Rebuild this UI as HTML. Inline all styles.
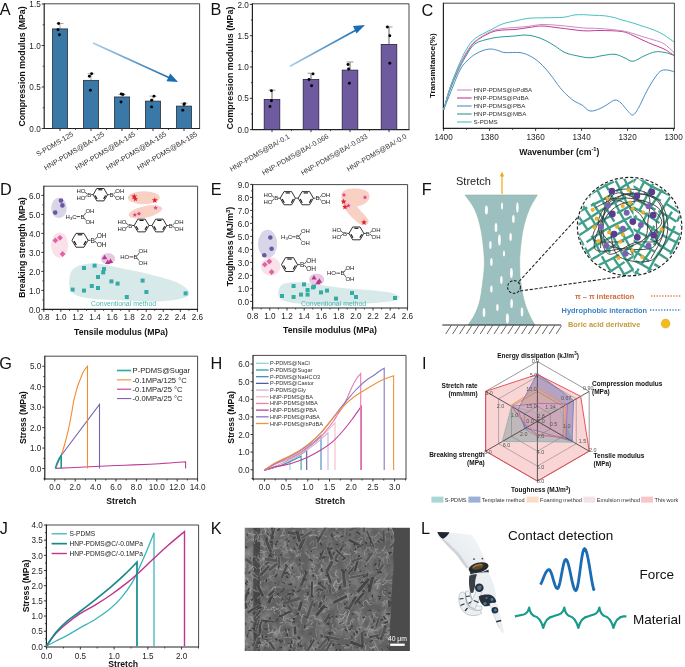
<!DOCTYPE html>
<html><head><meta charset="utf-8"><title>Figure</title>
<style>
html,body{margin:0;padding:0;background:#fff;width:685px;height:667px;overflow:hidden}
svg{display:block;font-family:"Liberation Sans", sans-serif;will-change:transform}
</style></head><body>
<svg width="685" height="667" viewBox="0 0 685 667">
<rect width="685" height="667" fill="#fff"/>
<text x="-0.2" y="15.4" font-size="16.3" text-anchor="start" fill="#111">A</text>
<line x1="44.2" y1="3.8" x2="199.6" y2="3.8" stroke="#333" stroke-width="0.9"/>
<line x1="199.6" y1="3.8" x2="199.6" y2="128.5" stroke="#333" stroke-width="0.9"/>
<line x1="44.2" y1="3.35" x2="44.2" y2="128.95" stroke="#222" stroke-width="1.2"/>
<line x1="43.6" y1="128.5" x2="200.05" y2="128.5" stroke="#222" stroke-width="1.2"/>
<line x1="41.7" y1="128.5" x2="44.2" y2="128.5" stroke="#222" stroke-width="0.9"/>
<text x="0" y="0" font-size="9.27" text-anchor="end" fill="#1e1e1e" transform="translate(40.7 131.65) scale(0.88 1)">0.0</text>
<line x1="41.7" y1="87" x2="44.2" y2="87" stroke="#222" stroke-width="0.9"/>
<text x="0" y="0" font-size="9.27" text-anchor="end" fill="#1e1e1e" transform="translate(40.7 90.15) scale(0.88 1)">0.5</text>
<line x1="41.7" y1="45.5" x2="44.2" y2="45.5" stroke="#222" stroke-width="0.9"/>
<text x="0" y="0" font-size="9.27" text-anchor="end" fill="#1e1e1e" transform="translate(40.7 48.65) scale(0.88 1)">1.0</text>
<line x1="41.7" y1="4" x2="44.2" y2="4" stroke="#222" stroke-width="0.9"/>
<text x="0" y="0" font-size="9.27" text-anchor="end" fill="#1e1e1e" transform="translate(40.7 7.15) scale(0.88 1)">1.5</text>
<line x1="42.7" y1="107.75" x2="44.2" y2="107.75" stroke="#222" stroke-width="0.8"/>
<line x1="42.7" y1="66.25" x2="44.2" y2="66.25" stroke="#222" stroke-width="0.8"/>
<line x1="42.7" y1="24.75" x2="44.2" y2="24.75" stroke="#222" stroke-width="0.8"/>
<text x="25.2" y="66.5" font-size="8.7" text-anchor="middle" fill="#111" font-weight="bold" transform="rotate(-90 25.2 66.5)">Compression modulus (MPa)</text>
<line x1="60" y1="28.9" x2="60" y2="23.51" stroke="#aaa" stroke-width="1"/>
<line x1="56.5" y1="23.51" x2="63.5" y2="23.51" stroke="#aaa" stroke-width="1"/>
<rect x="52.4" y="28.9" width="15.2" height="99.6" fill="#3a78a8" stroke="#2a3038" stroke-width="0.8"/>
<circle cx="58.6" cy="23.51" r="1.45" fill="#000" stroke="none" stroke-width="1"/>
<circle cx="58" cy="29.73" r="1.45" fill="#000" stroke="none" stroke-width="1"/>
<circle cx="59.4" cy="34.71" r="1.45" fill="#000" stroke="none" stroke-width="1"/>
<line x1="91" y1="80.36" x2="91" y2="73.72" stroke="#aaa" stroke-width="1"/>
<line x1="87.5" y1="73.72" x2="94.5" y2="73.72" stroke="#aaa" stroke-width="1"/>
<rect x="83.4" y="80.36" width="15.2" height="48.14" fill="#3a78a8" stroke="#2a3038" stroke-width="0.8"/>
<circle cx="91.6" cy="73.72" r="1.45" fill="#000" stroke="none" stroke-width="1"/>
<circle cx="89.4" cy="76.21" r="1.45" fill="#000" stroke="none" stroke-width="1"/>
<circle cx="90.4" cy="90.32" r="1.45" fill="#000" stroke="none" stroke-width="1"/>
<line x1="122" y1="96.96" x2="122" y2="94.47" stroke="#aaa" stroke-width="1"/>
<line x1="118.5" y1="94.47" x2="125.5" y2="94.47" stroke="#aaa" stroke-width="1"/>
<rect x="114.4" y="96.96" width="15.2" height="31.54" fill="#3a78a8" stroke="#2a3038" stroke-width="0.8"/>
<circle cx="121.2" cy="94.06" r="1.45" fill="#000" stroke="none" stroke-width="1"/>
<circle cx="123" cy="94.47" r="1.45" fill="#000" stroke="none" stroke-width="1"/>
<circle cx="121" cy="101.94" r="1.45" fill="#000" stroke="none" stroke-width="1"/>
<line x1="153" y1="101.11" x2="153" y2="96.13" stroke="#aaa" stroke-width="1"/>
<line x1="149.5" y1="96.13" x2="156.5" y2="96.13" stroke="#aaa" stroke-width="1"/>
<rect x="145.4" y="101.11" width="15.2" height="27.39" fill="#3a78a8" stroke="#2a3038" stroke-width="0.8"/>
<circle cx="154" cy="96.13" r="1.45" fill="#000" stroke="none" stroke-width="1"/>
<circle cx="151.6" cy="100.28" r="1.45" fill="#000" stroke="none" stroke-width="1"/>
<circle cx="151.6" cy="106.92" r="1.45" fill="#000" stroke="none" stroke-width="1"/>
<line x1="184" y1="106.09" x2="184" y2="103.19" stroke="#aaa" stroke-width="1"/>
<line x1="180.5" y1="103.19" x2="187.5" y2="103.19" stroke="#aaa" stroke-width="1"/>
<rect x="176.4" y="106.09" width="15.2" height="22.41" fill="#3a78a8" stroke="#2a3038" stroke-width="0.8"/>
<circle cx="184.5" cy="103.6" r="1.45" fill="#000" stroke="none" stroke-width="1"/>
<circle cx="184" cy="104.43" r="1.45" fill="#000" stroke="none" stroke-width="1"/>
<circle cx="182.8" cy="110.24" r="1.45" fill="#000" stroke="none" stroke-width="1"/>
<line x1="60" y1="128.5" x2="60" y2="131" stroke="#222" stroke-width="0.9"/>
<line x1="91" y1="128.5" x2="91" y2="131" stroke="#222" stroke-width="0.9"/>
<line x1="122" y1="128.5" x2="122" y2="131" stroke="#222" stroke-width="0.9"/>
<line x1="153" y1="128.5" x2="153" y2="131" stroke="#222" stroke-width="0.9"/>
<line x1="184" y1="128.5" x2="184" y2="131" stroke="#222" stroke-width="0.9"/>
<line x1="75.5" y1="128.5" x2="75.5" y2="130" stroke="#222" stroke-width="0.8"/>
<line x1="106.5" y1="128.5" x2="106.5" y2="130" stroke="#222" stroke-width="0.8"/>
<line x1="137.5" y1="128.5" x2="137.5" y2="130" stroke="#222" stroke-width="0.8"/>
<line x1="168.5" y1="128.5" x2="168.5" y2="130" stroke="#222" stroke-width="0.8"/>
<text x="74" y="135.6" font-size="7.1" text-anchor="end" fill="#333" transform="rotate(-30.5 74 135.6)">S-PDMS-125</text>
<text x="105" y="135.6" font-size="7.1" text-anchor="end" fill="#333" transform="rotate(-30.5 105 135.6)">HNP-PDMS@BA-125</text>
<text x="136" y="135.6" font-size="7.1" text-anchor="end" fill="#333" transform="rotate(-30.5 136 135.6)">HNP-PDMS@BA-145</text>
<text x="167" y="135.6" font-size="7.1" text-anchor="end" fill="#333" transform="rotate(-30.5 167 135.6)">HNP-PDMS@BA-165</text>
<text x="198" y="135.6" font-size="7.1" text-anchor="end" fill="#333" transform="rotate(-30.5 198 135.6)">HNP-PDMS@BA-185</text>
<defs><linearGradient id="ga" x1="0" y1="0" x2="1" y2="0"><stop offset="0" stop-color="#a8cde8"/><stop offset="1" stop-color="#1a6db0"/></linearGradient></defs>
<path d="M93 43 L171.5 78.7" fill="none" stroke="url(#ga)" stroke-width="1.6"/>
<polygon points="178,82 166.5,81.3 170.2,73.5" fill="#1a6db0"/>
<text x="210.4" y="15.4" font-size="16.3" text-anchor="start" fill="#111">B</text>
<line x1="252.4" y1="3.8" x2="409" y2="3.8" stroke="#333" stroke-width="0.9"/>
<line x1="409" y1="3.8" x2="409" y2="129.6" stroke="#333" stroke-width="0.9"/>
<line x1="252.4" y1="3.35" x2="252.4" y2="130.05" stroke="#222" stroke-width="1.2"/>
<line x1="251.8" y1="129.6" x2="409.45" y2="129.6" stroke="#222" stroke-width="1.2"/>
<line x1="249.9" y1="129.6" x2="252.4" y2="129.6" stroke="#222" stroke-width="0.9"/>
<text x="0" y="0" font-size="9.27" text-anchor="end" fill="#1e1e1e" transform="translate(248.9 132.75) scale(0.88 1)">0.0</text>
<line x1="249.9" y1="98.3" x2="252.4" y2="98.3" stroke="#222" stroke-width="0.9"/>
<text x="0" y="0" font-size="9.27" text-anchor="end" fill="#1e1e1e" transform="translate(248.9 101.45) scale(0.88 1)">0.5</text>
<line x1="249.9" y1="67" x2="252.4" y2="67" stroke="#222" stroke-width="0.9"/>
<text x="0" y="0" font-size="9.27" text-anchor="end" fill="#1e1e1e" transform="translate(248.9 70.15) scale(0.88 1)">1.0</text>
<line x1="249.9" y1="35.7" x2="252.4" y2="35.7" stroke="#222" stroke-width="0.9"/>
<text x="0" y="0" font-size="9.27" text-anchor="end" fill="#1e1e1e" transform="translate(248.9 38.85) scale(0.88 1)">1.5</text>
<line x1="249.9" y1="4.4" x2="252.4" y2="4.4" stroke="#222" stroke-width="0.9"/>
<text x="0" y="0" font-size="9.27" text-anchor="end" fill="#1e1e1e" transform="translate(248.9 7.55) scale(0.88 1)">2.0</text>
<line x1="250.9" y1="113.95" x2="252.4" y2="113.95" stroke="#222" stroke-width="0.8"/>
<line x1="250.9" y1="82.65" x2="252.4" y2="82.65" stroke="#222" stroke-width="0.8"/>
<line x1="250.9" y1="51.35" x2="252.4" y2="51.35" stroke="#222" stroke-width="0.8"/>
<line x1="250.9" y1="20.05" x2="252.4" y2="20.05" stroke="#222" stroke-width="0.8"/>
<text x="233.2" y="68" font-size="8.9" text-anchor="middle" fill="#111" font-weight="bold" transform="rotate(-90 233.2 68)">Compression modulus (MPa)</text>
<line x1="272" y1="99.55" x2="272" y2="90.16" stroke="#666" stroke-width="1"/>
<line x1="268.5" y1="90.16" x2="275.5" y2="90.16" stroke="#999" stroke-width="1"/>
<rect x="264.2" y="99.55" width="15.6" height="30.05" fill="#6e5a9e" stroke="#2a2040" stroke-width="0.8"/>
<circle cx="271.4" cy="90.79" r="1.45" fill="#000" stroke="none" stroke-width="1"/>
<circle cx="271.4" cy="100.8" r="1.45" fill="#000" stroke="none" stroke-width="1"/>
<circle cx="270" cy="106.44" r="1.45" fill="#000" stroke="none" stroke-width="1"/>
<line x1="311" y1="79.52" x2="311" y2="73.26" stroke="#666" stroke-width="1"/>
<line x1="307.5" y1="73.26" x2="314.5" y2="73.26" stroke="#999" stroke-width="1"/>
<rect x="303.2" y="79.52" width="15.6" height="50.08" fill="#6e5a9e" stroke="#2a2040" stroke-width="0.8"/>
<circle cx="313" cy="73.89" r="1.45" fill="#000" stroke="none" stroke-width="1"/>
<circle cx="309" cy="79.52" r="1.45" fill="#000" stroke="none" stroke-width="1"/>
<circle cx="311.6" cy="85.78" r="1.45" fill="#000" stroke="none" stroke-width="1"/>
<line x1="350" y1="70.13" x2="350" y2="61.99" stroke="#666" stroke-width="1"/>
<line x1="346.5" y1="61.99" x2="353.5" y2="61.99" stroke="#999" stroke-width="1"/>
<rect x="342.2" y="70.13" width="15.6" height="59.47" fill="#6e5a9e" stroke="#2a2040" stroke-width="0.8"/>
<circle cx="348" cy="64.5" r="1.45" fill="#000" stroke="none" stroke-width="1"/>
<circle cx="348.6" cy="68.88" r="1.45" fill="#000" stroke="none" stroke-width="1"/>
<circle cx="349.4" cy="83.28" r="1.45" fill="#000" stroke="none" stroke-width="1"/>
<line x1="389" y1="44.46" x2="389" y2="26.94" stroke="#666" stroke-width="1"/>
<line x1="385.5" y1="26.94" x2="392.5" y2="26.94" stroke="#999" stroke-width="1"/>
<rect x="381.2" y="44.46" width="15.6" height="85.14" fill="#6e5a9e" stroke="#2a2040" stroke-width="0.8"/>
<circle cx="387.4" cy="26.94" r="1.45" fill="#000" stroke="none" stroke-width="1"/>
<circle cx="389.8" cy="35.7" r="1.45" fill="#000" stroke="none" stroke-width="1"/>
<circle cx="389.8" cy="63.24" r="1.45" fill="#000" stroke="none" stroke-width="1"/>
<line x1="272" y1="129.6" x2="272" y2="132.1" stroke="#222" stroke-width="0.9"/>
<line x1="311" y1="129.6" x2="311" y2="132.1" stroke="#222" stroke-width="0.9"/>
<line x1="350" y1="129.6" x2="350" y2="132.1" stroke="#222" stroke-width="0.9"/>
<line x1="389" y1="129.6" x2="389" y2="132.1" stroke="#222" stroke-width="0.9"/>
<line x1="291.5" y1="129.6" x2="291.5" y2="131.1" stroke="#222" stroke-width="0.8"/>
<line x1="330.5" y1="129.6" x2="330.5" y2="131.1" stroke="#222" stroke-width="0.8"/>
<line x1="369.5" y1="129.6" x2="369.5" y2="131.1" stroke="#222" stroke-width="0.8"/>
<text x="290.2" y="137.8" font-size="7" text-anchor="end" fill="#333" transform="rotate(-30 290.2 137.8)">HNP-PDMS@BA/-0.1</text>
<text x="329.2" y="137.8" font-size="7" text-anchor="end" fill="#333" transform="rotate(-30 329.2 137.8)">HNP-PDMS@BA/-0.066</text>
<text x="368.2" y="137.8" font-size="7" text-anchor="end" fill="#333" transform="rotate(-30 368.2 137.8)">HNP-PDMS@BA/-0.033</text>
<text x="407.2" y="137.8" font-size="7" text-anchor="end" fill="#333" transform="rotate(-30 407.2 137.8)">HNP-PDMS@BA/-0.0</text>
<defs><linearGradient id="gb" x1="0" y1="1" x2="1" y2="0"><stop offset="0" stop-color="#a8cde8"/><stop offset="1" stop-color="#1a6db0"/></linearGradient></defs>
<path d="M290 66.2 L358 29" fill="none" stroke="url(#gb)" stroke-width="1.6"/>
<polygon points="365,25 356.5,33.5 353,26" fill="#1a6db0"/>
<text x="421.4" y="15.6" font-size="16.3" text-anchor="start" fill="#111">C</text>
<line x1="443.4" y1="3.2" x2="674.4" y2="3.2" stroke="#333" stroke-width="0.9"/>
<line x1="674.4" y1="3.2" x2="674.4" y2="128.4" stroke="#333" stroke-width="0.9"/>
<line x1="443.4" y1="2.75" x2="443.4" y2="128.85" stroke="#222" stroke-width="1.2"/>
<line x1="442.8" y1="128.4" x2="674.85" y2="128.4" stroke="#222" stroke-width="1.2"/>
<line x1="443.6" y1="128.4" x2="443.6" y2="130.9" stroke="#222" stroke-width="0.9"/>
<text x="0" y="0" font-size="9.27" text-anchor="middle" fill="#1e1e1e" transform="translate(443.6 139.8) scale(0.88 1)">1400</text>
<line x1="489.6" y1="128.4" x2="489.6" y2="130.9" stroke="#222" stroke-width="0.9"/>
<text x="0" y="0" font-size="9.27" text-anchor="middle" fill="#1e1e1e" transform="translate(489.6 139.8) scale(0.88 1)">1380</text>
<line x1="535.6" y1="128.4" x2="535.6" y2="130.9" stroke="#222" stroke-width="0.9"/>
<text x="0" y="0" font-size="9.27" text-anchor="middle" fill="#1e1e1e" transform="translate(535.6 139.8) scale(0.88 1)">1360</text>
<line x1="581.6" y1="128.4" x2="581.6" y2="130.9" stroke="#222" stroke-width="0.9"/>
<text x="0" y="0" font-size="9.27" text-anchor="middle" fill="#1e1e1e" transform="translate(581.6 139.8) scale(0.88 1)">1340</text>
<line x1="627.6" y1="128.4" x2="627.6" y2="130.9" stroke="#222" stroke-width="0.9"/>
<text x="0" y="0" font-size="9.27" text-anchor="middle" fill="#1e1e1e" transform="translate(627.6 139.8) scale(0.88 1)">1320</text>
<line x1="673.6" y1="128.4" x2="673.6" y2="130.9" stroke="#222" stroke-width="0.9"/>
<text x="0" y="0" font-size="9.27" text-anchor="middle" fill="#1e1e1e" transform="translate(673.6 139.8) scale(0.88 1)">1300</text>
<line x1="466.6" y1="128.4" x2="466.6" y2="129.9" stroke="#222" stroke-width="0.8"/>
<line x1="512.6" y1="128.4" x2="512.6" y2="129.9" stroke="#222" stroke-width="0.8"/>
<line x1="558.6" y1="128.4" x2="558.6" y2="129.9" stroke="#222" stroke-width="0.8"/>
<line x1="604.6" y1="128.4" x2="604.6" y2="129.9" stroke="#222" stroke-width="0.8"/>
<line x1="650.6" y1="128.4" x2="650.6" y2="129.9" stroke="#222" stroke-width="0.8"/>
<text x="435" y="65.7" font-size="8.1" text-anchor="middle" fill="#111" font-weight="bold" transform="rotate(-90 435 65.7)">Transmitance(%)</text>
<text x="519.3" y="154.5" font-size="8.7" text-anchor="start" fill="#111" font-weight="bold">Wavenumber (cm<tspan font-size="5.8" dy="-3.5">-1</tspan><tspan dy="3.5">)</tspan></text>
<path d="M443.6 110 C444.67 107.33 447.27 100.67 450 94 C452.73 87.33 457 75.67 460 70 C463 64.33 465.5 62.62 468 60 C470.5 57.38 472.5 55.88 475 54.3 C477.5 52.72 480.37 51.38 483 50.5 C485.63 49.62 488.3 49 490.8 49 C493.3 49 495.63 49.9 498 50.5 C500.37 51.1 501.33 52.25 505 52.6 C508.67 52.95 515.83 52.03 520 52.6 C524.17 53.17 526.67 54.27 530 56 C533.33 57.73 536.67 60 540 63 C543.33 66 546.67 69.9 550 74 C553.33 78.1 557 83.93 560 87.6 C563 91.27 565.5 93.67 568 96 C570.5 98.33 572.67 100.1 575 101.6 C577.33 103.1 579.5 103.43 582 105 C584.5 106.57 587 110.4 590 111 C593 111.6 597 109.77 600 108.6 C603 107.43 605.5 105.43 608 104 C610.5 102.57 612.83 100.17 615 100 C617.17 99.83 619 101.33 621 103 C623 104.67 625 108 627 110 C629 112 631 115.5 633 115 C635 114.5 637 110.4 639 107 C641 103.6 642.83 98.77 645 94.6 C647.17 90.43 649.5 85.85 652 82 C654.5 78.15 657.5 73.5 660 71.5 C662.5 69.5 664.67 69.95 667 70 C669.33 70.05 672.83 71.5 674 71.8" fill="none" stroke="#4f8ec4" stroke-width="1"/>
<path d="M443.6 110 C444.67 106.67 447.68 96.33 450 90 C452.32 83.67 454.83 77.67 457.5 72 C460.17 66.33 463.08 60.7 466 56 C468.92 51.3 470.87 46.72 475 43.8 C479.13 40.88 486.13 39.67 490.8 38.5 C495.47 37.33 498.97 37.22 503 36.8 C507.03 36.38 511.33 36.3 515 36 C518.67 35.7 521.67 34.92 525 35 C528.33 35.08 531.67 35.62 535 36.5 C538.33 37.38 541.67 38.72 545 40.3 C548.33 41.88 551.67 43.95 555 46 C558.33 48.05 561.17 50.93 565 52.6 C568.83 54.27 573.83 55.13 578 56 C582.17 56.87 585.83 57.88 590 57.8 C594.17 57.72 598.83 56.08 603 55.5 C607.17 54.92 611.33 53.88 615 54.3 C618.67 54.72 622 56.83 625 58 C628 59.17 629.83 61.63 633 61.3 C636.17 60.97 640.33 57.57 644 56 C647.67 54.43 651.5 52.48 655 51.9 C658.5 51.32 661.83 51.92 665 52.5 C668.17 53.08 672.5 54.92 674 55.4" fill="none" stroke="#2a9a98" stroke-width="1"/>
<path d="M443.6 110 C444.67 106.33 447.68 94.67 450 88 C452.32 81.33 454.83 75.67 457.5 70 C460.17 64.33 463.08 58.67 466 54 C468.92 49.33 470.87 45.58 475 42 C479.13 38.42 486.13 34.5 490.8 32.5 C495.47 30.5 498.97 30.5 503 30 C507.03 29.5 510.67 29.92 515 29.5 C519.33 29.08 524.5 28.08 529 27.5 C533.5 26.92 536.83 25.92 542 26 C547.17 26.08 553.05 27.2 560 28 C566.95 28.8 577.03 30.38 583.7 30.8 C590.37 31.22 593.62 30.38 600 30.5 C606.38 30.62 616.5 30.67 622 31.5 C627.5 32.33 629.5 34.03 633 35.5 C636.5 36.97 639.5 38.72 643 40.3 C646.5 41.88 650.5 43.55 654 45 C657.5 46.45 660.67 47.27 664 49 C667.33 50.73 672.33 54.33 674 55.4" fill="none" stroke="#c43c90" stroke-width="1"/>
<path d="M443.6 110 C444.67 106.33 447.68 94.67 450 88 C452.32 81.33 454.83 75.83 457.5 70 C460.17 64.17 463.08 57.78 466 53 C468.92 48.22 470.87 44.88 475 41.3 C479.13 37.72 486.13 33.63 490.8 31.5 C495.47 29.37 498.97 29.17 503 28.5 C507.03 27.83 510.67 27.87 515 27.5 C519.33 27.13 524.5 26.8 529 26.3 C533.5 25.8 536.83 24.63 542 24.5 C547.17 24.37 553.05 24.92 560 25.5 C566.95 26.08 577.03 27.5 583.7 28 C590.37 28.5 593.62 28.03 600 28.5 C606.38 28.97 616.5 29.97 622 30.8 C627.5 31.63 629.5 32.5 633 33.5 C636.5 34.5 639.5 35.72 643 36.8 C646.5 37.88 650.5 38.83 654 40 C657.5 41.17 660.67 41.72 664 43.8 C667.33 45.88 672.33 51.05 674 52.5" fill="none" stroke="#c88cc4" stroke-width="1"/>
<path d="M443.6 110 C444.67 106.33 447.68 95 450 88 C452.32 81 454.83 74.33 457.5 68 C460.17 61.67 463.08 54.92 466 50 C468.92 45.08 470.87 41.87 475 38.5 C479.13 35.13 486.13 32.25 490.8 29.8 C495.47 27.35 498.97 25.27 503 23.8 C507.03 22.33 510.67 21.93 515 21 C519.33 20.07 524 18.73 529 18.2 C534 17.67 539.17 17.97 545 17.8 C550.83 17.63 559.17 17.67 564 17.2 C568.83 16.73 570.72 15.42 574 15 C577.28 14.58 580.37 14.65 583.7 14.7 C587.03 14.75 590.5 15.12 594 15.3 C597.5 15.48 601.37 15.43 604.7 15.8 C608.03 16.17 611.12 16.8 614 17.5 C616.88 18.2 618.83 19.08 622 20 C625.17 20.92 629.5 21.95 633 23 C636.5 24.05 639.5 25.13 643 26.3 C646.5 27.47 650.5 28.55 654 30 C657.5 31.45 660.67 33 664 35 C667.33 37 672.33 40.83 674 42" fill="none" stroke="#4dbfbf" stroke-width="1"/>
<line x1="457" y1="90" x2="471.6" y2="90" stroke="#c88cc4" stroke-width="1.1"/>
<text x="473.6" y="92.2" font-size="6.2" text-anchor="start" fill="#333">HNP-PDMS@bPdBA</text>
<line x1="457" y1="98" x2="471.6" y2="98" stroke="#c43c90" stroke-width="1.1"/>
<text x="473.6" y="100.2" font-size="6.2" text-anchor="start" fill="#333">HNP-PDMS@PdBA</text>
<line x1="457" y1="106" x2="471.6" y2="106" stroke="#4f8ec4" stroke-width="1.1"/>
<text x="473.6" y="108.2" font-size="6.2" text-anchor="start" fill="#333">HNP-PDMS@PBA</text>
<line x1="457" y1="114" x2="471.6" y2="114" stroke="#2a9a98" stroke-width="1.1"/>
<text x="473.6" y="116.2" font-size="6.2" text-anchor="start" fill="#333">HNP-PDMS@MBA</text>
<line x1="457" y1="122" x2="471.6" y2="122" stroke="#4dbfbf" stroke-width="1.1"/>
<text x="473.6" y="124.2" font-size="6.2" text-anchor="start" fill="#333">S-PDMS</text>
<text x="0" y="195" font-size="16.3" text-anchor="start" fill="#111">D</text>
<path d="M69 283 C69.33 281.17 69.5 274.83 71 272 C72.5 269.17 74.83 267.42 78 266 C81.17 264.58 85.67 263.75 90 263.5 C94.33 263.25 99 263.75 104 264.5 C109 265.25 114 266.75 120 268 C126 269.25 133.33 270.5 140 272 C146.67 273.5 154 275.33 160 277 C166 278.67 171.67 280.17 176 282 C180.33 283.83 183.75 286.08 186 288 C188.25 289.92 189.67 291.92 189.5 293.5 C189.33 295.08 188.25 296.33 185 297.5 C181.75 298.67 175.83 299.83 170 300.5 C164.17 301.17 158.33 301.5 150 301.5 C141.67 301.5 129.17 300.92 120 300.5 C110.83 300.08 102 299.75 95 299 C88 298.25 82 297.33 78 296 C74 294.67 72.5 293.17 71 291 C69.5 288.83 69.33 284.33 69 283Z" fill="#d7eae9" stroke="none" stroke-width="1"/>
<ellipse cx="59" cy="208" rx="7.8" ry="10.2" fill="#d9d5e8" stroke="none" stroke-width="1"/>
<ellipse cx="59.6" cy="245.2" rx="8.6" ry="12.6" fill="#fae1e9" stroke="none" stroke-width="1"/>
<ellipse cx="108" cy="258.8" rx="7.1" ry="5.7" fill="#e8c8e1" stroke="none" stroke-width="1"/>
<ellipse cx="143.8" cy="197.7" rx="15.9" ry="6.5" fill="#f8d0c4" stroke="none" stroke-width="1"/>
<ellipse cx="145.4" cy="211.8" rx="17" ry="5.8" fill="#f8d0c4" stroke="none" stroke-width="1" transform="rotate(-12 145.4 211.8)"/>
<line x1="43.8" y1="186.2" x2="197.6" y2="186.2" stroke="#333" stroke-width="0.9"/>
<line x1="197.6" y1="186.2" x2="197.6" y2="309.4" stroke="#333" stroke-width="0.9"/>
<line x1="43.8" y1="185.75" x2="43.8" y2="309.85" stroke="#222" stroke-width="1.2"/>
<line x1="43.2" y1="309.4" x2="198.05" y2="309.4" stroke="#222" stroke-width="1.2"/>
<line x1="41.3" y1="309.4" x2="43.8" y2="309.4" stroke="#222" stroke-width="0.9"/>
<text x="0" y="0" font-size="9.27" text-anchor="end" fill="#1e1e1e" transform="translate(40.3 312.55) scale(0.88 1)">0.0</text>
<line x1="41.3" y1="290.4" x2="43.8" y2="290.4" stroke="#222" stroke-width="0.9"/>
<text x="0" y="0" font-size="9.27" text-anchor="end" fill="#1e1e1e" transform="translate(40.3 293.55) scale(0.88 1)">1.0</text>
<line x1="41.3" y1="271.4" x2="43.8" y2="271.4" stroke="#222" stroke-width="0.9"/>
<text x="0" y="0" font-size="9.27" text-anchor="end" fill="#1e1e1e" transform="translate(40.3 274.55) scale(0.88 1)">2.0</text>
<line x1="41.3" y1="252.4" x2="43.8" y2="252.4" stroke="#222" stroke-width="0.9"/>
<text x="0" y="0" font-size="9.27" text-anchor="end" fill="#1e1e1e" transform="translate(40.3 255.55) scale(0.88 1)">3.0</text>
<line x1="41.3" y1="233.4" x2="43.8" y2="233.4" stroke="#222" stroke-width="0.9"/>
<text x="0" y="0" font-size="9.27" text-anchor="end" fill="#1e1e1e" transform="translate(40.3 236.55) scale(0.88 1)">4.0</text>
<line x1="41.3" y1="214.4" x2="43.8" y2="214.4" stroke="#222" stroke-width="0.9"/>
<text x="0" y="0" font-size="9.27" text-anchor="end" fill="#1e1e1e" transform="translate(40.3 217.55) scale(0.88 1)">5.0</text>
<line x1="41.3" y1="195.4" x2="43.8" y2="195.4" stroke="#222" stroke-width="0.9"/>
<text x="0" y="0" font-size="9.27" text-anchor="end" fill="#1e1e1e" transform="translate(40.3 198.55) scale(0.88 1)">6.0</text>
<line x1="42.3" y1="299.9" x2="43.8" y2="299.9" stroke="#222" stroke-width="0.8"/>
<line x1="42.3" y1="280.9" x2="43.8" y2="280.9" stroke="#222" stroke-width="0.8"/>
<line x1="42.3" y1="261.9" x2="43.8" y2="261.9" stroke="#222" stroke-width="0.8"/>
<line x1="42.3" y1="242.9" x2="43.8" y2="242.9" stroke="#222" stroke-width="0.8"/>
<line x1="42.3" y1="223.9" x2="43.8" y2="223.9" stroke="#222" stroke-width="0.8"/>
<line x1="42.3" y1="204.9" x2="43.8" y2="204.9" stroke="#222" stroke-width="0.8"/>
<line x1="43.8" y1="309.4" x2="43.8" y2="311.9" stroke="#222" stroke-width="0.9"/>
<text x="0" y="0" font-size="9.27" text-anchor="middle" fill="#1e1e1e" transform="translate(43.8 319.9) scale(0.88 1)">0.8</text>
<line x1="60.87" y1="309.4" x2="60.87" y2="311.9" stroke="#222" stroke-width="0.9"/>
<text x="0" y="0" font-size="9.27" text-anchor="middle" fill="#1e1e1e" transform="translate(60.87 319.9) scale(0.88 1)">1.0</text>
<line x1="77.94" y1="309.4" x2="77.94" y2="311.9" stroke="#222" stroke-width="0.9"/>
<text x="0" y="0" font-size="9.27" text-anchor="middle" fill="#1e1e1e" transform="translate(77.94 319.9) scale(0.88 1)">1.2</text>
<line x1="95.01" y1="309.4" x2="95.01" y2="311.9" stroke="#222" stroke-width="0.9"/>
<text x="0" y="0" font-size="9.27" text-anchor="middle" fill="#1e1e1e" transform="translate(95.01 319.9) scale(0.88 1)">1.4</text>
<line x1="112.08" y1="309.4" x2="112.08" y2="311.9" stroke="#222" stroke-width="0.9"/>
<text x="0" y="0" font-size="9.27" text-anchor="middle" fill="#1e1e1e" transform="translate(112.08 319.9) scale(0.88 1)">1.6</text>
<line x1="129.15" y1="309.4" x2="129.15" y2="311.9" stroke="#222" stroke-width="0.9"/>
<text x="0" y="0" font-size="9.27" text-anchor="middle" fill="#1e1e1e" transform="translate(129.15 319.9) scale(0.88 1)">1.8</text>
<line x1="146.22" y1="309.4" x2="146.22" y2="311.9" stroke="#222" stroke-width="0.9"/>
<text x="0" y="0" font-size="9.27" text-anchor="middle" fill="#1e1e1e" transform="translate(146.22 319.9) scale(0.88 1)">2.0</text>
<line x1="163.29" y1="309.4" x2="163.29" y2="311.9" stroke="#222" stroke-width="0.9"/>
<text x="0" y="0" font-size="9.27" text-anchor="middle" fill="#1e1e1e" transform="translate(163.29 319.9) scale(0.88 1)">2.2</text>
<line x1="180.36" y1="309.4" x2="180.36" y2="311.9" stroke="#222" stroke-width="0.9"/>
<text x="0" y="0" font-size="9.27" text-anchor="middle" fill="#1e1e1e" transform="translate(180.36 319.9) scale(0.88 1)">2.4</text>
<line x1="197.43" y1="309.4" x2="197.43" y2="311.9" stroke="#222" stroke-width="0.9"/>
<text x="0" y="0" font-size="9.27" text-anchor="middle" fill="#1e1e1e" transform="translate(197.43 319.9) scale(0.88 1)">2.6</text>
<line x1="52.33" y1="309.4" x2="52.33" y2="310.9" stroke="#222" stroke-width="0.8"/>
<line x1="69.41" y1="309.4" x2="69.41" y2="310.9" stroke="#222" stroke-width="0.8"/>
<line x1="86.47" y1="309.4" x2="86.47" y2="310.9" stroke="#222" stroke-width="0.8"/>
<line x1="103.54" y1="309.4" x2="103.54" y2="310.9" stroke="#222" stroke-width="0.8"/>
<line x1="120.61" y1="309.4" x2="120.61" y2="310.9" stroke="#222" stroke-width="0.8"/>
<line x1="137.69" y1="309.4" x2="137.69" y2="310.9" stroke="#222" stroke-width="0.8"/>
<line x1="154.75" y1="309.4" x2="154.75" y2="310.9" stroke="#222" stroke-width="0.8"/>
<line x1="171.82" y1="309.4" x2="171.82" y2="310.9" stroke="#222" stroke-width="0.8"/>
<line x1="188.89" y1="309.4" x2="188.89" y2="310.9" stroke="#222" stroke-width="0.8"/>
<text x="24.8" y="247.6" font-size="8.7" text-anchor="middle" fill="#111" font-weight="bold" transform="rotate(-90 24.8 247.6)">Breaking strength (MPa)</text>
<text x="121" y="334.6" font-size="8.7" text-anchor="middle" fill="#111" font-weight="bold">Tensile modulus (MPa)</text>
<circle cx="61" cy="200.6" r="2.3" fill="#6c58a2" stroke="none" stroke-width="1"/>
<circle cx="62.4" cy="205.4" r="2.3" fill="#6c58a2" stroke="none" stroke-width="1"/>
<circle cx="55.2" cy="212.6" r="2.3" fill="#6c58a2" stroke="none" stroke-width="1"/>
<polygon points="55.4,237.5 58.3,240.4 55.4,243.3 52.5,240.4" fill="#e064a2" stroke="none" stroke-width="1"/>
<polygon points="60,234.9 62.9,237.8 60,240.7 57.1,237.8" fill="#e064a2" stroke="none" stroke-width="1"/>
<polygon points="62.6,251.1 65.5,254 62.6,256.9 59.7,254" fill="#e064a2" stroke="none" stroke-width="1"/>
<polygon points="104.6,254.65 107.21,259.19 101.99,259.19" fill="#b8358e" stroke="none" stroke-width="1"/>
<polygon points="107.7,259.55 110.31,264.09 105.09,264.09" fill="#b8358e" stroke="none" stroke-width="1"/>
<polygon points="110.5,258.45 113.11,262.99 107.89,262.99" fill="#b8358e" stroke="none" stroke-width="1"/>
<polygon points="134.2,193.4 135.05,195.44 137.24,195.61 135.57,197.04 136.08,199.19 134.2,198.04 132.32,199.19 132.83,197.04 131.16,195.61 133.35,195.44" fill="#e4232f" stroke="none" stroke-width="1"/>
<polygon points="135.4,196.2 136.14,197.98 138.06,198.13 136.6,199.39 137.05,201.27 135.4,200.26 133.75,201.27 134.2,199.39 132.74,198.13 134.66,197.98" fill="#e4232f" stroke="none" stroke-width="1"/>
<polygon points="154.8,197.2 155.62,199.17 157.75,199.34 156.13,200.73 156.62,202.81 154.8,201.7 152.98,202.81 153.47,200.73 151.85,199.34 153.98,199.17" fill="#e4232f" stroke="none" stroke-width="1"/>
<polygon points="134.8,212.5 135.43,214.03 137.08,214.16 135.83,215.23 136.21,216.84 134.8,215.98 133.39,216.84 133.77,215.23 132.52,214.16 134.17,214.03" fill="#e33b93" stroke="none" stroke-width="1"/>
<polygon points="139,211.3 139.63,212.83 141.28,212.96 140.03,214.03 140.41,215.64 139,214.78 137.59,215.64 137.97,214.03 136.72,212.96 138.37,212.83" fill="#e33b93" stroke="none" stroke-width="1"/>
<polygon points="155.6,205.5 156.23,207.03 157.88,207.16 156.63,208.23 157.01,209.84 155.6,208.98 154.19,209.84 154.57,208.23 153.32,207.16 154.97,207.03" fill="#e33b93" stroke="none" stroke-width="1"/>
<rect x="82" y="266" width="4" height="4" fill="#35aba6" stroke="none" stroke-width="1"/>
<rect x="92.6" y="263.6" width="4" height="4" fill="#35aba6" stroke="none" stroke-width="1"/>
<rect x="102" y="267" width="4" height="4" fill="#35aba6" stroke="none" stroke-width="1"/>
<rect x="101.2" y="270.4" width="4" height="4" fill="#35aba6" stroke="none" stroke-width="1"/>
<rect x="96" y="275" width="4" height="4" fill="#35aba6" stroke="none" stroke-width="1"/>
<rect x="70.6" y="287.6" width="4" height="4" fill="#35aba6" stroke="none" stroke-width="1"/>
<rect x="82" y="288.6" width="4" height="4" fill="#35aba6" stroke="none" stroke-width="1"/>
<rect x="89.8" y="284" width="4" height="4" fill="#35aba6" stroke="none" stroke-width="1"/>
<rect x="96" y="286" width="4" height="4" fill="#35aba6" stroke="none" stroke-width="1"/>
<rect x="109.4" y="279.4" width="4" height="4" fill="#35aba6" stroke="none" stroke-width="1"/>
<rect x="115.6" y="281.6" width="4" height="4" fill="#35aba6" stroke="none" stroke-width="1"/>
<rect x="124.8" y="295" width="4" height="4" fill="#35aba6" stroke="none" stroke-width="1"/>
<rect x="140.6" y="278.6" width="4" height="4" fill="#35aba6" stroke="none" stroke-width="1"/>
<rect x="144.4" y="290" width="4" height="4" fill="#35aba6" stroke="none" stroke-width="1"/>
<rect x="183.6" y="291.4" width="4" height="4" fill="#35aba6" stroke="none" stroke-width="1"/>
<text x="91" y="305.6" font-size="6.9" text-anchor="start" fill="#4db5b0">Conventional method</text>
<polygon points="93.2,194.7 96.78,188.51 103.93,188.51 107.5,194.7 103.93,200.89 96.78,200.89" fill="none" stroke="#1a1a1a" stroke-width="0.9" stroke-linejoin="round"/>
<line x1="98.35" y1="189.75" x2="102.35" y2="189.75" stroke="#1a1a1a" stroke-width="1.17"/>
<line x1="105.64" y1="195.44" x2="103.64" y2="198.91" stroke="#1a1a1a" stroke-width="1.17"/>
<line x1="97.06" y1="198.91" x2="95.06" y2="195.44" stroke="#1a1a1a" stroke-width="1.17"/>
<line x1="93.2" y1="194.7" x2="91" y2="194.7" stroke="#1a1a1a" stroke-width="0.8"/>
<text x="91.2" y="196.86" font-size="6" text-anchor="end" fill="#1a1a1a">B</text>
<line x1="87.2" y1="194.1" x2="85" y2="192.1" stroke="#1a1a1a" stroke-width="0.7"/>
<line x1="87.2" y1="195.3" x2="85" y2="197.3" stroke="#1a1a1a" stroke-width="0.7"/>
<text x="85.4" y="193.36" font-size="6" text-anchor="end" fill="#1a1a1a">HO</text>
<text x="85.4" y="200.36" font-size="6" text-anchor="end" fill="#1a1a1a">HO</text>
<line x1="107.5" y1="194.7" x2="109.7" y2="194.7" stroke="#1a1a1a" stroke-width="0.8"/>
<text x="109.5" y="196.86" font-size="6" text-anchor="start" fill="#1a1a1a">B</text>
<line x1="113.5" y1="194.1" x2="115.7" y2="192.1" stroke="#1a1a1a" stroke-width="0.7"/>
<line x1="113.5" y1="195.3" x2="115.7" y2="197.3" stroke="#1a1a1a" stroke-width="0.7"/>
<text x="115.3" y="193.36" font-size="6" text-anchor="start" fill="#1a1a1a">OH</text>
<text x="115.3" y="200.36" font-size="6" text-anchor="start" fill="#1a1a1a">OH</text>
<text x="65.6" y="218.76" font-size="6" text-anchor="start" fill="#1a1a1a">H<tspan font-size="4.2" dy="1.2">3</tspan><tspan dy="-1.2">C</tspan></text>
<line x1="76.32" y1="216.6" x2="80.12" y2="216.6" stroke="#1a1a1a" stroke-width="0.8"/>
<text x="80.42" y="218.76" font-size="6" text-anchor="start" fill="#1a1a1a">B</text>
<line x1="84.12" y1="215.4" x2="85.82" y2="212.8" stroke="#1a1a1a" stroke-width="0.7"/>
<line x1="84.12" y1="217.8" x2="85.82" y2="220.4" stroke="#1a1a1a" stroke-width="0.7"/>
<text x="85.42" y="213.16" font-size="6" text-anchor="start" fill="#1a1a1a">OH</text>
<text x="85.42" y="224.36" font-size="6" text-anchor="start" fill="#1a1a1a">OH</text>
<polygon points="72,240.3 76,233.37 84,233.37 88,240.3 84,247.23 76,247.23" fill="none" stroke="#1a1a1a" stroke-width="0.9" stroke-linejoin="round"/>
<line x1="77.76" y1="234.76" x2="82.24" y2="234.76" stroke="#1a1a1a" stroke-width="1.17"/>
<line x1="85.92" y1="241.13" x2="83.68" y2="245.01" stroke="#1a1a1a" stroke-width="1.17"/>
<line x1="76.32" y1="245.01" x2="74.08" y2="241.13" stroke="#1a1a1a" stroke-width="1.17"/>
<line x1="88" y1="240.3" x2="90.6" y2="240.3" stroke="#1a1a1a" stroke-width="0.8"/>
<text x="90.5" y="242.68" font-size="6.6" text-anchor="start" fill="#1a1a1a">B</text>
<line x1="94.9" y1="239.7" x2="97.1" y2="237" stroke="#1a1a1a" stroke-width="0.7"/>
<line x1="94.9" y1="240.9" x2="97.1" y2="243.6" stroke="#1a1a1a" stroke-width="0.7"/>
<text x="96.7" y="238.48" font-size="6.6" text-anchor="start" fill="#1a1a1a">OH</text>
<text x="96.7" y="246.88" font-size="6.6" text-anchor="start" fill="#1a1a1a">OH</text>
<polygon points="134.2,225.5 137.87,219.13 145.22,219.13 148.9,225.5 145.22,231.87 137.87,231.87" fill="none" stroke="#1a1a1a" stroke-width="0.9" stroke-linejoin="round"/>
<line x1="139.49" y1="220.41" x2="143.61" y2="220.41" stroke="#1a1a1a" stroke-width="1.17"/>
<line x1="146.99" y1="226.26" x2="144.93" y2="229.83" stroke="#1a1a1a" stroke-width="1.17"/>
<line x1="138.17" y1="229.83" x2="136.11" y2="226.26" stroke="#1a1a1a" stroke-width="1.17"/>
<polygon points="152,225.5 155.67,219.13 163.02,219.13 166.7,225.5 163.02,231.87 155.67,231.87" fill="none" stroke="#1a1a1a" stroke-width="0.9" stroke-linejoin="round"/>
<line x1="157.29" y1="220.41" x2="161.41" y2="220.41" stroke="#1a1a1a" stroke-width="1.17"/>
<line x1="164.79" y1="226.26" x2="162.73" y2="229.83" stroke="#1a1a1a" stroke-width="1.17"/>
<line x1="155.97" y1="229.83" x2="153.91" y2="226.26" stroke="#1a1a1a" stroke-width="1.17"/>
<line x1="148.9" y1="225.5" x2="152" y2="225.5" stroke="#1a1a1a" stroke-width="0.8"/>
<line x1="134.2" y1="225.5" x2="132" y2="225.5" stroke="#1a1a1a" stroke-width="0.8"/>
<text x="132.2" y="227.66" font-size="6" text-anchor="end" fill="#1a1a1a">B</text>
<line x1="128.2" y1="224.9" x2="126" y2="222.9" stroke="#1a1a1a" stroke-width="0.7"/>
<line x1="128.2" y1="226.1" x2="126" y2="228.1" stroke="#1a1a1a" stroke-width="0.7"/>
<text x="126.4" y="224.16" font-size="6" text-anchor="end" fill="#1a1a1a">HO</text>
<text x="126.4" y="231.16" font-size="6" text-anchor="end" fill="#1a1a1a">HO</text>
<line x1="166.7" y1="225.5" x2="168.9" y2="225.5" stroke="#1a1a1a" stroke-width="0.8"/>
<text x="168.7" y="227.66" font-size="6" text-anchor="start" fill="#1a1a1a">B</text>
<line x1="172.7" y1="224.9" x2="174.9" y2="222.9" stroke="#1a1a1a" stroke-width="0.7"/>
<line x1="172.7" y1="226.1" x2="174.9" y2="228.1" stroke="#1a1a1a" stroke-width="0.7"/>
<text x="174.5" y="224.16" font-size="6" text-anchor="start" fill="#1a1a1a">OH</text>
<text x="174.5" y="231.16" font-size="6" text-anchor="start" fill="#1a1a1a">OH</text>
<text x="120.2" y="259.06" font-size="6" text-anchor="start" fill="#1a1a1a">HO</text>
<line x1="129.5" y1="256.9" x2="133.4" y2="256.9" stroke="#1a1a1a" stroke-width="0.8"/>
<text x="133.6" y="259.06" font-size="6" text-anchor="start" fill="#1a1a1a">B</text>
<line x1="137.3" y1="255.7" x2="139" y2="253" stroke="#1a1a1a" stroke-width="0.7"/>
<line x1="137.3" y1="258.1" x2="139" y2="260.8" stroke="#1a1a1a" stroke-width="0.7"/>
<text x="138.6" y="253.36" font-size="6" text-anchor="start" fill="#1a1a1a">OH</text>
<text x="138.6" y="264.76" font-size="6" text-anchor="start" fill="#1a1a1a">OH</text>
<text x="210.8" y="194.8" font-size="16.3" text-anchor="start" fill="#111">E</text>
<path d="M278 293 C278.5 291.75 279 287.25 281 285.5 C283 283.75 286 283 290 282.5 C294 282 299.67 282.08 305 282.5 C310.33 282.92 315.83 284.08 322 285 C328.17 285.92 334.33 287.17 342 288 C349.67 288.83 360 289.25 368 290 C376 290.75 384.75 291.42 390 292.5 C395.25 293.58 398.67 295.17 399.5 296.5 C400.33 297.83 398.25 299.5 395 300.5 C391.75 301.5 386.67 301.83 380 302.5 C373.33 303.17 363.33 304.08 355 304.5 C346.67 304.92 338.33 305.08 330 305 C321.67 304.92 312 304.5 305 304 C298 303.5 292.17 302.92 288 302 C283.83 301.08 281.67 300 280 298.5 C278.33 297 278.33 293.92 278 293Z" fill="#d7eae9" stroke="none" stroke-width="1"/>
<ellipse cx="267.6" cy="244" rx="9.6" ry="14.2" fill="#d9d5e8" stroke="none" stroke-width="1"/>
<ellipse cx="270.6" cy="266.5" rx="9.8" ry="9.2" fill="#fae1e9" stroke="none" stroke-width="1"/>
<ellipse cx="316.6" cy="279.4" rx="7.6" ry="5.8" fill="#e8c8e1" stroke="none" stroke-width="1"/>
<path d="M341.5 197 C340 189, 350 188.5, 356 188.5 C365 188.5, 370.5 192, 369.5 197.5 C368.5 203, 362 205.5, 357 206.5 C360 211, 366 215, 368.5 220.5 C369.5 225.5, 363 226.5, 359 223.5 C352 218, 344 210, 342 203 Z" fill="#f8d0c4" stroke="none" stroke-width="1"/>
<line x1="252.6" y1="184.6" x2="407.6" y2="184.6" stroke="#333" stroke-width="0.9"/>
<line x1="407.6" y1="184.6" x2="407.6" y2="308" stroke="#333" stroke-width="0.9"/>
<line x1="252.6" y1="184.15" x2="252.6" y2="308.45" stroke="#222" stroke-width="1.2"/>
<line x1="252" y1="308" x2="408.05" y2="308" stroke="#222" stroke-width="1.2"/>
<line x1="250.1" y1="301.4" x2="252.6" y2="301.4" stroke="#222" stroke-width="0.9"/>
<text x="0" y="0" font-size="9.27" text-anchor="end" fill="#1e1e1e" transform="translate(249.1 304.55) scale(0.88 1)">0.0</text>
<line x1="250.1" y1="288.4" x2="252.6" y2="288.4" stroke="#222" stroke-width="0.9"/>
<text x="0" y="0" font-size="9.27" text-anchor="end" fill="#1e1e1e" transform="translate(249.1 291.55) scale(0.88 1)">1.0</text>
<line x1="250.1" y1="275.4" x2="252.6" y2="275.4" stroke="#222" stroke-width="0.9"/>
<text x="0" y="0" font-size="9.27" text-anchor="end" fill="#1e1e1e" transform="translate(249.1 278.55) scale(0.88 1)">2.0</text>
<line x1="250.1" y1="262.4" x2="252.6" y2="262.4" stroke="#222" stroke-width="0.9"/>
<text x="0" y="0" font-size="9.27" text-anchor="end" fill="#1e1e1e" transform="translate(249.1 265.55) scale(0.88 1)">3.0</text>
<line x1="250.1" y1="249.4" x2="252.6" y2="249.4" stroke="#222" stroke-width="0.9"/>
<text x="0" y="0" font-size="9.27" text-anchor="end" fill="#1e1e1e" transform="translate(249.1 252.55) scale(0.88 1)">4.0</text>
<line x1="250.1" y1="236.4" x2="252.6" y2="236.4" stroke="#222" stroke-width="0.9"/>
<text x="0" y="0" font-size="9.27" text-anchor="end" fill="#1e1e1e" transform="translate(249.1 239.55) scale(0.88 1)">5.0</text>
<line x1="250.1" y1="223.4" x2="252.6" y2="223.4" stroke="#222" stroke-width="0.9"/>
<text x="0" y="0" font-size="9.27" text-anchor="end" fill="#1e1e1e" transform="translate(249.1 226.55) scale(0.88 1)">6.0</text>
<line x1="250.1" y1="210.4" x2="252.6" y2="210.4" stroke="#222" stroke-width="0.9"/>
<text x="0" y="0" font-size="9.27" text-anchor="end" fill="#1e1e1e" transform="translate(249.1 213.55) scale(0.88 1)">7.0</text>
<line x1="250.1" y1="197.4" x2="252.6" y2="197.4" stroke="#222" stroke-width="0.9"/>
<text x="0" y="0" font-size="9.27" text-anchor="end" fill="#1e1e1e" transform="translate(249.1 200.55) scale(0.88 1)">8.0</text>
<line x1="250.1" y1="184.4" x2="252.6" y2="184.4" stroke="#222" stroke-width="0.9"/>
<text x="0" y="0" font-size="9.27" text-anchor="end" fill="#1e1e1e" transform="translate(249.1 187.55) scale(0.88 1)">9.0</text>
<line x1="251.1" y1="307.9" x2="252.6" y2="307.9" stroke="#222" stroke-width="0.8"/>
<line x1="251.1" y1="294.9" x2="252.6" y2="294.9" stroke="#222" stroke-width="0.8"/>
<line x1="251.1" y1="281.9" x2="252.6" y2="281.9" stroke="#222" stroke-width="0.8"/>
<line x1="251.1" y1="268.9" x2="252.6" y2="268.9" stroke="#222" stroke-width="0.8"/>
<line x1="251.1" y1="255.9" x2="252.6" y2="255.9" stroke="#222" stroke-width="0.8"/>
<line x1="251.1" y1="242.9" x2="252.6" y2="242.9" stroke="#222" stroke-width="0.8"/>
<line x1="251.1" y1="229.9" x2="252.6" y2="229.9" stroke="#222" stroke-width="0.8"/>
<line x1="251.1" y1="216.9" x2="252.6" y2="216.9" stroke="#222" stroke-width="0.8"/>
<line x1="251.1" y1="203.9" x2="252.6" y2="203.9" stroke="#222" stroke-width="0.8"/>
<line x1="251.1" y1="190.9" x2="252.6" y2="190.9" stroke="#222" stroke-width="0.8"/>
<line x1="252.6" y1="308" x2="252.6" y2="310.5" stroke="#222" stroke-width="0.9"/>
<text x="0" y="0" font-size="9.27" text-anchor="middle" fill="#1e1e1e" transform="translate(252.6 318.8) scale(0.88 1)">0.8</text>
<line x1="269.8" y1="308" x2="269.8" y2="310.5" stroke="#222" stroke-width="0.9"/>
<text x="0" y="0" font-size="9.27" text-anchor="middle" fill="#1e1e1e" transform="translate(269.8 318.8) scale(0.88 1)">1.0</text>
<line x1="287" y1="308" x2="287" y2="310.5" stroke="#222" stroke-width="0.9"/>
<text x="0" y="0" font-size="9.27" text-anchor="middle" fill="#1e1e1e" transform="translate(287 318.8) scale(0.88 1)">1.2</text>
<line x1="304.2" y1="308" x2="304.2" y2="310.5" stroke="#222" stroke-width="0.9"/>
<text x="0" y="0" font-size="9.27" text-anchor="middle" fill="#1e1e1e" transform="translate(304.2 318.8) scale(0.88 1)">1.4</text>
<line x1="321.4" y1="308" x2="321.4" y2="310.5" stroke="#222" stroke-width="0.9"/>
<text x="0" y="0" font-size="9.27" text-anchor="middle" fill="#1e1e1e" transform="translate(321.4 318.8) scale(0.88 1)">1.6</text>
<line x1="338.6" y1="308" x2="338.6" y2="310.5" stroke="#222" stroke-width="0.9"/>
<text x="0" y="0" font-size="9.27" text-anchor="middle" fill="#1e1e1e" transform="translate(338.6 318.8) scale(0.88 1)">1.8</text>
<line x1="355.8" y1="308" x2="355.8" y2="310.5" stroke="#222" stroke-width="0.9"/>
<text x="0" y="0" font-size="9.27" text-anchor="middle" fill="#1e1e1e" transform="translate(355.8 318.8) scale(0.88 1)">2.0</text>
<line x1="373" y1="308" x2="373" y2="310.5" stroke="#222" stroke-width="0.9"/>
<text x="0" y="0" font-size="9.27" text-anchor="middle" fill="#1e1e1e" transform="translate(373 318.8) scale(0.88 1)">2.2</text>
<line x1="390.2" y1="308" x2="390.2" y2="310.5" stroke="#222" stroke-width="0.9"/>
<text x="0" y="0" font-size="9.27" text-anchor="middle" fill="#1e1e1e" transform="translate(390.2 318.8) scale(0.88 1)">2.4</text>
<line x1="407.4" y1="308" x2="407.4" y2="310.5" stroke="#222" stroke-width="0.9"/>
<text x="0" y="0" font-size="9.27" text-anchor="middle" fill="#1e1e1e" transform="translate(407.4 318.8) scale(0.88 1)">2.6</text>
<line x1="261.2" y1="308" x2="261.2" y2="309.5" stroke="#222" stroke-width="0.8"/>
<line x1="278.4" y1="308" x2="278.4" y2="309.5" stroke="#222" stroke-width="0.8"/>
<line x1="295.6" y1="308" x2="295.6" y2="309.5" stroke="#222" stroke-width="0.8"/>
<line x1="312.8" y1="308" x2="312.8" y2="309.5" stroke="#222" stroke-width="0.8"/>
<line x1="330" y1="308" x2="330" y2="309.5" stroke="#222" stroke-width="0.8"/>
<line x1="347.2" y1="308" x2="347.2" y2="309.5" stroke="#222" stroke-width="0.8"/>
<line x1="364.4" y1="308" x2="364.4" y2="309.5" stroke="#222" stroke-width="0.8"/>
<line x1="381.6" y1="308" x2="381.6" y2="309.5" stroke="#222" stroke-width="0.8"/>
<line x1="398.8" y1="308" x2="398.8" y2="309.5" stroke="#222" stroke-width="0.8"/>
<text x="233.2" y="246.5" font-size="8.7" text-anchor="middle" fill="#111" font-weight="bold" transform="rotate(-90 233.2 246.5)">Toughness (MJ/m<tspan font-size="6" dy="-3.5">3</tspan><tspan dy="3.5">)</tspan></text>
<text x="330" y="333.2" font-size="8.7" text-anchor="middle" fill="#111" font-weight="bold">Tensile modulus (MPa)</text>
<circle cx="270.3" cy="237.5" r="2.3" fill="#6c58a2" stroke="none" stroke-width="1"/>
<circle cx="271.6" cy="248.7" r="2.3" fill="#6c58a2" stroke="none" stroke-width="1"/>
<circle cx="264.3" cy="255.3" r="2.3" fill="#6c58a2" stroke="none" stroke-width="1"/>
<polygon points="264.8,261.7 267.7,264.6 264.8,267.5 261.9,264.6" fill="#e064a2" stroke="none" stroke-width="1"/>
<polygon points="269.3,258.6 272.2,261.5 269.3,264.4 266.4,261.5" fill="#e064a2" stroke="none" stroke-width="1"/>
<polygon points="271.6,269.1 274.5,272 271.6,274.9 268.7,272" fill="#e064a2" stroke="none" stroke-width="1"/>
<polygon points="314,275.05 316.61,279.59 311.39,279.59" fill="#b8358e" stroke="none" stroke-width="1"/>
<polygon points="319.4,278.25 322.01,282.79 316.79,282.79" fill="#b8358e" stroke="none" stroke-width="1"/>
<polygon points="318,279.65 320.61,284.19 315.39,284.19" fill="#b8358e" stroke="none" stroke-width="1"/>
<polygon points="344,192.6 344.63,194.13 346.28,194.26 345.03,195.33 345.41,196.94 344,196.08 342.59,196.94 342.97,195.33 341.72,194.26 343.37,194.13" fill="#e33b93" stroke="none" stroke-width="1"/>
<polygon points="365,195 365.63,196.53 367.28,196.66 366.03,197.73 366.41,199.34 365,198.48 363.59,199.34 363.97,197.73 362.72,196.66 364.37,196.53" fill="#e33b93" stroke="none" stroke-width="1"/>
<polygon points="348.4,203.2 349.03,204.73 350.68,204.86 349.43,205.93 349.81,207.54 348.4,206.68 346.99,207.54 347.37,205.93 346.12,204.86 347.77,204.73" fill="#e33b93" stroke="none" stroke-width="1"/>
<polygon points="343.6,198.6 344.39,200.51 346.45,200.67 344.88,202.02 345.36,204.03 343.6,202.95 341.84,204.03 342.32,202.02 340.75,200.67 342.81,200.51" fill="#e4232f" stroke="none" stroke-width="1"/>
<polygon points="345,204 345.79,205.91 347.85,206.07 346.28,207.42 346.76,209.43 345,208.35 343.24,209.43 343.72,207.42 342.15,206.07 344.21,205.91" fill="#e4232f" stroke="none" stroke-width="1"/>
<polygon points="364,219.4 364.79,221.31 366.85,221.47 365.28,222.82 365.76,224.83 364,223.75 362.24,224.83 362.72,222.82 361.15,221.47 363.21,221.31" fill="#e4232f" stroke="none" stroke-width="1"/>
<rect x="280" y="294" width="4" height="4" fill="#35aba6" stroke="none" stroke-width="1"/>
<rect x="291.6" y="284" width="4" height="4" fill="#35aba6" stroke="none" stroke-width="1"/>
<rect x="291.6" y="295" width="4" height="4" fill="#35aba6" stroke="none" stroke-width="1"/>
<rect x="299" y="292.6" width="4" height="4" fill="#35aba6" stroke="none" stroke-width="1"/>
<rect x="302" y="282.4" width="4" height="4" fill="#35aba6" stroke="none" stroke-width="1"/>
<rect x="305.6" y="288" width="4" height="4" fill="#35aba6" stroke="none" stroke-width="1"/>
<rect x="305.6" y="292.6" width="4" height="4" fill="#35aba6" stroke="none" stroke-width="1"/>
<rect x="311" y="285.4" width="4" height="4" fill="#35aba6" stroke="none" stroke-width="1"/>
<rect x="312" y="284.6" width="4" height="4" fill="#35aba6" stroke="none" stroke-width="1"/>
<rect x="319" y="290.4" width="4" height="4" fill="#35aba6" stroke="none" stroke-width="1"/>
<rect x="325" y="288.6" width="4" height="4" fill="#35aba6" stroke="none" stroke-width="1"/>
<rect x="334" y="296.6" width="4" height="4" fill="#35aba6" stroke="none" stroke-width="1"/>
<rect x="350" y="291" width="4" height="4" fill="#35aba6" stroke="none" stroke-width="1"/>
<rect x="354" y="295" width="4" height="4" fill="#35aba6" stroke="none" stroke-width="1"/>
<rect x="393" y="296" width="4" height="4" fill="#35aba6" stroke="none" stroke-width="1"/>
<text x="301" y="306.4" font-size="6.9" text-anchor="start" fill="#4db5b0">Conventional method</text>
<polygon points="280.2,198.2 284,191.62 291.6,191.62 295.4,198.2 291.6,204.78 284,204.78" fill="none" stroke="#1a1a1a" stroke-width="0.9" stroke-linejoin="round"/>
<line x1="285.67" y1="192.93" x2="289.93" y2="192.93" stroke="#1a1a1a" stroke-width="1.17"/>
<line x1="293.42" y1="198.99" x2="291.3" y2="202.68" stroke="#1a1a1a" stroke-width="1.17"/>
<line x1="284.3" y1="202.68" x2="282.18" y2="198.99" stroke="#1a1a1a" stroke-width="1.17"/>
<polygon points="298.2,198.2 302,191.62 309.6,191.62 313.4,198.2 309.6,204.78 302,204.78" fill="none" stroke="#1a1a1a" stroke-width="0.9" stroke-linejoin="round"/>
<line x1="303.67" y1="192.93" x2="307.93" y2="192.93" stroke="#1a1a1a" stroke-width="1.17"/>
<line x1="311.42" y1="198.99" x2="309.3" y2="202.68" stroke="#1a1a1a" stroke-width="1.17"/>
<line x1="302.3" y1="202.68" x2="300.18" y2="198.99" stroke="#1a1a1a" stroke-width="1.17"/>
<line x1="295.4" y1="198.2" x2="298.2" y2="198.2" stroke="#1a1a1a" stroke-width="0.8"/>
<line x1="280.2" y1="198.2" x2="278" y2="198.2" stroke="#1a1a1a" stroke-width="0.8"/>
<text x="278.2" y="200.36" font-size="6" text-anchor="end" fill="#1a1a1a">B</text>
<line x1="274.2" y1="197.6" x2="272" y2="195.6" stroke="#1a1a1a" stroke-width="0.7"/>
<line x1="274.2" y1="198.8" x2="272" y2="200.8" stroke="#1a1a1a" stroke-width="0.7"/>
<text x="272.4" y="196.86" font-size="6" text-anchor="end" fill="#1a1a1a">HO</text>
<text x="272.4" y="203.86" font-size="6" text-anchor="end" fill="#1a1a1a">HO</text>
<line x1="313.4" y1="198.2" x2="315.6" y2="198.2" stroke="#1a1a1a" stroke-width="0.8"/>
<text x="315.4" y="200.36" font-size="6" text-anchor="start" fill="#1a1a1a">B</text>
<line x1="319.4" y1="197.6" x2="321.6" y2="195.6" stroke="#1a1a1a" stroke-width="0.7"/>
<line x1="319.4" y1="198.8" x2="321.6" y2="200.8" stroke="#1a1a1a" stroke-width="0.7"/>
<text x="321.2" y="196.86" font-size="6" text-anchor="start" fill="#1a1a1a">OH</text>
<text x="321.2" y="203.86" font-size="6" text-anchor="start" fill="#1a1a1a">OH</text>
<text x="281.1" y="238.96" font-size="6" text-anchor="start" fill="#1a1a1a">H<tspan font-size="4.2" dy="1.2">3</tspan><tspan dy="-1.2">C</tspan></text>
<line x1="291.82" y1="236.8" x2="295.62" y2="236.8" stroke="#1a1a1a" stroke-width="0.8"/>
<text x="295.92" y="238.96" font-size="6" text-anchor="start" fill="#1a1a1a">B</text>
<line x1="299.62" y1="235.6" x2="301.32" y2="233" stroke="#1a1a1a" stroke-width="0.7"/>
<line x1="299.62" y1="238" x2="301.32" y2="240.6" stroke="#1a1a1a" stroke-width="0.7"/>
<text x="300.92" y="233.36" font-size="6" text-anchor="start" fill="#1a1a1a">OH</text>
<text x="300.92" y="244.56" font-size="6" text-anchor="start" fill="#1a1a1a">OH</text>
<polygon points="281.5,264.6 285.5,257.67 293.5,257.67 297.5,264.6 293.5,271.53 285.5,271.53" fill="none" stroke="#1a1a1a" stroke-width="0.9" stroke-linejoin="round"/>
<line x1="287.26" y1="259.06" x2="291.74" y2="259.06" stroke="#1a1a1a" stroke-width="1.17"/>
<line x1="295.42" y1="265.43" x2="293.18" y2="269.31" stroke="#1a1a1a" stroke-width="1.17"/>
<line x1="285.82" y1="269.31" x2="283.58" y2="265.43" stroke="#1a1a1a" stroke-width="1.17"/>
<line x1="297.5" y1="264.6" x2="300.1" y2="264.6" stroke="#1a1a1a" stroke-width="0.8"/>
<text x="300" y="266.98" font-size="6.6" text-anchor="start" fill="#1a1a1a">B</text>
<line x1="304.4" y1="264" x2="306.6" y2="261.3" stroke="#1a1a1a" stroke-width="0.7"/>
<line x1="304.4" y1="265.2" x2="306.6" y2="267.9" stroke="#1a1a1a" stroke-width="0.7"/>
<text x="306.2" y="262.78" font-size="6.6" text-anchor="start" fill="#1a1a1a">OH</text>
<text x="306.2" y="271.18" font-size="6.6" text-anchor="start" fill="#1a1a1a">OH</text>
<polygon points="349,233.4 352.7,226.99 360.1,226.99 363.8,233.4 360.1,239.81 352.7,239.81" fill="none" stroke="#1a1a1a" stroke-width="0.9" stroke-linejoin="round"/>
<line x1="354.33" y1="228.27" x2="358.47" y2="228.27" stroke="#1a1a1a" stroke-width="1.17"/>
<line x1="361.88" y1="234.17" x2="359.8" y2="237.76" stroke="#1a1a1a" stroke-width="1.17"/>
<line x1="353" y1="237.76" x2="350.92" y2="234.17" stroke="#1a1a1a" stroke-width="1.17"/>
<line x1="349" y1="233.4" x2="346.8" y2="233.4" stroke="#1a1a1a" stroke-width="0.8"/>
<text x="347" y="235.56" font-size="6" text-anchor="end" fill="#1a1a1a">B</text>
<line x1="343" y1="232.8" x2="340.8" y2="230.8" stroke="#1a1a1a" stroke-width="0.7"/>
<line x1="343" y1="234" x2="340.8" y2="236" stroke="#1a1a1a" stroke-width="0.7"/>
<text x="341.2" y="232.06" font-size="6" text-anchor="end" fill="#1a1a1a">HO</text>
<text x="341.2" y="239.06" font-size="6" text-anchor="end" fill="#1a1a1a">HO</text>
<line x1="363.8" y1="233.4" x2="366" y2="233.4" stroke="#1a1a1a" stroke-width="0.8"/>
<text x="365.8" y="235.56" font-size="6" text-anchor="start" fill="#1a1a1a">B</text>
<line x1="369.8" y1="232.8" x2="372" y2="230.8" stroke="#1a1a1a" stroke-width="0.7"/>
<line x1="369.8" y1="234" x2="372" y2="236" stroke="#1a1a1a" stroke-width="0.7"/>
<text x="371.6" y="232.06" font-size="6" text-anchor="start" fill="#1a1a1a">OH</text>
<text x="371.6" y="239.06" font-size="6" text-anchor="start" fill="#1a1a1a">OH</text>
<text x="327" y="275.36" font-size="6" text-anchor="start" fill="#1a1a1a">HO</text>
<line x1="336.3" y1="273.2" x2="340.2" y2="273.2" stroke="#1a1a1a" stroke-width="0.8"/>
<text x="340.4" y="275.36" font-size="6" text-anchor="start" fill="#1a1a1a">B</text>
<line x1="344.1" y1="272" x2="345.8" y2="269.3" stroke="#1a1a1a" stroke-width="0.7"/>
<line x1="344.1" y1="274.4" x2="345.8" y2="277.1" stroke="#1a1a1a" stroke-width="0.7"/>
<text x="345.4" y="269.66" font-size="6" text-anchor="start" fill="#1a1a1a">OH</text>
<text x="345.4" y="281.06" font-size="6" text-anchor="start" fill="#1a1a1a">OH</text>
<text x="421.8" y="194.8" font-size="16.3" text-anchor="start" fill="#111">F</text>
<text x="456" y="184.8" font-size="11" text-anchor="start" fill="#222">Stretch</text>
<line x1="502" y1="194" x2="502" y2="175" stroke="#f0a81c" stroke-width="1.2"/>
<polygon points="502,171.5 499.8,176.5 504.2,176.5" fill="#f0a81c"/>
<path d="M465 195 C466.67 197.5 472.33 204.17 475 210 C477.67 215.83 479.5 222.67 481 230 C482.5 237.33 483.47 247.67 484 254 C484.53 260.33 484.37 263.67 484.2 268 C484.03 272.33 483.7 274.67 483 280 C482.3 285.33 481.33 294.33 480 300 C478.67 305.67 477 309.83 475 314 C473 318.17 469.17 323.17 468 325 L535 325 C534 323.17 530.83 318.17 529 314 C527.17 309.83 525.42 305.67 524 300 C522.58 294.33 521.2 285.33 520.5 280 C519.8 274.67 519.88 272.33 519.8 268 C519.72 263.67 519.47 260.33 520 254 C520.53 247.67 521.5 237.33 523 230 C524.5 222.67 526.6 215.83 529 210 C531.4 204.17 536 197.5 537.4 195 Z" fill="#9cc0bf" stroke="#8dbba3" stroke-width="0.6"/>
<ellipse cx="486.4" cy="210" rx="1.5" ry="4.5" fill="#fff" stroke="none" stroke-width="1"/>
<ellipse cx="502" cy="206" rx="1" ry="3.5" fill="#fff" stroke="none" stroke-width="1"/>
<ellipse cx="517.4" cy="207.6" rx="1.2" ry="5" fill="#fff" stroke="none" stroke-width="1"/>
<ellipse cx="513.4" cy="219" rx="1.3" ry="4" fill="#fff" stroke="none" stroke-width="1"/>
<ellipse cx="496" cy="227.6" rx="1.3" ry="4.5" fill="#fff" stroke="none" stroke-width="1"/>
<ellipse cx="499.4" cy="240" rx="1.4" ry="5.5" fill="#fff" stroke="none" stroke-width="1"/>
<ellipse cx="510.6" cy="237" rx="1.2" ry="4" fill="#fff" stroke="none" stroke-width="1"/>
<ellipse cx="490.4" cy="245" rx="1.2" ry="4" fill="#fff" stroke="none" stroke-width="1"/>
<ellipse cx="504" cy="253.6" rx="1" ry="3" fill="#fff" stroke="none" stroke-width="1"/>
<ellipse cx="491.4" cy="262" rx="1.2" ry="4" fill="#fff" stroke="none" stroke-width="1"/>
<ellipse cx="511.4" cy="273" rx="1.4" ry="5" fill="#fff" stroke="none" stroke-width="1"/>
<ellipse cx="501.4" cy="280" rx="1.2" ry="4" fill="#fff" stroke="none" stroke-width="1"/>
<ellipse cx="491.4" cy="289" rx="1.2" ry="3.5" fill="#fff" stroke="none" stroke-width="1"/>
<ellipse cx="511.6" cy="303.6" rx="1.3" ry="4.5" fill="#fff" stroke="none" stroke-width="1"/>
<ellipse cx="497.4" cy="307.6" rx="1.2" ry="3.5" fill="#fff" stroke="none" stroke-width="1"/>
<ellipse cx="484" cy="312.4" rx="1.3" ry="4.5" fill="#fff" stroke="none" stroke-width="1"/>
<ellipse cx="507.4" cy="318.4" rx="1.5" ry="5" fill="#fff" stroke="none" stroke-width="1"/>
<ellipse cx="522" cy="312" rx="1.3" ry="4.5" fill="#fff" stroke="none" stroke-width="1"/>
<line x1="442.3" y1="325" x2="561" y2="325" stroke="#222" stroke-width="1"/>
<line x1="445.7" y1="334" x2="451.2" y2="325.5" stroke="#222" stroke-width="0.7"/>
<line x1="452.6" y1="334" x2="458.1" y2="325.5" stroke="#222" stroke-width="0.7"/>
<line x1="459.5" y1="334" x2="465" y2="325.5" stroke="#222" stroke-width="0.7"/>
<line x1="466.4" y1="334" x2="471.9" y2="325.5" stroke="#222" stroke-width="0.7"/>
<line x1="473.3" y1="334" x2="478.8" y2="325.5" stroke="#222" stroke-width="0.7"/>
<line x1="480.2" y1="334" x2="485.7" y2="325.5" stroke="#222" stroke-width="0.7"/>
<line x1="487.1" y1="334" x2="492.6" y2="325.5" stroke="#222" stroke-width="0.7"/>
<line x1="494" y1="334" x2="499.5" y2="325.5" stroke="#222" stroke-width="0.7"/>
<line x1="500.9" y1="334" x2="506.4" y2="325.5" stroke="#222" stroke-width="0.7"/>
<line x1="507.8" y1="334" x2="513.3" y2="325.5" stroke="#222" stroke-width="0.7"/>
<line x1="514.7" y1="334" x2="520.2" y2="325.5" stroke="#222" stroke-width="0.7"/>
<line x1="521.6" y1="334" x2="527.1" y2="325.5" stroke="#222" stroke-width="0.7"/>
<line x1="528.5" y1="334" x2="534" y2="325.5" stroke="#222" stroke-width="0.7"/>
<line x1="535.4" y1="334" x2="540.9" y2="325.5" stroke="#222" stroke-width="0.7"/>
<line x1="542.3" y1="334" x2="547.8" y2="325.5" stroke="#222" stroke-width="0.7"/>
<line x1="549.2" y1="334" x2="554.7" y2="325.5" stroke="#222" stroke-width="0.7"/>
<line x1="556.1" y1="334" x2="561.6" y2="325.5" stroke="#222" stroke-width="0.7"/>
<circle cx="514" cy="287" r="6.4" fill="none" stroke="#222" stroke-width="1.1" stroke-dasharray="2.6 1.6"/>
<line x1="519" y1="281.5" x2="589" y2="205" stroke="#222" stroke-width="1.05" stroke-dasharray="3.2 1.7"/>
<line x1="520" y1="291" x2="628" y2="275.6" stroke="#222" stroke-width="1.05" stroke-dasharray="3.2 1.7"/>
<defs><clipPath id="cF"><ellipse cx="629.6" cy="226.6" rx="51.2" ry="48.2"/></clipPath></defs>
<ellipse cx="629.6" cy="226.6" rx="52.2" ry="49.2" fill="#fff" stroke="none" stroke-width="1"/>
<g clip-path="url(#cF)">
<defs><clipPath id="cFL"><rect x="575.4" y="175.4" width="58.2" height="102.4"/></clipPath><clipPath id="cFR"><rect x="633.6" y="175.4" width="54.2" height="102.4"/></clipPath></defs>
<g clip-path="url(#cFL)">
<path d="M529.05 196.44 L532.49 194.4 L535.99 192.47 L539.56 190.65 L543.17 188.89 L546.79 187.16 L550.39 185.4 L553.94 183.56 L557.44 181.61 L560.86 179.54 L564.23 177.37 L567.55 175.13 L570.86 172.86 L574.19 170.62 L577.55 168.45 L580.98 166.4 L584.48 164.45 L588.04 162.62 L591.64 160.86 L595.26 159.12 L598.87 157.37 L602.43 155.54 L605.93 153.61 L609.37 151.56 L612.74 149.4 L616.07 147.16 L619.38 144.9 L622.7 142.65 L626.06 140.47 L629.48 138.4 L632.97 136.44 L636.52 134.59 L640.12 132.82 L643.74 131.09 L647.35 129.34 L650.92 127.52 L654.43 125.61" fill="none" stroke="#3f9f88" stroke-width="2.35" stroke-dasharray="26 4 20 3 26 4" stroke-dashoffset="51"/>
<path d="M534.71 206.24 L538.32 204.51 L541.94 202.76 L545.52 200.97 L549.05 199.07 L552.5 197.07 L555.9 194.95 L559.24 192.73 L562.55 190.47 L565.87 188.21 L569.21 186 L572.61 183.89 L576.07 181.89 L579.6 180 L583.19 178.21 L586.8 176.47 L590.42 174.73 L594 172.94 L597.54 171.07 L601.01 169.08 L604.41 166.97 L607.76 164.77 L611.07 162.51 L614.38 160.25 L617.72 158.03 L621.11 155.9 L624.57 153.88 L628.09 151.98 L631.67 150.18 L635.28 148.43 L638.89 146.7 L642.49 144.92 L646.03 143.06 L649.51 141.08 L652.92 138.99 L656.27 136.8 L659.59 134.55" fill="none" stroke="#3f9f88" stroke-width="2.35" stroke-dasharray="59 3 47 6 47 6" stroke-dashoffset="31"/>
<path d="M538.87 213.46 L542.25 211.31 L545.7 209.28 L549.21 207.36 L552.78 205.55 L556.39 203.8 L560.01 202.06 L563.61 200.29 L567.16 198.45 L570.65 196.49 L574.07 194.41 L577.43 192.23 L580.75 189.99 L584.06 187.72 L587.39 185.48 L590.76 183.33 L594.2 181.28 L597.7 179.34 L601.26 177.52 L604.87 175.76 L608.48 174.03 L612.09 172.27 L615.65 170.43 L619.14 168.49 L622.57 166.43 L625.94 164.26 L629.27 162.02 L632.58 159.76 L635.9 157.51 L639.27 155.34 L642.69 153.28 L646.19 151.33 L649.74 149.49 L653.34 147.72 L656.96 145.99 L660.57 144.24 L664.13 142.41" fill="none" stroke="#3f9f88" stroke-width="2.35" stroke-dasharray="43 3 49 4 19 5" stroke-dashoffset="33"/>
<path d="M543.4 221.3 L546.79 219.16 L550.23 217.14 L553.75 215.23 L557.33 213.42 L560.93 211.67 L564.55 209.93 L568.15 208.16 L571.7 206.31 L575.18 204.34 L578.6 202.26 L581.95 200.07 L585.27 197.82 L588.58 195.56 L591.91 193.33 L595.29 191.17 L598.73 189.13 L602.24 187.21 L605.8 185.39 L609.41 183.63 L613.03 181.9 L616.63 180.13 L620.18 178.29 L623.68 176.34 L627.1 174.28 L630.47 172.1 L633.79 169.86 L637.1 167.59 L640.43 165.35 L643.8 163.19 L647.23 161.13 L650.73 159.19 L654.29 157.36 L657.89 155.6 L661.51 153.86 L665.11 152.11 L668.67 150.28" fill="none" stroke="#3f9f88" stroke-width="2.35" stroke-dasharray="42 3 60 5 24 3" stroke-dashoffset="24"/>
<path d="M548.78 230.61 L552.34 228.78 L555.84 226.85 L559.28 224.8 L562.65 222.64 L565.98 220.41 L569.29 218.14 L572.61 215.89 L575.97 213.71 L579.39 211.64 L582.88 209.68 L586.43 207.84 L590.03 206.07 L593.65 204.33 L597.26 202.58 L600.83 200.77 L604.34 198.85 L607.78 196.81 L611.16 194.67 L614.5 192.44 L617.81 190.18 L621.13 187.92 L624.48 185.73 L627.89 183.64 L631.37 181.67 L634.92 179.81 L638.51 178.03 L642.13 176.3 L645.74 174.55 L649.31 172.75 L652.84 170.84 L656.29 168.83 L659.68 166.69 L663.01 164.48 L666.33 162.21 L669.64 159.96 L672.99 157.75" fill="none" stroke="#3f9f88" stroke-width="2.35" stroke-dasharray="60 3 39 4 23 6" stroke-dashoffset="57"/>
<path d="M553.04 238 L556.43 235.86 L559.88 233.84 L563.39 231.93 L566.97 230.11 L570.58 228.37 L574.19 226.63 L577.79 224.86 L581.34 223.01 L584.82 221.04 L588.24 218.96 L591.6 216.78 L594.92 214.53 L598.23 212.26 L601.56 210.03 L604.93 207.88 L608.37 205.83 L611.88 203.91 L615.45 202.08 L619.05 200.33 L622.67 198.6 L626.27 196.83 L629.83 194.99 L633.32 193.04 L636.75 190.98 L640.11 188.81 L643.44 186.56 L646.74 184.3 L650.07 182.06 L653.44 179.89 L656.87 177.83 L660.37 175.89 L663.93 174.05 L667.53 172.29 L671.15 170.56 L674.75 168.8 L678.31 166.98" fill="none" stroke="#3f9f88" stroke-width="2.35" stroke-dasharray="55 4 56 3 52 3" stroke-dashoffset="31"/>
<path d="M557.8 246.24 L561.39 244.47 L565.01 242.73 L568.62 240.98 L572.2 239.18 L575.72 237.27 L579.17 235.25 L582.55 233.11 L585.89 230.89 L589.2 228.62 L592.52 226.37 L595.87 224.17 L599.27 222.07 L602.74 220.09 L606.28 218.21 L609.87 216.43 L613.49 214.69 L617.1 212.95 L620.68 211.15 L624.21 209.26 L627.67 207.26 L631.06 205.13 L634.41 202.92 L637.72 200.66 L641.03 198.4 L644.38 196.19 L647.77 194.08 L651.24 192.08 L654.77 190.19 L658.35 188.4 L661.96 186.66 L665.58 184.92 L669.17 183.13 L672.7 181.25 L676.17 179.26 L679.57 177.16 L682.92 174.96" fill="none" stroke="#3f9f88" stroke-width="2.35" stroke-dasharray="55 6 55 6 36 5" stroke-dashoffset="54"/>
<path d="M562.66 254.65 L566.24 252.86 L569.86 251.13 L573.47 249.39 L577.06 247.59 L580.59 245.71 L584.05 243.7 L587.45 241.59 L590.79 239.38 L594.1 237.12 L597.42 234.86 L600.76 232.65 L604.15 230.53 L607.61 228.52 L611.14 226.63 L614.72 224.83 L618.34 223.09 L621.95 221.35 L625.54 219.57 L629.08 217.7 L632.55 215.71 L635.96 213.61 L639.31 211.41 L642.62 209.16 L645.94 206.89 L649.27 204.67 L652.66 202.54 L656.11 200.51 L659.63 198.61 L663.2 196.8 L666.81 195.05 L670.43 193.32 L674.02 191.54 L677.57 189.69 L681.05 187.72 L684.47 185.63 L687.82 183.44" fill="none" stroke="#3f9f88" stroke-width="2.35" stroke-dasharray="56 3 52 5 40 6" stroke-dashoffset="32"/>
<path d="M567.45 262.95 L571.05 261.19 L574.61 259.36 L578.11 257.42 L581.54 255.37 L584.92 253.2 L588.24 250.97 L591.55 248.7 L594.87 246.45 L598.24 244.28 L601.66 242.21 L605.15 240.26 L608.71 238.41 L612.31 236.65 L615.92 234.91 L619.53 233.16 L623.1 231.34 L626.61 229.42 L630.05 227.38 L633.43 225.23 L636.76 223 L640.07 220.74 L643.39 218.48 L646.75 216.3 L650.16 214.21 L653.64 212.24 L657.19 210.38 L660.78 208.61 L664.4 206.88 L668.01 205.13 L671.59 203.32 L675.1 201.42 L678.55 199.39 L681.94 197.26 L685.28 195.04 L688.59 192.77 L691.91 190.52" fill="none" stroke="#3f9f88" stroke-width="2.35" stroke-dasharray="40 5 50 3 50 4" stroke-dashoffset="22"/>
<path d="M571.34 269.69 L574.83 267.73 L578.38 265.88 L581.98 264.11 L585.59 262.38 L589.2 260.63 L592.77 258.82 L596.29 256.9 L599.73 254.87 L603.11 252.72 L606.45 250.5 L609.76 248.23 L613.08 245.98 L616.43 243.79 L619.84 241.7 L623.32 239.72 L626.86 237.86 L630.45 236.08 L634.07 234.34 L637.68 232.6 L641.26 230.79 L644.78 228.9 L648.24 226.88 L651.63 224.75 L654.96 222.53 L658.28 220.27 L661.59 218.01 L664.94 215.81 L668.34 213.7 L671.81 211.71 L675.34 209.83 L678.93 208.04 L682.55 206.31 L686.16 204.57 L689.74 202.77 L693.27 200.89 L696.74 198.89" fill="none" stroke="#3f9f88" stroke-width="2.35" stroke-dasharray="39 4 35 3 45 5" stroke-dashoffset="24"/>
<path d="M576.59 278.78 L579.9 276.52 L583.22 274.26 L586.56 272.06 L589.96 269.94 L593.42 267.94 L596.95 266.06 L600.54 264.26 L604.15 262.52 L607.77 260.78 L611.35 259 L614.89 257.12 L618.36 255.13 L621.76 253.02 L625.11 250.82 L628.42 248.56 L631.73 246.3 L635.07 244.08 L638.46 241.95 L641.92 239.93 L645.44 238.03 L649.02 236.23 L652.63 234.49 L656.25 232.75 L659.84 230.97 L663.38 229.11 L666.86 227.13 L670.27 225.04 L673.62 222.85 L676.94 220.6 L680.25 218.33 L683.58 216.1 L686.97 213.96 L690.41 211.93 L693.92 210.01 L697.5 208.2 L701.1 206.45" fill="none" stroke="#3f9f88" stroke-width="2.35" stroke-dasharray="44 4 60 6 25 4" stroke-dashoffset="59"/>
<path d="M581.18 286.73 L584.63 284.7 L588.15 282.8 L591.72 280.99 L595.33 279.24 L598.95 277.51 L602.54 275.73 L606.09 273.88 L609.57 271.91 L612.98 269.82 L616.34 267.63 L619.66 265.38 L622.97 263.12 L626.3 260.89 L629.68 258.74 L633.12 256.7 L636.63 254.78 L640.2 252.96 L643.81 251.21 L647.43 249.47 L651.02 247.71 L654.58 245.86 L658.07 243.91 L661.49 241.84 L664.86 239.66 L668.18 237.42 L671.49 235.15 L674.82 232.92 L678.19 230.75 L681.62 228.7 L685.12 226.76 L688.68 224.93 L692.28 223.17 L695.9 221.44 L699.51 219.68 L703.07 217.85 L706.57 215.91" fill="none" stroke="#3f9f88" stroke-width="2.35" stroke-dasharray="30 4 37 3 18 6" stroke-dashoffset="21"/>
<path d="M586.72 296.33 L590.11 294.2 L593.45 291.98 L596.76 289.72 L600.07 287.46 L603.42 285.26 L606.82 283.15 L610.29 281.16 L613.83 279.28 L617.41 277.49 L621.03 275.76 L624.64 274.02 L628.23 272.22 L631.76 270.34 L635.22 268.34 L638.62 266.22 L641.96 264.01 L645.28 261.75 L648.59 259.49 L651.93 257.28 L655.33 255.16 L658.79 253.15 L662.31 251.26 L665.89 249.46 L669.51 247.72 L673.12 245.98 L676.71 244.2 L680.25 242.33 L683.72 240.34 L687.13 238.24 L690.48 236.05 L693.8 233.79 L697.11 231.53 L700.44 229.3 L703.83 227.17 L707.28 225.14 L710.8 223.24" fill="none" stroke="#3f9f88" stroke-width="2.35" stroke-dasharray="32 4 44 6 44 6" stroke-dashoffset="5"/>
<path d="M590.87 303.51 L594.48 301.77 L598.05 299.96 L601.57 298.06 L605.03 296.04 L608.41 293.9 L611.75 291.68 L615.06 289.42 L618.38 287.16 L621.73 284.96 L625.13 282.86 L628.6 280.87 L632.14 279 L635.73 277.22 L639.34 275.48 L642.96 273.74 L646.54 271.94 L650.07 270.05 L653.53 268.04 L656.92 265.93 L660.27 263.71 L663.58 261.45 L666.89 259.19 L670.24 256.98 L673.63 254.87 L677.1 252.86 L680.62 250.98 L684.21 249.18 L687.82 247.44 L691.44 245.7 L695.02 243.92 L698.56 242.04 L702.03 240.05 L705.43 237.95 L708.78 235.75 L712.1 233.49 L715.41 231.23" fill="none" stroke="#3f9f88" stroke-width="2.35" stroke-dasharray="24 3 23 3 51 5" stroke-dashoffset="9"/>
<path d="M596.1 312.58 L599.55 310.55 L602.93 308.41 L606.27 306.19 L609.58 303.92 L612.9 301.67 L616.25 299.47 L619.66 297.38 L623.13 295.4 L626.67 293.53 L630.26 291.75 L633.88 290.01 L637.49 288.27 L641.07 286.47 L644.6 284.57 L648.05 282.56 L651.44 280.44 L654.78 278.22 L658.1 275.96 L661.41 273.7 L664.76 271.5 L668.16 269.38 L671.62 267.39 L675.16 265.51 L678.74 263.72 L682.36 261.98 L685.97 260.24 L689.56 258.45 L693.09 256.57 L696.56 254.57 L699.96 252.46 L703.3 250.25 L706.62 248 L709.93 245.73 L713.27 243.52 L716.66 241.39 L720.12 239.38" fill="none" stroke="#3f9f88" stroke-width="2.35" stroke-dasharray="27 3 30 3 26 5" stroke-dashoffset="24"/>
<path d="M600.02 319.36 L603.6 317.56 L607.21 315.82 L610.82 314.08 L614.42 312.3 L617.96 310.44 L621.44 308.46 L624.85 306.36 L628.2 304.17 L631.52 301.92 L634.83 299.65 L638.16 297.43 L641.54 295.29 L644.99 293.26 L648.5 291.34 L652.08 289.53 L655.68 287.78 L659.3 286.05 L662.9 284.28 L666.45 282.42 L669.94 280.46 L673.35 278.38 L676.71 276.2 L680.03 273.96 L683.34 271.69 L686.67 269.46 L690.05 267.3 L693.49 265.25 L696.99 263.32 L700.56 261.5 L704.16 259.74 L707.78 258.01 L711.38 256.25 L714.94 254.41 L718.43 252.46 L721.86 250.4 L725.23 248.23" fill="none" stroke="#3f9f88" stroke-width="2.35" stroke-dasharray="37 5 38 5 18 6" stroke-dashoffset="13"/>
<path d="M604.7 327.47 L608.05 325.27 L611.37 323.02 L614.68 320.76 L618.01 318.53 L621.4 316.39 L624.84 314.36 L628.36 312.45 L631.93 310.64 L635.54 308.89 L639.16 307.16 L642.75 305.38 L646.3 303.53 L649.79 301.57 L653.21 299.49 L656.57 297.31 L659.89 295.06 L663.2 292.79 L666.53 290.56 L669.9 288.4 L673.34 286.36 L676.85 284.43 L680.41 282.61 L684.02 280.85 L687.64 279.12 L691.24 277.36 L694.79 275.52 L698.29 273.57 L701.71 271.51 L705.08 269.34 L708.4 267.09 L711.71 264.83 L715.04 262.59 L718.41 260.42 L721.84 258.36 L725.33 256.41 L728.89 254.58" fill="none" stroke="#3f9f88" stroke-width="2.35" stroke-dasharray="55 4 29 5 45 6" stroke-dashoffset="7"/>
<path d="M661.69 124.93 L663.87 128.29 L666.12 131.62 L668.38 134.93 L670.62 138.25 L672.78 141.63 L674.82 145.06 L676.75 148.57 L678.58 152.13 L680.34 155.74 L682.07 159.36 L683.83 162.96 L685.67 166.52 L687.61 170.01 L689.67 173.44 L691.84 176.81 L694.08 180.13 L696.35 183.44 L698.59 186.77 L700.76 190.13 L702.82 193.56 L704.77 197.06 L706.61 200.61 L708.37 204.21 L710.11 207.83 L711.86 211.44 L713.69 215 L715.61 218.51 L717.66 221.95 L719.81 225.32 L722.04 228.65 L724.31 231.96 L726.56 235.28 L728.74 238.64 L730.82 242.06 L732.78 245.55 L734.64 249.09" fill="none" stroke="#3f9f88" stroke-width="2.35" stroke-dasharray="49 6 27 6 25 3" stroke-dashoffset="37"/>
<path d="M652.2 130.42 L654.42 133.75 L656.69 137.06 L658.94 140.38 L661.13 143.73 L663.23 147.14 L665.2 150.62 L667.07 154.16 L668.85 157.75 L670.58 161.37 L672.33 164.98 L674.13 168.56 L676.03 172.08 L678.04 175.54 L680.17 178.93 L682.39 182.27 L684.65 185.58 L686.91 188.89 L689.11 192.24 L691.22 195.64 L693.21 199.11 L695.09 202.64 L696.88 206.23 L698.62 209.84 L700.36 213.46 L702.15 217.04 L704.04 220.57 L706.03 224.04 L708.15 227.44 L710.35 230.78 L712.61 234.1 L714.87 237.41 L717.09 240.75 L719.21 244.14 L721.22 247.6 L723.12 251.13 L724.92 254.71" fill="none" stroke="#3f9f88" stroke-width="2.35" stroke-dasharray="46 3 48 6 41 6" stroke-dashoffset="14"/>
<path d="M645.9 134.05 L647.8 137.57 L649.6 141.15 L651.35 144.76 L653.08 148.38 L654.86 151.97 L656.72 155.51 L658.7 158.99 L660.79 162.4 L662.98 165.76 L665.24 169.08 L667.5 172.39 L669.73 175.72 L671.87 179.1 L673.9 182.55 L675.82 186.06 L677.63 189.63 L679.38 193.24 L681.12 196.86 L682.89 200.45 L684.74 204 L686.7 207.49 L688.77 210.91 L690.95 214.27 L693.2 217.59 L695.47 220.9 L697.7 224.23 L699.86 227.61 L701.91 231.04 L703.84 234.55 L705.66 238.11 L707.42 241.72 L709.15 245.33 L710.91 248.94 L712.75 252.49 L714.69 255.99 L716.76 259.42" fill="none" stroke="#3f9f88" stroke-width="2.35" stroke-dasharray="25 3 31 3 56 3" stroke-dashoffset="41"/>
<path d="M635.76 139.9 L637.67 143.42 L639.69 146.87 L641.83 150.26 L644.05 153.59 L646.32 156.9 L648.57 160.22 L650.77 163.57 L652.87 166.98 L654.85 170.45 L656.72 173.99 L658.5 177.58 L660.24 181.2 L661.98 184.81 L663.78 188.39 L665.68 191.92 L667.68 195.37 L669.81 198.77 L672.02 202.11 L674.28 205.42 L676.54 208.74 L678.75 212.08 L680.86 215.48 L682.86 218.94 L684.75 222.47 L686.54 226.06 L688.28 229.67 L690.02 233.29 L691.8 236.87 L693.68 240.41 L695.68 243.88 L697.78 247.28 L699.99 250.63 L702.24 253.94 L704.51 257.25 L706.72 260.59 L708.85 263.98" fill="none" stroke="#3f9f88" stroke-width="2.35" stroke-dasharray="23 4 50 4 38 6" stroke-dashoffset="47"/>
<path d="M627.8 144.5 L629.54 148.12 L631.28 151.73 L633.06 155.32 L634.93 158.86 L636.92 162.33 L639.02 165.74 L641.22 169.09 L643.47 172.4 L645.74 175.72 L647.96 179.05 L650.09 182.44 L652.11 185.89 L654.02 189.41 L655.83 192.98 L657.58 196.59 L659.31 200.21 L661.08 203.8 L662.94 207.35 L664.91 210.83 L667 214.25 L669.18 217.6 L671.43 220.92 L673.7 224.23 L675.93 227.56 L678.08 230.94 L680.12 234.38 L682.04 237.89 L683.86 241.46 L685.61 245.07 L687.35 248.69 L689.11 252.29 L690.96 255.84 L692.91 259.33 L694.98 262.75 L697.15 266.12 L699.4 269.44" fill="none" stroke="#3f9f88" stroke-width="2.35" stroke-dasharray="36 5 23 5 43 4" stroke-dashoffset="40"/>
<path d="M618.81 149.69 L620.91 153.1 L623.11 156.45 L625.36 159.77 L627.63 163.08 L629.85 166.41 L631.99 169.8 L634.02 173.24 L635.93 176.76 L637.74 180.33 L639.49 183.94 L641.22 187.56 L642.99 191.16 L644.85 194.7 L646.81 198.19 L648.89 201.61 L651.07 204.96 L653.32 208.28 L655.59 211.59 L657.82 214.92 L659.98 218.3 L662.02 221.74 L663.94 225.25 L665.77 228.81 L667.52 232.42 L669.25 236.04 L671.02 239.64 L672.86 243.19 L674.81 246.69 L676.87 250.11 L679.04 253.48 L681.29 256.8 L683.55 260.11 L685.79 263.44 L687.96 266.81 L690.02 270.24 L691.96 273.73" fill="none" stroke="#3f9f88" stroke-width="2.35" stroke-dasharray="41 5 51 5 58 5" stroke-dashoffset="50"/>
<path d="M609.47 155.08 L611.7 158.42 L613.96 161.73 L616.21 165.05 L618.4 168.4 L620.49 171.81 L622.46 175.29 L624.32 178.84 L626.1 182.43 L627.83 186.05 L629.58 189.66 L631.39 193.24 L633.29 196.76 L635.31 200.21 L637.44 203.6 L639.66 206.93 L641.93 210.25 L644.18 213.56 L646.38 216.91 L648.49 220.31 L650.47 223.79 L652.35 227.32 L654.13 230.91 L655.87 234.53 L657.61 238.14 L659.41 241.72 L661.3 245.25 L663.3 248.71 L665.42 252.11 L667.63 255.45 L669.89 258.76 L672.15 262.08 L674.36 265.42 L676.48 268.82 L678.48 272.28 L680.37 275.81 L682.17 279.39" fill="none" stroke="#3f9f88" stroke-width="2.35" stroke-dasharray="24 4 49 5 42 5" stroke-dashoffset="13"/>
<path d="M601.94 159.43 L604.13 162.79 L606.38 166.11 L608.64 169.42 L610.87 172.75 L613.02 176.13 L615.05 179.57 L616.97 183.08 L618.79 186.65 L620.54 190.26 L622.27 193.88 L624.04 197.48 L625.89 201.03 L627.84 204.52 L629.92 207.94 L632.1 211.3 L634.34 214.63 L636.61 217.94 L638.84 221.26 L641 224.63 L643.06 228.07 L644.99 231.57 L646.82 235.13 L648.58 238.74 L650.31 242.36 L652.07 245.96 L653.9 249.52 L655.84 253.02 L657.9 256.45 L660.07 259.82 L662.3 263.14 L664.57 266.45 L666.82 269.78 L668.99 273.14 L671.06 276.57 L673.01 280.06 L674.85 283.61" fill="none" stroke="#3f9f88" stroke-width="2.35" stroke-dasharray="51 5 56 5 45 4" stroke-dashoffset="31"/>
<path d="M592.44 164.92 L594.47 168.36 L596.61 171.74 L598.84 175.08 L601.1 178.39 L603.36 181.71 L605.55 185.06 L607.64 188.47 L609.62 191.95 L611.48 195.49 L613.26 199.08 L615 202.7 L616.74 206.31 L618.54 209.89 L620.44 213.41 L622.46 216.87 L624.59 220.26 L626.8 223.59 L629.07 226.91 L631.33 230.22 L633.53 233.57 L635.64 236.97 L637.63 240.44 L639.51 243.97 L641.29 247.56 L643.03 251.18 L644.77 254.79 L646.57 258.37 L648.45 261.9 L650.45 265.37 L652.56 268.77 L654.77 272.11 L657.03 275.43 L659.29 278.74 L661.51 282.08 L663.63 285.47 L665.64 288.93" fill="none" stroke="#3f9f88" stroke-width="2.35" stroke-dasharray="23 5 28 3 49 5" stroke-dashoffset="26"/>
<path d="M584.14 169.71 L586.34 173.06 L588.6 176.37 L590.86 179.68 L593.08 183.02 L595.21 186.41 L597.23 189.87 L599.13 193.39 L600.93 196.96 L602.67 200.58 L604.41 204.19 L606.19 207.79 L608.05 211.33 L610.03 214.81 L612.12 218.22 L614.31 221.57 L616.56 224.89 L618.83 228.2 L621.05 231.53 L623.2 234.91 L625.23 238.36 L627.15 241.87 L628.96 245.44 L630.71 249.05 L632.45 252.67 L634.21 256.27 L636.06 259.82 L638.02 263.31 L640.1 266.73 L642.28 270.09 L644.53 273.41 L646.79 276.72 L649.03 280.05 L651.18 283.42 L653.23 286.86 L655.16 290.36 L656.99 293.92" fill="none" stroke="#3f9f88" stroke-width="2.35" stroke-dasharray="35 5 35 5 35 6" stroke-dashoffset="15"/>
<path d="M577.43 173.58 L579.47 177.02 L581.39 180.53 L583.21 184.1 L584.96 187.71 L586.7 191.33 L588.46 194.93 L590.31 198.48 L592.26 201.97 L594.33 205.39 L596.51 208.76 L598.75 212.08 L601.02 215.39 L603.26 218.72 L605.42 222.09 L607.47 225.52 L609.41 229.02 L611.24 232.58 L613 236.18 L614.73 239.8 L616.49 243.41 L618.32 246.97 L620.26 250.47 L622.32 253.9 L624.48 257.27 L626.72 260.6 L628.98 263.91 L631.23 267.23 L633.4 270.59 L635.47 274.02 L637.42 277.51 L639.27 281.06 L641.03 284.66 L642.77 288.28 L644.52 291.89 L646.34 295.46 L648.26 298.96" fill="none" stroke="#3f9f88" stroke-width="2.35" stroke-dasharray="50 6 33 4 56 4" stroke-dashoffset="23"/>
<path d="M568.67 178.64 L570.49 182.21 L572.24 185.81 L573.98 189.43 L575.74 193.03 L577.59 196.59 L579.54 200.08 L581.61 203.5 L583.78 206.86 L586.03 210.19 L588.29 213.5 L590.53 216.82 L592.7 220.19 L594.75 223.63 L596.69 227.13 L598.52 230.69 L600.28 234.29 L602.01 237.91 L603.77 241.51 L605.6 245.07 L607.54 248.57 L609.59 252.01 L611.75 255.38 L613.99 258.71 L616.26 262.02 L618.5 265.34 L620.68 268.7 L622.75 272.12 L624.7 275.61 L626.55 279.17 L628.32 282.77 L630.05 286.39 L631.8 289.99 L633.62 293.56 L635.54 297.07 L637.58 300.51 L639.73 303.89" fill="none" stroke="#3f9f88" stroke-width="2.35" stroke-dasharray="25 6 23 4 54 6" stroke-dashoffset="58"/>
<path d="M560.9 183.13 L563.02 186.52 L565.04 189.97 L566.93 193.5 L568.73 197.08 L570.48 200.69 L572.21 204.31 L573.99 207.9 L575.86 211.44 L577.84 214.91 L579.94 218.32 L582.13 221.68 L584.38 224.99 L586.65 228.3 L588.87 231.64 L591.01 235.02 L593.04 238.47 L594.95 241.98 L596.77 245.56 L598.51 249.17 L600.25 252.78 L602.02 256.38 L603.87 259.93 L605.84 263.41 L607.92 266.83 L610.1 270.19 L612.35 273.51 L614.61 276.82 L616.85 280.15 L619 283.53 L621.05 286.96 L622.97 290.47 L624.8 294.04 L626.55 297.64 L628.28 301.26 L630.05 304.86 L631.89 308.42" fill="none" stroke="#3f9f88" stroke-width="2.35" stroke-dasharray="19 4 34 3 24 6" stroke-dashoffset="29"/>
<path d="M550.97 188.86 L553.11 192.24 L555.13 195.7 L557.03 199.22 L558.84 202.79 L560.58 206.4 L562.32 210.02 L564.09 213.61 L565.95 217.16 L567.92 220.64 L570.01 224.05 L572.2 227.41 L574.45 230.73 L576.72 234.04 L578.95 237.37 L581.09 240.75 L583.13 244.19 L585.05 247.7 L586.87 251.27 L588.62 254.88 L590.35 258.5 L592.12 262.1 L593.97 265.65 L595.92 269.14 L597.99 272.56 L600.17 275.92 L602.42 279.25 L604.68 282.56 L606.92 285.88 L609.08 289.25 L611.13 292.69 L613.07 296.19 L614.9 299.75 L616.65 303.36 L618.39 306.97 L620.15 310.58 L621.98 314.14" fill="none" stroke="#3f9f88" stroke-width="2.35" stroke-dasharray="54 3 26 5 59 3" stroke-dashoffset="20"/>
<path d="M542.4 193.8 L544.62 197.14 L546.75 200.53 L548.77 203.98 L550.68 207.5 L552.48 211.08 L554.23 214.69 L555.96 218.31 L557.74 221.9 L559.6 225.45 L561.57 228.93 L563.66 232.34 L565.85 235.69 L568.1 239.01 L570.37 242.32 L572.6 245.65 L574.74 249.03 L576.78 252.48 L578.7 255.99 L580.51 259.56 L582.26 263.17 L584 266.79 L585.76 270.38 L587.61 273.94 L589.57 277.42 L591.64 280.85 L593.82 284.21 L596.07 287.53 L598.33 290.84 L600.57 294.17 L602.73 297.54 L604.78 300.97 L606.71 304.48 L608.54 308.04 L610.3 311.64 L612.03 315.26 L613.79 318.86" fill="none" stroke="#3f9f88" stroke-width="2.35" stroke-dasharray="23 4 59 5 22 4" stroke-dashoffset="46"/>
<path d="M535.06 198.05 L537.31 201.36 L539.5 204.72 L541.59 208.13 L543.57 211.61 L545.43 215.15 L547.21 218.74 L548.95 222.36 L550.69 225.97 L552.49 229.55 L554.39 233.07 L556.41 236.52 L558.54 239.91 L560.76 243.25 L563.02 246.57 L565.28 249.88 L567.48 253.23 L569.59 256.63 L571.58 260.1 L573.46 263.63 L575.25 267.22 L576.98 270.83 L578.72 274.45 L580.52 278.03 L582.4 281.56 L584.4 285.03 L586.52 288.43 L588.72 291.77 L590.98 295.08 L593.24 298.4 L595.46 301.74 L597.58 305.13 L599.59 308.59 L601.48 312.12 L603.28 315.7 L605.02 319.31 L606.76 322.93" fill="none" stroke="#3f9f88" stroke-width="2.35" stroke-dasharray="32 5 40 5 22 3" stroke-dashoffset="58"/>
<path d="M525.05 203.83 L526.84 207.41 L528.73 210.94 L530.73 214.4 L532.85 217.8 L535.06 221.14 L537.32 224.45 L539.58 227.77 L541.79 231.11 L543.91 234.5 L545.91 237.97 L547.8 241.49 L549.6 245.07 L551.34 248.69 L553.08 252.3 L554.86 255.89 L556.74 259.43 L558.72 262.9 L560.82 266.31 L563.02 269.66 L565.28 272.97 L567.54 276.28 L569.76 279.62 L571.9 283.01 L573.92 286.46 L575.83 289.98 L577.63 293.55 L579.38 297.16 L581.11 300.78 L582.89 304.38 L584.75 307.92 L586.72 311.4 L588.8 314.82 L590.99 318.17 L593.24 321.49 L595.51 324.8 L597.74 328.13" fill="none" stroke="#3f9f88" stroke-width="2.35" stroke-dasharray="28 4 34 6 27 6" stroke-dashoffset="46"/>
</g>
<g clip-path="url(#cFR)">
<path d="M654.33 327.77 L650.96 325.6 L647.64 323.36 L644.33 321.09 L641 318.85 L637.63 316.69 L634.2 314.63 L630.7 312.69 L627.14 310.86 L623.54 309.1 L619.92 307.36 L616.32 305.61 L612.75 303.78 L609.25 301.84 L605.82 299.79 L602.45 297.63 L599.12 295.39 L595.81 293.13 L592.49 290.88 L589.13 288.7 L585.7 286.63 L582.21 284.68 L578.66 282.83 L575.06 281.06 L571.44 279.33 L567.84 277.58 L564.27 275.76 L560.76 273.84 L557.31 271.8 L553.93 269.66 L550.6 267.43 L547.29 265.16 L543.97 262.91 L540.62 260.72 L537.2 258.63 L533.72 256.66 L530.18 254.8" fill="none" stroke="#3f9f88" stroke-width="2.35" stroke-dasharray="32 3 36 4 39 4" stroke-dashoffset="6"/>
<path d="M659.16 319.41 L655.76 317.29 L652.41 315.09 L649.1 312.83 L645.79 310.57 L642.45 308.35 L639.05 306.23 L635.59 304.22 L632.07 302.32 L628.49 300.52 L624.88 298.78 L621.26 297.04 L617.67 295.26 L614.13 293.39 L610.66 291.41 L607.25 289.31 L603.9 287.12 L600.58 284.86 L597.27 282.6 L593.93 280.38 L590.55 278.24 L587.1 276.21 L583.58 274.3 L580.01 272.49 L576.4 270.74 L572.78 269.01 L569.19 267.24 L565.64 265.38 L562.16 263.42 L558.74 261.33 L555.38 259.15 L552.06 256.9 L548.75 254.63 L545.42 252.4 L542.04 250.25 L538.61 248.21 L535.1 246.28" fill="none" stroke="#3f9f88" stroke-width="2.35" stroke-dasharray="29 4 53 5 36 4" stroke-dashoffset="47"/>
<path d="M663.46 311.96 L660.1 309.77 L656.78 307.52 L653.47 305.26 L650.14 303.03 L646.76 300.88 L643.32 298.84 L639.81 296.92 L636.24 295.1 L632.63 293.35 L629.02 291.61 L625.42 289.85 L621.86 288 L618.37 286.05 L614.95 283.98 L611.58 281.8 L608.26 279.56 L604.95 277.29 L601.63 275.05 L598.25 272.89 L594.82 270.84 L591.32 268.9 L587.76 267.07 L584.16 265.31 L580.54 263.58 L576.94 261.82 L573.37 259.99 L569.87 258.05 L566.44 255.99 L563.07 253.83 L559.74 251.59 L556.43 249.33 L553.11 247.08 L549.75 244.91 L546.32 242.84 L542.83 240.88 L539.28 239.04" fill="none" stroke="#3f9f88" stroke-width="2.35" stroke-dasharray="23 4 26 4 38 4" stroke-dashoffset="26"/>
<path d="M667.86 304.33 L664.52 302.12 L661.21 299.86 L657.89 297.6 L654.55 295.39 L651.15 293.28 L647.68 291.28 L644.15 289.39 L640.57 287.6 L636.95 285.86 L633.34 284.12 L629.75 282.33 L626.22 280.46 L622.75 278.46 L619.35 276.35 L616 274.15 L612.69 271.89 L609.38 269.63 L606.04 267.41 L602.65 265.29 L599.19 263.27 L595.67 261.37 L592.09 259.57 L588.48 257.82 L584.86 256.09 L581.27 254.31 L577.73 252.45 L574.25 250.47 L570.84 248.38 L567.49 246.18 L564.17 243.93 L560.86 241.66 L557.52 239.44 L554.14 237.3 L550.7 235.27 L547.18 233.35 L543.61 231.54" fill="none" stroke="#3f9f88" stroke-width="2.35" stroke-dasharray="46 3 46 5 44 6" stroke-dashoffset="37"/>
<path d="M673.42 294.7 L669.8 292.97 L666.2 291.21 L662.64 289.38 L659.13 287.45 L655.7 285.39 L652.33 283.23 L649 280.99 L645.69 278.73 L642.37 276.48 L639.01 274.31 L635.58 272.23 L632.09 270.28 L628.54 268.43 L624.94 266.67 L621.32 264.93 L617.72 263.18 L614.15 261.36 L610.64 259.44 L607.2 257.41 L603.82 255.26 L600.48 253.03 L597.17 250.76 L593.85 248.51 L590.5 246.32 L587.09 244.24 L583.6 242.27 L580.06 240.41 L576.47 238.63 L572.85 236.9 L569.24 235.15 L565.66 233.34 L562.14 231.44 L558.69 229.42 L555.3 227.28 L551.97 225.06 L548.66 222.8" fill="none" stroke="#3f9f88" stroke-width="2.35" stroke-dasharray="41 6 41 4 37 5" stroke-dashoffset="43"/>
<path d="M678.17 286.47 L674.58 284.69 L671.04 282.83 L667.56 280.85 L664.15 278.76 L660.8 276.57 L657.48 274.31 L654.17 272.05 L650.83 269.82 L647.45 267.68 L644.01 265.65 L640.49 263.73 L636.92 261.92 L633.31 260.17 L629.69 258.44 L626.1 256.67 L622.55 254.82 L619.06 252.85 L615.64 250.78 L612.28 248.6 L608.96 246.35 L605.65 244.08 L602.32 241.85 L598.95 239.69 L595.51 237.64 L592.01 235.71 L588.44 233.89 L584.84 232.13 L581.22 230.4 L577.62 228.64 L574.06 226.8 L570.56 224.86 L567.13 222.79 L563.77 220.63 L560.44 218.38 L557.13 216.12 L553.81 213.88" fill="none" stroke="#3f9f88" stroke-width="2.35" stroke-dasharray="35 6 58 5 31 6" stroke-dashoffset="49"/>
<path d="M682.53 278.92 L679.07 276.92 L675.53 275.04 L671.95 273.25 L668.34 271.51 L664.72 269.77 L661.13 267.98 L657.6 266.1 L654.13 264.11 L650.73 262 L647.38 259.8 L644.07 257.54 L640.76 255.28 L637.42 253.06 L634.03 250.93 L630.57 248.92 L627.05 247.02 L623.47 245.21 L619.86 243.47 L616.24 241.73 L612.65 239.96 L609.11 238.09 L605.63 236.11 L602.22 234.02 L598.87 231.83 L595.55 229.58 L592.24 227.31 L588.91 225.08 L585.52 222.94 L582.08 220.91 L578.56 219 L574.99 217.18 L571.38 215.43 L567.77 213.7 L564.17 211.93 L560.62 210.08 L557.13 208.12" fill="none" stroke="#3f9f88" stroke-width="2.35" stroke-dasharray="48 3 36 6 20 3" stroke-dashoffset="55"/>
<path d="M686.82 271.5 L683.31 269.57 L679.87 267.52 L676.5 265.37 L673.17 263.14 L669.86 260.87 L666.54 258.62 L663.18 256.44 L659.76 254.36 L656.28 252.4 L652.73 250.54 L649.13 248.77 L645.51 247.04 L641.9 245.29 L638.33 243.48 L634.82 241.57 L631.37 239.54 L627.99 237.4 L624.65 235.17 L621.34 232.91 L618.02 230.65 L614.67 228.46 L611.26 226.36 L607.79 224.38 L604.24 222.52 L600.65 220.74 L597.04 219 L593.42 217.26 L589.85 215.46 L586.32 213.56 L582.87 211.55 L579.47 209.42 L576.13 207.21 L572.82 204.94 L569.51 202.68 L566.16 200.48 L562.76 198.37" fill="none" stroke="#3f9f88" stroke-width="2.35" stroke-dasharray="40 6 19 4 18 3" stroke-dashoffset="52"/>
<path d="M691.97 262.58 L688.42 260.72 L684.82 258.95 L681.21 257.22 L677.6 255.47 L674.02 253.66 L670.51 251.75 L667.06 249.72 L663.67 247.58 L660.34 245.36 L657.03 243.09 L653.71 240.84 L650.36 238.64 L646.95 236.55 L643.48 234.57 L639.94 232.7 L636.35 230.92 L632.73 229.18 L629.12 227.44 L625.54 225.64 L622.01 223.74 L618.55 221.73 L615.16 219.61 L611.82 217.39 L608.51 215.13 L605.19 212.87 L601.85 210.67 L598.45 208.55 L594.98 206.56 L591.45 204.67 L587.87 202.88 L584.25 201.14 L580.64 199.4 L577.05 197.61 L573.52 195.73 L570.05 193.74 L566.65 191.63" fill="none" stroke="#3f9f88" stroke-width="2.35" stroke-dasharray="26 6 54 3 41 3" stroke-dashoffset="38"/>
<path d="M697.07 253.74 L693.71 251.56 L690.29 249.48 L686.8 247.52 L683.26 245.67 L679.66 243.89 L676.04 242.16 L672.43 240.41 L668.86 238.6 L665.34 236.69 L661.9 234.66 L658.51 232.52 L655.18 230.29 L651.87 228.03 L648.55 225.78 L645.2 223.58 L641.79 221.49 L638.31 219.51 L634.77 217.64 L631.18 215.86 L627.57 214.12 L623.95 212.38 L620.37 210.58 L616.85 208.68 L613.39 206.67 L610 204.54 L606.66 202.33 L603.35 200.07 L600.04 197.81 L596.69 195.6 L593.29 193.49 L589.82 191.5 L586.29 189.62 L582.7 187.83 L579.09 186.09 L575.47 184.35 L571.89 182.56" fill="none" stroke="#3f9f88" stroke-width="2.35" stroke-dasharray="40 3 38 3 48 4" stroke-dashoffset="41"/>
<path d="M701.28 246.45 L697.92 244.26 L694.51 242.17 L691.03 240.2 L687.48 238.35 L683.89 236.57 L680.27 234.84 L676.66 233.09 L673.08 231.28 L669.57 229.38 L666.12 227.35 L662.73 225.22 L659.39 223 L656.08 220.73 L652.76 218.48 L649.41 216.28 L646.01 214.18 L642.54 212.19 L639 210.32 L635.41 208.54 L631.79 206.8 L628.18 205.06 L624.6 203.26 L621.07 201.37 L617.61 199.36 L614.22 197.24 L610.88 195.03 L607.56 192.77 L604.25 190.51 L600.9 188.3 L597.51 186.19 L594.04 184.18 L590.51 182.3 L586.93 180.5 L583.32 178.76 L579.7 177.03 L576.11 175.24" fill="none" stroke="#3f9f88" stroke-width="2.35" stroke-dasharray="40 5 45 5 58 3" stroke-dashoffset="47"/>
<path d="M705.83 238.56 L702.21 236.83 L698.6 235.09 L695.02 233.29 L691.49 231.4 L688.04 229.39 L684.64 227.27 L681.3 225.05 L677.99 222.79 L674.67 220.53 L671.33 218.32 L667.93 216.21 L664.47 214.21 L660.94 212.32 L657.35 210.53 L653.74 208.79 L650.12 207.05 L646.54 205.26 L643 203.39 L639.53 201.4 L636.13 199.29 L632.78 197.09 L629.47 194.83 L626.16 192.57 L622.82 190.35 L619.43 188.22 L615.97 186.2 L612.45 184.3 L608.87 182.5 L605.26 180.75 L601.65 179.02 L598.05 177.24 L594.51 175.38 L591.03 173.4 L587.62 171.31 L584.27 169.12 L580.95 166.87" fill="none" stroke="#3f9f88" stroke-width="2.35" stroke-dasharray="59 5 21 3 32 5" stroke-dashoffset="30"/>
<path d="M710.96 229.68 L707.43 227.8 L703.84 226.01 L700.23 224.27 L696.61 222.53 L693.03 220.74 L689.5 218.86 L686.03 216.86 L682.63 214.75 L679.28 212.55 L675.97 210.29 L672.66 208.02 L669.32 205.81 L665.92 203.68 L662.47 201.67 L658.94 199.78 L655.36 197.98 L651.75 196.23 L648.14 194.5 L644.54 192.72 L641 190.85 L637.53 188.87 L634.12 186.77 L630.77 184.58 L627.45 182.32 L624.14 180.06 L620.8 177.83 L617.42 175.69 L613.97 173.67 L610.46 171.76 L606.88 169.94 L603.28 168.2 L599.66 166.46 L596.06 164.69 L592.51 162.84 L589.03 160.87 L585.61 158.79" fill="none" stroke="#3f9f88" stroke-width="2.35" stroke-dasharray="37 4 59 5 19 6" stroke-dashoffset="47"/>
<path d="M715.43 221.94 L711.82 220.19 L708.2 218.46 L704.6 216.69 L701.06 214.83 L697.57 212.87 L694.16 210.79 L690.8 208.6 L687.48 206.35 L684.17 204.09 L680.84 201.85 L677.46 199.7 L674.02 197.66 L670.51 195.73 L666.95 193.91 L663.34 192.16 L659.72 190.42 L656.12 188.66 L652.57 186.82 L649.07 184.87 L645.65 182.8 L642.28 180.63 L638.96 178.39 L635.65 176.12 L632.32 173.88 L628.96 171.72 L625.53 169.66 L622.03 167.72 L618.47 165.88 L614.86 164.12 L611.25 162.39 L607.64 160.63 L604.08 158.8 L600.58 156.87 L597.14 154.82 L593.77 152.66 L590.44 150.42" fill="none" stroke="#3f9f88" stroke-width="2.35" stroke-dasharray="47 5 36 6 49 6" stroke-dashoffset="42"/>
<path d="M720.63 212.93 L717.15 210.95 L713.61 209.08 L710.02 207.3 L706.41 205.57 L702.8 203.82 L699.22 202.02 L695.69 200.13 L692.23 198.12 L688.84 195.99 L685.5 193.78 L682.19 191.52 L678.87 189.26 L675.53 187.05 L672.13 184.94 L668.66 182.94 L665.13 181.06 L661.55 179.27 L657.93 177.53 L654.32 175.79 L650.73 174 L647.2 172.12 L643.73 170.13 L640.33 168.02 L636.98 165.81 L633.67 163.55 L630.36 161.29 L627.02 159.08 L623.63 156.95 L620.17 154.93 L616.65 153.04 L613.07 151.24 L609.46 149.49 L605.84 147.76 L602.25 145.98 L598.71 144.11 L595.23 142.13" fill="none" stroke="#3f9f88" stroke-width="2.35" stroke-dasharray="59 6 39 4 55 3" stroke-dashoffset="23"/>
<path d="M725.29 204.86 L721.69 203.1 L718.07 201.37 L714.46 199.61 L710.9 197.78 L707.4 195.84 L703.97 193.79 L700.6 191.63 L697.27 189.39 L693.96 187.12 L690.64 184.88 L687.27 182.7 L683.85 180.63 L680.36 178.68 L676.81 176.83 L673.21 175.07 L669.59 173.33 L665.98 171.58 L662.41 169.76 L658.9 167.84 L655.46 165.8 L652.08 163.66 L648.75 161.43 L645.44 159.16 L642.12 156.91 L638.77 154.72 L635.35 152.64 L631.87 150.67 L628.33 148.81 L624.73 147.03 L621.11 145.3 L617.5 143.55 L613.93 141.74 L610.41 139.84 L606.96 137.82 L603.57 135.68 L600.23 133.46" fill="none" stroke="#3f9f88" stroke-width="2.35" stroke-dasharray="41 6 54 6 31 4" stroke-dashoffset="50"/>
<path d="M729.09 198.27 L725.5 196.5 L721.95 194.65 L718.46 192.69 L715.04 190.61 L711.68 188.43 L708.36 186.19 L705.05 183.92 L701.72 181.69 L698.35 179.53 L694.91 177.48 L691.4 175.55 L687.84 173.73 L684.23 171.97 L680.62 170.24 L677.01 168.48 L673.46 166.64 L669.96 164.69 L666.53 162.63 L663.16 160.46 L659.84 158.22 L656.53 155.96 L653.21 153.71 L649.84 151.55 L646.41 149.48 L642.92 147.54 L639.36 145.7 L635.76 143.94 L632.14 142.2 L628.53 140.45 L624.97 138.62 L621.46 136.69 L618.03 134.65 L614.65 132.49 L611.32 130.26 L608.01 127.99 L604.69 125.74" fill="none" stroke="#3f9f88" stroke-width="2.35" stroke-dasharray="23 5 31 4 58 6" stroke-dashoffset="16"/>
<path d="M732.82 203.05 L731.07 206.66 L729.25 210.23 L727.33 213.74 L725.29 217.18 L723.14 220.56 L720.91 223.89 L718.64 227.2 L716.39 230.52 L714.2 233.88 L712.12 237.29 L710.15 240.77 L708.29 244.32 L706.52 247.91 L704.78 251.53 L703.03 255.14 L701.23 258.72 L699.32 262.23 L697.3 265.69 L695.16 269.07 L692.94 272.41 L690.68 275.72 L688.42 279.04 L686.23 282.39 L684.12 285.79 L682.14 289.26 L680.27 292.8 L678.48 296.39 L676.74 300.01 L675 303.62 L673.21 307.2 L671.32 310.73 L669.31 314.19 L667.19 317.58 L664.98 320.93 L662.72 324.24 L660.46 327.55" fill="none" stroke="#3f9f88" stroke-width="2.35" stroke-dasharray="25 3 20 6 31 5" stroke-dashoffset="20"/>
<path d="M726.43 199.37 L724.4 202.81 L722.26 206.2 L720.03 209.53 L717.77 212.84 L715.52 216.16 L713.32 219.51 L711.23 222.92 L709.25 226.4 L707.38 229.94 L705.6 233.53 L703.87 237.15 L702.12 240.76 L700.32 244.34 L698.42 247.86 L696.41 251.32 L694.28 254.71 L692.07 258.05 L689.81 261.36 L687.55 264.67 L685.34 268.02 L683.23 271.42 L681.24 274.89 L679.36 278.42 L677.57 282.01 L675.83 285.62 L674.09 289.24 L672.3 292.82 L670.42 296.35 L668.42 299.82 L666.31 303.22 L664.1 306.56 L661.84 309.88 L659.58 313.19 L657.37 316.53 L655.24 319.92 L653.23 323.38" fill="none" stroke="#3f9f88" stroke-width="2.35" stroke-dasharray="19 4 54 5 58 5" stroke-dashoffset="0"/>
<path d="M717.53 194.23 L715.27 197.54 L713.01 200.86 L710.82 204.21 L708.71 207.61 L706.73 211.09 L704.86 214.62 L703.07 218.21 L701.33 221.83 L699.59 225.44 L697.8 229.02 L695.91 232.55 L693.9 236.01 L691.78 239.41 L689.57 242.75 L687.31 246.06 L685.05 249.37 L682.84 252.72 L680.72 256.12 L678.72 259.58 L676.83 263.11 L675.04 266.69 L673.3 270.3 L671.56 273.92 L669.77 277.51 L667.9 281.04 L665.91 284.51 L663.8 287.92 L661.6 291.26 L659.34 294.58 L657.08 297.89 L654.86 301.23 L652.73 304.62 L650.71 308.07 L648.81 311.59 L647.01 315.17 L645.26 318.78" fill="none" stroke="#3f9f88" stroke-width="2.35" stroke-dasharray="38 3 44 4 18 3" stroke-dashoffset="33"/>
<path d="M707.43 188.4 L705.42 191.86 L703.52 195.38 L701.73 198.96 L699.98 202.57 L698.25 206.19 L696.46 209.78 L694.6 213.32 L692.62 216.79 L690.52 220.2 L688.32 223.55 L686.07 226.87 L683.8 230.18 L681.58 233.52 L679.44 236.9 L677.41 240.35 L675.5 243.87 L673.69 247.44 L671.95 251.05 L670.21 254.67 L668.44 258.26 L666.58 261.81 L664.62 265.29 L662.54 268.71 L660.35 272.07 L658.11 275.39 L655.84 278.7 L653.61 282.03 L651.45 285.41 L649.41 288.84 L647.49 292.35 L645.66 295.92 L643.91 299.52 L642.18 303.14 L640.41 306.74 L638.57 310.3 L636.62 313.79" fill="none" stroke="#3f9f88" stroke-width="2.35" stroke-dasharray="44 3 45 4 22 4" stroke-dashoffset="42"/>
<path d="M699.73 183.95 L697.79 187.45 L695.74 190.88 L693.57 194.25 L691.33 197.58 L689.07 200.89 L686.82 204.21 L684.65 207.58 L682.58 211 L680.63 214.49 L678.78 218.05 L677.02 221.65 L675.29 225.26 L673.53 228.87 L671.71 232.44 L669.79 235.95 L667.75 239.39 L665.6 242.77 L663.37 246.1 L661.1 249.41 L658.85 252.73 L656.67 256.08 L654.58 259.5 L652.61 262.98 L650.76 266.53 L648.98 270.12 L647.25 273.74 L645.5 277.35 L643.69 280.92 L641.79 284.44 L639.76 287.89 L637.63 291.28 L635.4 294.61 L633.14 297.93 L630.88 301.24 L628.69 304.59 L626.59 308" fill="none" stroke="#3f9f88" stroke-width="2.35" stroke-dasharray="60 5 56 6 60 3" stroke-dashoffset="16"/>
<path d="M690.83 178.81 L689.07 182.41 L687.34 186.03 L685.58 189.64 L683.75 193.2 L681.82 196.71 L679.77 200.14 L677.62 203.52 L675.38 206.84 L673.12 210.16 L670.87 213.48 L668.69 216.84 L666.61 220.26 L664.65 223.74 L662.8 227.29 L661.03 230.89 L659.3 234.51 L657.55 238.12 L655.74 241.69 L653.82 245.2 L651.79 248.65 L649.64 252.03 L647.42 255.36 L645.15 258.67 L642.9 261.99 L640.71 265.35 L638.62 268.76 L636.64 272.23 L634.78 275.78 L633 279.37 L631.26 282.99 L629.52 286.6 L627.72 290.18 L625.82 293.7 L623.8 297.15 L621.67 300.54 L619.45 303.88" fill="none" stroke="#3f9f88" stroke-width="2.35" stroke-dasharray="19 5 22 6 38 4" stroke-dashoffset="14"/>
<path d="M683.55 174.61 L681.77 178.2 L679.92 181.75 L677.95 185.23 L675.86 188.65 L673.68 192 L671.43 195.32 L669.16 198.63 L666.93 201.96 L664.78 205.34 L662.74 208.78 L660.82 212.29 L659 215.86 L657.24 219.47 L655.51 223.08 L653.74 226.68 L651.9 230.24 L649.95 233.73 L647.88 237.15 L645.71 240.52 L643.46 243.84 L641.2 247.15 L638.96 250.48 L636.79 253.85 L634.74 257.28 L632.8 260.78 L630.97 264.34 L629.21 267.94 L627.47 271.56 L625.72 275.16 L623.89 278.73 L621.95 282.23 L619.9 285.66 L617.74 289.03 L615.5 292.36 L613.23 295.67 L610.99 298.99" fill="none" stroke="#3f9f88" stroke-width="2.35" stroke-dasharray="37 5 37 5 56 3" stroke-dashoffset="25"/>
<path d="M673.32 168.7 L671.58 172.32 L669.84 175.93 L668.05 179.52 L666.17 183.05 L664.17 186.51 L662.06 189.91 L659.85 193.26 L657.59 196.57 L655.33 199.89 L653.12 203.23 L650.99 206.62 L648.98 210.08 L647.08 213.6 L645.28 217.18 L643.54 220.79 L641.8 224.41 L640.02 228 L638.16 231.54 L636.18 235.02 L634.08 238.42 L631.88 241.78 L629.63 245.09 L627.37 248.4 L625.14 251.74 L623 255.12 L620.97 258.57 L619.06 262.09 L617.25 265.66 L615.5 269.27 L613.77 272.89 L612 276.48 L610.14 280.03 L608.18 283.52 L606.1 286.93 L603.92 290.29 L601.67 293.61" fill="none" stroke="#3f9f88" stroke-width="2.35" stroke-dasharray="31 4 25 6 27 5" stroke-dashoffset="15"/>
<path d="M665.9 164.42 L663.75 167.8 L661.52 171.13 L659.25 174.44 L657 177.76 L654.82 181.11 L652.73 184.53 L650.76 188.01 L648.91 191.56 L647.13 195.15 L645.4 198.77 L643.65 202.38 L641.84 205.95 L639.93 209.47 L637.91 212.92 L635.78 216.31 L633.55 219.65 L631.29 222.96 L629.03 226.27 L626.84 229.62 L624.74 233.03 L622.75 236.5 L620.88 240.04 L619.1 243.63 L617.36 247.25 L615.62 250.86 L613.82 254.44 L611.93 257.97 L609.92 261.43 L607.8 264.82 L605.59 268.16 L603.33 271.48 L601.07 274.79 L598.86 278.13 L596.74 281.53 L594.74 284.99 L592.86 288.52" fill="none" stroke="#3f9f88" stroke-width="2.35" stroke-dasharray="40 6 47 5 57 4" stroke-dashoffset="39"/>
<path d="M658.23 159.99 L656.07 163.36 L653.82 166.69 L651.56 169.99 L649.32 173.32 L647.15 176.69 L645.09 180.12 L643.14 183.61 L641.3 187.17 L639.54 190.77 L637.81 194.39 L636.05 197.99 L634.23 201.56 L632.3 205.06 L630.25 208.5 L628.09 211.87 L625.86 215.2 L623.59 218.51 L621.35 221.83 L619.17 225.19 L617.09 228.61 L615.13 232.1 L613.28 235.65 L611.51 239.25 L609.77 242.87 L608.02 246.47 L606.21 250.05 L604.29 253.56 L602.26 257.01 L600.12 260.39 L597.9 263.72 L595.63 267.03 L593.38 270.35 L591.18 273.7 L589.09 277.11 L587.11 280.59 L585.25 284.13" fill="none" stroke="#3f9f88" stroke-width="2.35" stroke-dasharray="51 5 57 4 53 4" stroke-dashoffset="60"/>
<path d="M648.92 154.62 L647.18 158.23 L645.44 161.84 L643.62 165.41 L641.71 168.93 L639.68 172.38 L637.54 175.76 L635.32 179.09 L633.05 182.41 L630.8 185.72 L628.6 189.08 L626.51 192.48 L624.53 195.96 L622.66 199.5 L620.88 203.09 L619.15 206.71 L617.4 210.32 L615.6 213.9 L613.71 217.42 L611.69 220.88 L609.57 224.27 L607.35 227.61 L605.09 230.92 L602.83 234.24 L600.63 237.58 L598.52 240.99 L596.52 244.45 L594.64 247.98 L592.85 251.57 L591.11 255.19 L589.37 258.8 L587.58 262.38 L585.7 265.92 L583.7 269.38 L581.59 272.78 L579.39 276.13 L577.13 279.44" fill="none" stroke="#3f9f88" stroke-width="2.35" stroke-dasharray="56 4 39 4 54 5" stroke-dashoffset="4"/>
<path d="M640.83 149.94 L638.82 153.4 L636.7 156.8 L634.49 160.14 L632.23 163.45 L629.97 166.77 L627.76 170.11 L625.64 173.51 L623.64 176.97 L621.76 180.5 L619.96 184.09 L618.22 187.7 L616.49 191.32 L614.7 194.9 L612.82 198.44 L610.83 201.91 L608.72 205.31 L606.52 208.66 L604.26 211.97 L602 215.28 L599.78 218.62 L597.65 222.01 L595.64 225.47 L593.74 228.99 L591.93 232.56 L590.19 236.18 L588.45 239.79 L586.67 243.39 L584.81 246.93 L582.84 250.41 L580.74 253.82 L578.55 257.17 L576.3 260.49 L574.04 263.8 L571.81 267.14 L569.66 270.52 L567.63 273.96" fill="none" stroke="#3f9f88" stroke-width="2.35" stroke-dasharray="27 4 56 6 19 5" stroke-dashoffset="25"/>
<path d="M631.76 144.71 L629.52 148.04 L627.36 151.4 L625.3 154.83 L623.35 158.33 L621.52 161.89 L619.76 165.49 L618.02 169.11 L616.27 172.71 L614.44 176.28 L612.51 179.78 L610.46 183.22 L608.3 186.59 L606.07 189.92 L603.8 193.23 L601.55 196.55 L599.37 199.91 L597.3 203.33 L595.34 206.82 L593.49 210.37 L591.72 213.97 L589.99 217.59 L588.24 221.19 L586.42 224.76 L584.51 228.28 L582.47 231.72 L580.33 235.1 L578.1 238.44 L575.84 241.75 L573.58 245.07 L571.39 248.42 L569.3 251.83 L567.33 255.31 L565.46 258.85 L563.69 262.45 L561.95 266.06 L560.21 269.67" fill="none" stroke="#3f9f88" stroke-width="2.35" stroke-dasharray="25 6 60 6 44 3" stroke-dashoffset="31"/>
<path d="M623.23 139.78 L621.5 143.4 L619.75 147.01 L617.95 150.59 L616.04 154.11 L614.03 157.56 L611.89 160.95 L609.68 164.29 L607.41 167.6 L605.16 170.92 L602.95 174.27 L600.85 177.67 L598.86 181.14 L596.98 184.67 L595.2 188.26 L593.46 191.88 L591.72 195.49 L589.92 199.07 L588.04 202.6 L586.04 206.07 L583.92 209.46 L581.71 212.81 L579.45 216.12 L577.19 219.43 L574.98 222.78 L572.86 226.17 L570.85 229.63 L568.96 233.16 L567.16 236.74 L565.42 240.35 L563.68 243.97 L561.9 247.56 L560.03 251.1 L558.04 254.57 L555.94 257.97 L553.74 261.32 L551.49 264.64" fill="none" stroke="#3f9f88" stroke-width="2.35" stroke-dasharray="30 3 18 5 41 6" stroke-dashoffset="56"/>
<path d="M614.02 134.47 L612.21 138.04 L610.46 141.65 L608.73 145.27 L606.96 148.86 L605.1 152.41 L603.14 155.9 L601.06 159.32 L598.88 162.68 L596.63 166 L594.37 169.31 L592.13 172.64 L589.98 176.01 L587.93 179.45 L586 182.95 L584.18 186.52 L582.42 190.12 L580.69 193.74 L578.93 197.34 L577.09 200.9 L575.14 204.4 L573.08 207.83 L570.91 211.19 L568.67 214.52 L566.4 217.83 L564.16 221.15 L561.99 224.52 L559.93 227.95 L557.99 231.44 L556.15 235 L554.39 238.6 L552.65 242.22 L550.9 245.82 L549.07 249.39 L547.14 252.89 L545.1 256.33 L542.94 259.71" fill="none" stroke="#3f9f88" stroke-width="2.35" stroke-dasharray="25 3 46 5 23 3" stroke-dashoffset="12"/>
<path d="M607.11 130.48 L605.22 134 L603.21 137.47 L601.09 140.86 L598.88 144.2 L596.62 147.52 L594.36 150.83 L592.15 154.17 L590.04 157.57 L588.03 161.03 L586.15 164.56 L584.35 168.14 L582.61 171.76 L580.87 175.37 L579.09 178.96 L577.21 182.5 L575.22 185.97 L573.12 189.37 L570.92 192.72 L568.66 196.03 L566.4 199.35 L564.18 202.68 L562.05 206.07 L560.03 209.53 L558.13 213.05 L556.32 216.62 L554.57 220.23 L552.84 223.85 L551.06 227.44 L549.2 230.99 L547.23 234.47 L545.14 237.88 L542.95 241.24 L540.7 244.55 L538.43 247.86 L536.2 251.2 L534.06 254.58" fill="none" stroke="#3f9f88" stroke-width="2.35" stroke-dasharray="21 5 40 6 38 6" stroke-dashoffset="38"/>
<path d="M597.7 125.05 L595.71 128.51 L593.83 132.04 L592.04 135.63 L590.3 139.24 L588.56 142.86 L586.77 146.44 L584.88 149.98 L582.89 153.44 L580.78 156.84 L578.57 160.19 L576.31 163.5 L574.05 166.82 L571.84 170.16 L569.71 173.55 L567.7 177 L565.8 180.53 L564 184.11 L562.26 187.72 L560.52 191.34 L558.74 194.93 L556.88 198.47 L554.9 201.94 L552.8 205.35 L550.6 208.7 L548.35 212.02 L546.09 215.33 L543.86 218.67 L541.72 222.05 L539.69 225.5 L537.78 229.01 L535.97 232.59 L534.22 236.2 L532.49 239.81 L530.72 243.41 L528.86 246.96 L526.9 250.44" fill="none" stroke="#3f9f88" stroke-width="2.35" stroke-dasharray="35 3 48 6 55 4" stroke-dashoffset="56"/>
</g>
<path d="M631.9 255.16 C628.38 253.16 616.41 248.66 610.81 243.14 C605.2 237.62 597.8 229.21 598.27 222.02 C598.74 214.82 607.3 201.8 613.62 199.97 C619.95 198.13 630.93 207.29 636.2 210.99 C641.47 214.7 641.21 216.15 645.27 222.18 C649.32 228.21 657.99 243.02 660.53 247.19" fill="none" stroke="#383838" stroke-width="0.9"/>
<path d="M628.32 247.55 C622.82 247.88 599.63 254.25 595.34 249.49 C591.04 244.73 599.17 228.36 602.53 219.01 C605.88 209.65 608.62 195.99 615.47 193.35 C622.32 190.7 635.89 198.4 643.61 203.15 C651.34 207.9 661.72 215.79 661.83 221.83 C661.93 227.88 647.17 236.5 644.23 239.44" fill="none" stroke="#383838" stroke-width="0.9"/>
<path d="M604.01 199.19 C609.13 199.14 625.31 196.99 634.74 198.9 C644.18 200.81 656.35 203.95 660.62 210.65 C664.89 217.34 664.76 233.73 660.37 239.09 C655.97 244.44 642.91 240.31 634.26 242.79 C625.61 245.26 614.48 256.47 608.47 253.96 C602.47 251.45 599.96 232.1 598.25 227.73" fill="none" stroke="#383838" stroke-width="0.9"/>
<path d="M624.29 241.75 C619.15 241.31 596.56 244 593.43 239.13 C590.29 234.26 600.15 220.08 605.49 212.54 C610.82 205 616.86 195.92 625.43 193.88 C634 191.85 650.49 194.3 656.91 200.35 C663.33 206.4 664.97 220.44 663.96 230.17 C662.96 239.89 653.07 253.96 650.89 258.71" fill="none" stroke="#383838" stroke-width="0.9"/>
<path d="M600.54 248.08 C600.92 243.47 600.79 229.79 602.82 220.41 C604.85 211.03 605.33 196.27 612.72 191.81 C620.1 187.35 641.29 188.45 647.12 193.66 C652.96 198.87 648.18 215.58 647.75 223.05 C647.33 230.53 647.7 234.5 644.58 238.52 C641.46 242.53 631.62 245.71 629.03 247.15" fill="none" stroke="#383838" stroke-width="0.9"/>
<path d="M656.28 220.93 C656.02 225.09 659.19 241.17 654.71 245.89 C650.23 250.61 637.4 249.61 629.38 249.23 C621.36 248.86 610.75 248.38 606.57 243.64 C602.39 238.89 602.22 227.21 604.3 220.76 C606.39 214.31 612.51 208.37 619.07 204.93 C625.63 201.49 639.57 200.93 643.67 200.13" fill="none" stroke="#383838" stroke-width="0.9"/>
<path d="M595.46 207.71 C600.35 205.57 614.5 196.36 624.78 194.88 C635.07 193.41 650.01 193.06 657.17 198.86 C664.32 204.67 668.48 219.58 667.73 229.72 C666.97 239.86 660.74 255.17 652.66 259.68 C644.58 264.2 626.24 261.21 619.23 256.82 C612.23 252.42 612.06 237.22 610.63 233.3" fill="none" stroke="#383838" stroke-width="0.9"/>
<circle cx="611.9" cy="191.1" r="3.4" fill="#5c3b90" stroke="none" stroke-width="1"/>
<circle cx="636.8" cy="195.9" r="3.4" fill="#5c3b90" stroke="none" stroke-width="1"/>
<circle cx="651.8" cy="191.9" r="3.4" fill="#5c3b90" stroke="none" stroke-width="1"/>
<circle cx="612.3" cy="214" r="3.4" fill="#5c3b90" stroke="none" stroke-width="1"/>
<circle cx="653.2" cy="215.1" r="3.4" fill="#5c3b90" stroke="none" stroke-width="1"/>
<circle cx="632.8" cy="221.6" r="3.4" fill="#5c3b90" stroke="none" stroke-width="1"/>
<circle cx="614" cy="234.1" r="3.4" fill="#5c3b90" stroke="none" stroke-width="1"/>
<circle cx="637.3" cy="237.3" r="3.4" fill="#5c3b90" stroke="none" stroke-width="1"/>
<circle cx="653.7" cy="235.2" r="3.4" fill="#5c3b90" stroke="none" stroke-width="1"/>
<circle cx="607.9" cy="205.5" r="3" fill="#7763b0" stroke="none" stroke-width="1"/>
<circle cx="626.7" cy="212.7" r="3" fill="#7763b0" stroke="none" stroke-width="1"/>
<circle cx="648.5" cy="206.3" r="3" fill="#7763b0" stroke="none" stroke-width="1"/>
<circle cx="601" cy="226.4" r="3" fill="#7763b0" stroke="none" stroke-width="1"/>
<circle cx="622.9" cy="228.8" r="3" fill="#7763b0" stroke="none" stroke-width="1"/>
<circle cx="640.8" cy="225.1" r="3" fill="#7763b0" stroke="none" stroke-width="1"/>
<circle cx="606.3" cy="245.7" r="3" fill="#7763b0" stroke="none" stroke-width="1"/>
<circle cx="625.6" cy="253.7" r="3" fill="#7763b0" stroke="none" stroke-width="1"/>
<circle cx="648.5" cy="245.7" r="3" fill="#7763b0" stroke="none" stroke-width="1"/>
<circle cx="628.8" cy="189.9" r="1.85" fill="#f2b424" stroke="#c8901a" stroke-width="0.3"/>
<circle cx="607.6" cy="198.6" r="1.85" fill="#f2b424" stroke="#c8901a" stroke-width="0.3"/>
<circle cx="592.7" cy="209.8" r="1.85" fill="#f2b424" stroke="#c8901a" stroke-width="0.3"/>
<circle cx="622.7" cy="206" r="1.85" fill="#f2b424" stroke="#c8901a" stroke-width="0.3"/>
<circle cx="630.1" cy="202.6" r="1.85" fill="#f2b424" stroke="#c8901a" stroke-width="0.3"/>
<circle cx="632.8" cy="208.7" r="1.85" fill="#f2b424" stroke="#c8901a" stroke-width="0.3"/>
<circle cx="642.9" cy="212.4" r="1.85" fill="#f2b424" stroke="#c8901a" stroke-width="0.3"/>
<circle cx="596.7" cy="218.7" r="1.85" fill="#f2b424" stroke="#c8901a" stroke-width="0.3"/>
<circle cx="594.6" cy="227.2" r="1.85" fill="#f2b424" stroke="#c8901a" stroke-width="0.3"/>
<circle cx="617.1" cy="226.7" r="1.85" fill="#f2b424" stroke="#c8901a" stroke-width="0.3"/>
<circle cx="609.2" cy="232.3" r="1.85" fill="#f2b424" stroke="#c8901a" stroke-width="0.3"/>
<circle cx="622.9" cy="234.7" r="1.85" fill="#f2b424" stroke="#c8901a" stroke-width="0.3"/>
<circle cx="661.7" cy="229.3" r="1.85" fill="#f2b424" stroke="#c8901a" stroke-width="0.3"/>
<circle cx="598.6" cy="241.2" r="1.85" fill="#f2b424" stroke="#c8901a" stroke-width="0.3"/>
<circle cx="620.4" cy="241.6" r="1.85" fill="#f2b424" stroke="#c8901a" stroke-width="0.3"/>
<circle cx="632.3" cy="250.5" r="1.85" fill="#f2b424" stroke="#c8901a" stroke-width="0.3"/>
<circle cx="618.4" cy="258" r="1.85" fill="#f2b424" stroke="#c8901a" stroke-width="0.3"/>
<circle cx="642.4" cy="256.9" r="1.85" fill="#f2b424" stroke="#c8901a" stroke-width="0.3"/>
</g>
<ellipse cx="629.6" cy="226.6" rx="52.2" ry="49.2" fill="none" stroke="#222" stroke-width="1.2" stroke-dasharray="3.2 2"/>
<text x="575" y="298.6" font-size="7.4" text-anchor="start" fill="#cf6a3c" font-weight="bold">π – π interaction</text>
<line x1="651" y1="296" x2="681" y2="296" stroke="#d9774a" stroke-width="1.4" stroke-dasharray="1.3 1.5"/>
<text x="561.6" y="312.6" font-size="7.4" text-anchor="start" fill="#3a82c4" font-weight="bold">Hydrophobic interaction</text>
<line x1="650" y1="310" x2="681" y2="310" stroke="#3a82c4" stroke-width="1.4" stroke-dasharray="1.3 1.5"/>
<text x="568" y="326.6" font-size="7.4" text-anchor="start" fill="#c49a3c" font-weight="bold">Boric acid derivative</text>
<circle cx="665.6" cy="323.6" r="4.5" fill="#f2bd1c" stroke="#d09a18" stroke-width="0.4"/>
<text x="-0.8" y="369.2" font-size="16.3" text-anchor="start" fill="#111">G</text>
<line x1="44.8" y1="356.2" x2="197.6" y2="356.2" stroke="#333" stroke-width="0.9"/>
<line x1="197.6" y1="356.2" x2="197.6" y2="479" stroke="#333" stroke-width="0.9"/>
<line x1="44.8" y1="355.75" x2="44.8" y2="479.45" stroke="#222" stroke-width="1.2"/>
<line x1="44.2" y1="479" x2="198.05" y2="479" stroke="#222" stroke-width="1.2"/>
<line x1="42.3" y1="468.5" x2="44.8" y2="468.5" stroke="#222" stroke-width="0.9"/>
<text x="0" y="0" font-size="9.27" text-anchor="end" fill="#1e1e1e" transform="translate(41.3 471.65) scale(0.88 1)">0.0</text>
<line x1="42.3" y1="448.05" x2="44.8" y2="448.05" stroke="#222" stroke-width="0.9"/>
<text x="0" y="0" font-size="9.27" text-anchor="end" fill="#1e1e1e" transform="translate(41.3 451.2) scale(0.88 1)">1.0</text>
<line x1="42.3" y1="427.6" x2="44.8" y2="427.6" stroke="#222" stroke-width="0.9"/>
<text x="0" y="0" font-size="9.27" text-anchor="end" fill="#1e1e1e" transform="translate(41.3 430.75) scale(0.88 1)">2.0</text>
<line x1="42.3" y1="407.15" x2="44.8" y2="407.15" stroke="#222" stroke-width="0.9"/>
<text x="0" y="0" font-size="9.27" text-anchor="end" fill="#1e1e1e" transform="translate(41.3 410.3) scale(0.88 1)">3.0</text>
<line x1="42.3" y1="386.7" x2="44.8" y2="386.7" stroke="#222" stroke-width="0.9"/>
<text x="0" y="0" font-size="9.27" text-anchor="end" fill="#1e1e1e" transform="translate(41.3 389.85) scale(0.88 1)">4.0</text>
<line x1="42.3" y1="366.25" x2="44.8" y2="366.25" stroke="#222" stroke-width="0.9"/>
<text x="0" y="0" font-size="9.27" text-anchor="end" fill="#1e1e1e" transform="translate(41.3 369.4) scale(0.88 1)">5.0</text>
<line x1="43.3" y1="478.73" x2="44.8" y2="478.73" stroke="#222" stroke-width="0.8"/>
<line x1="43.3" y1="458.27" x2="44.8" y2="458.27" stroke="#222" stroke-width="0.8"/>
<line x1="43.3" y1="437.82" x2="44.8" y2="437.82" stroke="#222" stroke-width="0.8"/>
<line x1="43.3" y1="417.38" x2="44.8" y2="417.38" stroke="#222" stroke-width="0.8"/>
<line x1="43.3" y1="396.93" x2="44.8" y2="396.93" stroke="#222" stroke-width="0.8"/>
<line x1="43.3" y1="376.48" x2="44.8" y2="376.48" stroke="#222" stroke-width="0.8"/>
<line x1="54.8" y1="479" x2="54.8" y2="481.5" stroke="#222" stroke-width="0.9"/>
<text x="0" y="0" font-size="9.27" text-anchor="middle" fill="#1e1e1e" transform="translate(54.8 490.2) scale(0.88 1)">0.0</text>
<line x1="75.2" y1="479" x2="75.2" y2="481.5" stroke="#222" stroke-width="0.9"/>
<text x="0" y="0" font-size="9.27" text-anchor="middle" fill="#1e1e1e" transform="translate(75.2 490.2) scale(0.88 1)">2.0</text>
<line x1="95.6" y1="479" x2="95.6" y2="481.5" stroke="#222" stroke-width="0.9"/>
<text x="0" y="0" font-size="9.27" text-anchor="middle" fill="#1e1e1e" transform="translate(95.6 490.2) scale(0.88 1)">4.0</text>
<line x1="116" y1="479" x2="116" y2="481.5" stroke="#222" stroke-width="0.9"/>
<text x="0" y="0" font-size="9.27" text-anchor="middle" fill="#1e1e1e" transform="translate(116 490.2) scale(0.88 1)">6.0</text>
<line x1="136.4" y1="479" x2="136.4" y2="481.5" stroke="#222" stroke-width="0.9"/>
<text x="0" y="0" font-size="9.27" text-anchor="middle" fill="#1e1e1e" transform="translate(136.4 490.2) scale(0.88 1)">8.0</text>
<line x1="156.8" y1="479" x2="156.8" y2="481.5" stroke="#222" stroke-width="0.9"/>
<text x="0" y="0" font-size="9.27" text-anchor="middle" fill="#1e1e1e" transform="translate(156.8 490.2) scale(0.88 1)">10.0</text>
<line x1="177.2" y1="479" x2="177.2" y2="481.5" stroke="#222" stroke-width="0.9"/>
<text x="0" y="0" font-size="9.27" text-anchor="middle" fill="#1e1e1e" transform="translate(177.2 490.2) scale(0.88 1)">12.0</text>
<line x1="197.6" y1="479" x2="197.6" y2="481.5" stroke="#222" stroke-width="0.9"/>
<text x="0" y="0" font-size="9.27" text-anchor="middle" fill="#1e1e1e" transform="translate(197.6 490.2) scale(0.88 1)">14.0</text>
<line x1="44.6" y1="479" x2="44.6" y2="480.5" stroke="#222" stroke-width="0.8"/>
<line x1="65" y1="479" x2="65" y2="480.5" stroke="#222" stroke-width="0.8"/>
<line x1="85.4" y1="479" x2="85.4" y2="480.5" stroke="#222" stroke-width="0.8"/>
<line x1="105.8" y1="479" x2="105.8" y2="480.5" stroke="#222" stroke-width="0.8"/>
<line x1="126.2" y1="479" x2="126.2" y2="480.5" stroke="#222" stroke-width="0.8"/>
<line x1="146.6" y1="479" x2="146.6" y2="480.5" stroke="#222" stroke-width="0.8"/>
<line x1="167" y1="479" x2="167" y2="480.5" stroke="#222" stroke-width="0.8"/>
<line x1="187.4" y1="479" x2="187.4" y2="480.5" stroke="#222" stroke-width="0.8"/>
<text x="26.5" y="417.6" font-size="8.7" text-anchor="middle" fill="#111" font-weight="bold" transform="rotate(-90 26.5 417.6)">Stress (MPa)</text>
<text x="121.3" y="504.2" font-size="8.7" text-anchor="middle" fill="#111" font-weight="bold">Stretch</text>
<path d="M55.4 468.4 C59.5 468.22 72.57 467.67 80 467.3 C87.43 466.93 92.5 466.55 100 466.2 C107.5 465.85 116.67 465.53 125 465.2 C133.33 464.87 142.5 464.57 150 464.2 C157.5 463.83 164.07 463.4 170 463 C175.93 462.6 183 462 185.6 461.8 L185.6 468.4" fill="none" stroke="#c03a96" stroke-width="1.1"/>
<polyline points="55.4,468.4 58.5,461 61.2,455.5 99.5,404.4 99.5,468.4" fill="none" stroke="#7a62b4" stroke-width="1.1"/>
<path d="M55.4 468.4 C55.88 467.25 57.33 463.65 58.3 461.5 C59.27 459.35 60.1 458.5 61.2 455.5 C62.3 452.5 63.67 447.98 64.9 443.5 C66.13 439.02 67.48 433.6 68.6 428.6 C69.72 423.6 70.75 418.1 71.6 413.5 C72.45 408.9 73.03 404.33 73.7 401 C74.37 397.67 74.97 395.88 75.6 393.5 C76.23 391.12 76.82 388.83 77.5 386.7 C78.18 384.57 78.7 383.23 79.7 380.7 C80.7 378.17 82.2 373.9 83.5 371.5 C84.8 369.1 86.83 367.17 87.5 366.3 L87.5 468.4" fill="none" stroke="#f28b32" stroke-width="1.1"/>
<path d="M55.4 468.4 Q57.8 460 61.2 455.5 L61.2 468.4" fill="none" stroke="#1f9595" stroke-width="1.6"/>
<line x1="117" y1="370.5" x2="131.2" y2="370.5" stroke="#3aa9a9" stroke-width="1.7"/>
<text x="132.6" y="373.2" font-size="7.6" text-anchor="start" fill="#222">P-PDMS@Sugar</text>
<line x1="117" y1="379.85" x2="131.2" y2="379.85" stroke="#f28b32" stroke-width="1.1"/>
<text x="132.6" y="382.55" font-size="7.6" text-anchor="start" fill="#222">-0.1MPa/125 °C</text>
<line x1="117" y1="389.2" x2="131.2" y2="389.2" stroke="#c03a96" stroke-width="1.1"/>
<text x="132.6" y="391.9" font-size="7.6" text-anchor="start" fill="#222">-0.1MPa/25 °C</text>
<line x1="117" y1="398.55" x2="131.2" y2="398.55" stroke="#7a62b4" stroke-width="1.1"/>
<text x="132.6" y="401.25" font-size="7.6" text-anchor="start" fill="#222">-0.0MPa/25 °C</text>
<text x="210.4" y="369" font-size="16.3" text-anchor="start" fill="#111">H</text>
<line x1="253" y1="355.4" x2="406" y2="355.4" stroke="#333" stroke-width="0.9"/>
<line x1="406" y1="355.4" x2="406" y2="479" stroke="#333" stroke-width="0.9"/>
<line x1="253" y1="354.95" x2="253" y2="479.45" stroke="#222" stroke-width="1.2"/>
<line x1="252.4" y1="479" x2="406.45" y2="479" stroke="#222" stroke-width="1.2"/>
<line x1="250.5" y1="469.7" x2="253" y2="469.7" stroke="#222" stroke-width="0.9"/>
<text x="0" y="0" font-size="9.27" text-anchor="end" fill="#1e1e1e" transform="translate(249.5 472.85) scale(0.88 1)">0.0</text>
<line x1="250.5" y1="452.1" x2="253" y2="452.1" stroke="#222" stroke-width="0.9"/>
<text x="0" y="0" font-size="9.27" text-anchor="end" fill="#1e1e1e" transform="translate(249.5 455.25) scale(0.88 1)">1.0</text>
<line x1="250.5" y1="434.5" x2="253" y2="434.5" stroke="#222" stroke-width="0.9"/>
<text x="0" y="0" font-size="9.27" text-anchor="end" fill="#1e1e1e" transform="translate(249.5 437.65) scale(0.88 1)">2.0</text>
<line x1="250.5" y1="416.9" x2="253" y2="416.9" stroke="#222" stroke-width="0.9"/>
<text x="0" y="0" font-size="9.27" text-anchor="end" fill="#1e1e1e" transform="translate(249.5 420.05) scale(0.88 1)">3.0</text>
<line x1="250.5" y1="399.3" x2="253" y2="399.3" stroke="#222" stroke-width="0.9"/>
<text x="0" y="0" font-size="9.27" text-anchor="end" fill="#1e1e1e" transform="translate(249.5 402.45) scale(0.88 1)">4.0</text>
<line x1="250.5" y1="381.7" x2="253" y2="381.7" stroke="#222" stroke-width="0.9"/>
<text x="0" y="0" font-size="9.27" text-anchor="end" fill="#1e1e1e" transform="translate(249.5 384.85) scale(0.88 1)">5.0</text>
<line x1="250.5" y1="364.1" x2="253" y2="364.1" stroke="#222" stroke-width="0.9"/>
<text x="0" y="0" font-size="9.27" text-anchor="end" fill="#1e1e1e" transform="translate(249.5 367.25) scale(0.88 1)">6.0</text>
<line x1="251.5" y1="478.5" x2="253" y2="478.5" stroke="#222" stroke-width="0.8"/>
<line x1="251.5" y1="460.9" x2="253" y2="460.9" stroke="#222" stroke-width="0.8"/>
<line x1="251.5" y1="443.3" x2="253" y2="443.3" stroke="#222" stroke-width="0.8"/>
<line x1="251.5" y1="425.7" x2="253" y2="425.7" stroke="#222" stroke-width="0.8"/>
<line x1="251.5" y1="408.1" x2="253" y2="408.1" stroke="#222" stroke-width="0.8"/>
<line x1="251.5" y1="390.5" x2="253" y2="390.5" stroke="#222" stroke-width="0.8"/>
<line x1="251.5" y1="372.9" x2="253" y2="372.9" stroke="#222" stroke-width="0.8"/>
<line x1="264.4" y1="479" x2="264.4" y2="481.5" stroke="#222" stroke-width="0.9"/>
<text x="0" y="0" font-size="9.27" text-anchor="middle" fill="#1e1e1e" transform="translate(264.4 490.2) scale(0.88 1)">0.0</text>
<line x1="286.1" y1="479" x2="286.1" y2="481.5" stroke="#222" stroke-width="0.9"/>
<text x="0" y="0" font-size="9.27" text-anchor="middle" fill="#1e1e1e" transform="translate(286.1 490.2) scale(0.88 1)">0.5</text>
<line x1="307.8" y1="479" x2="307.8" y2="481.5" stroke="#222" stroke-width="0.9"/>
<text x="0" y="0" font-size="9.27" text-anchor="middle" fill="#1e1e1e" transform="translate(307.8 490.2) scale(0.88 1)">1.0</text>
<line x1="329.5" y1="479" x2="329.5" y2="481.5" stroke="#222" stroke-width="0.9"/>
<text x="0" y="0" font-size="9.27" text-anchor="middle" fill="#1e1e1e" transform="translate(329.5 490.2) scale(0.88 1)">1.5</text>
<line x1="351.2" y1="479" x2="351.2" y2="481.5" stroke="#222" stroke-width="0.9"/>
<text x="0" y="0" font-size="9.27" text-anchor="middle" fill="#1e1e1e" transform="translate(351.2 490.2) scale(0.88 1)">2.0</text>
<line x1="372.9" y1="479" x2="372.9" y2="481.5" stroke="#222" stroke-width="0.9"/>
<text x="0" y="0" font-size="9.27" text-anchor="middle" fill="#1e1e1e" transform="translate(372.9 490.2) scale(0.88 1)">2.5</text>
<line x1="394.6" y1="479" x2="394.6" y2="481.5" stroke="#222" stroke-width="0.9"/>
<text x="0" y="0" font-size="9.27" text-anchor="middle" fill="#1e1e1e" transform="translate(394.6 490.2) scale(0.88 1)">3.0</text>
<line x1="253.55" y1="479" x2="253.55" y2="480.5" stroke="#222" stroke-width="0.8"/>
<line x1="275.25" y1="479" x2="275.25" y2="480.5" stroke="#222" stroke-width="0.8"/>
<line x1="296.95" y1="479" x2="296.95" y2="480.5" stroke="#222" stroke-width="0.8"/>
<line x1="318.65" y1="479" x2="318.65" y2="480.5" stroke="#222" stroke-width="0.8"/>
<line x1="340.35" y1="479" x2="340.35" y2="480.5" stroke="#222" stroke-width="0.8"/>
<line x1="362.05" y1="479" x2="362.05" y2="480.5" stroke="#222" stroke-width="0.8"/>
<line x1="383.75" y1="479" x2="383.75" y2="480.5" stroke="#222" stroke-width="0.8"/>
<line x1="405.45" y1="479" x2="405.45" y2="480.5" stroke="#222" stroke-width="0.8"/>
<text x="234.5" y="417.3" font-size="8.7" text-anchor="middle" fill="#111" font-weight="bold" transform="rotate(-90 234.5 417.3)">Stress (MPa)</text>
<text x="330" y="503.8" font-size="8.7" text-anchor="middle" fill="#111" font-weight="bold">Stretch</text>
<path d="M264.3 470.1 C264.73 470 266.01 469.73 266.87 469.53 C267.73 469.32 268.58 469.11 269.44 468.89 C270.3 468.66 271.15 468.43 272.01 468.18 C272.87 467.93 273.72 467.68 274.58 467.41 C275.44 467.14 276.29 466.86 277.15 466.57 C278.01 466.28 278.86 465.98 279.72 465.67 C280.58 465.36 281.43 465.03 282.29 464.7 C283.15 464.37 284 464.02 284.86 463.67 C285.72 463.31 286.57 462.94 287.43 462.57 C288.29 462.19 289.57 461.59 290 461.4 L290 470.1" fill="none" stroke="#8fd3d3" stroke-width="1.1"/>
<path d="M264.3 470.1 C264.91 469.96 266.75 469.58 267.98 469.29 C269.21 468.99 270.43 468.68 271.66 468.34 C272.89 468 274.11 467.65 275.34 467.27 C276.57 466.89 277.79 466.49 279.02 466.06 C280.25 465.64 281.47 465.19 282.7 464.73 C283.93 464.26 285.15 463.77 286.38 463.26 C287.61 462.75 288.83 462.22 290.06 461.67 C291.29 461.11 292.51 460.54 293.74 459.94 C294.97 459.34 296.19 458.73 297.42 458.09 C298.65 457.45 300.49 456.43 301.1 456.1 L301.1 470.1" fill="none" stroke="#2aa2a2" stroke-width="1.1"/>
<path d="M264.3 470.1 C265.01 469.92 267.13 469.41 268.54 469.01 C269.95 468.62 271.37 468.19 272.78 467.72 C274.19 467.26 275.61 466.77 277.02 466.24 C278.43 465.71 279.85 465.15 281.26 464.56 C282.67 463.96 284.09 463.34 285.5 462.68 C286.91 462.02 288.33 461.32 289.74 460.6 C291.15 459.87 292.57 459.11 293.98 458.32 C295.39 457.53 296.81 456.7 298.22 455.84 C299.63 454.99 301.05 454.1 302.46 453.17 C303.87 452.25 305.99 450.78 306.7 450.3 L306.7 470.1" fill="none" stroke="#4b5ea6" stroke-width="1.1"/>
<path d="M264.3 470.1 C265.25 469.82 268.08 469.05 269.97 468.43 C271.86 467.81 273.75 467.12 275.64 466.37 C277.53 465.62 279.42 464.8 281.31 463.92 C283.2 463.03 285.09 462.08 286.98 461.07 C288.87 460.05 290.76 458.97 292.65 457.82 C294.54 456.68 296.43 455.46 298.32 454.19 C300.21 452.91 302.1 451.56 303.99 450.16 C305.88 448.75 307.77 447.27 309.66 445.73 C311.55 444.19 313.44 442.58 315.33 440.91 C317.22 439.24 320.06 436.57 321 435.7 L321 470.1" fill="none" stroke="#4a88c2" stroke-width="1.1"/>
<path d="M264.3 470.1 C265.36 469.81 268.55 469.03 270.67 468.39 C272.79 467.74 274.92 467.02 277.04 466.22 C279.16 465.43 281.29 464.56 283.41 463.61 C285.53 462.67 287.66 461.65 289.78 460.56 C291.9 459.46 294.03 458.29 296.15 457.05 C298.27 455.81 300.4 454.49 302.52 453.1 C304.64 451.7 306.77 450.24 308.89 448.69 C311.01 447.15 313.14 445.54 315.26 443.84 C317.38 442.15 319.51 440.39 321.63 438.55 C323.75 436.71 326.94 433.76 328 432.8 L328 470.1" fill="none" stroke="#cbb3da" stroke-width="1.1"/>
<path d="M264.3 470.1 C265.48 469.76 269.01 468.82 271.37 468.03 C273.73 467.24 276.08 466.36 278.44 465.37 C280.8 464.39 283.15 463.3 285.51 462.12 C287.87 460.94 290.22 459.66 292.58 458.28 C294.94 456.9 297.29 455.42 299.65 453.85 C302.01 452.27 304.36 450.59 306.72 448.82 C309.08 447.05 311.43 445.17 313.79 443.2 C316.15 441.23 318.5 439.16 320.86 436.99 C323.22 434.82 325.57 432.56 327.93 430.19 C330.29 427.83 333.82 424.03 335 422.8 L335 470.1" fill="none" stroke="#f3bcc6" stroke-width="1.1"/>
<path d="M264.3 470.1 C265.87 469.62 270.18 468.07 273.7 467.2 C277.22 466.33 281.52 465.87 285.4 464.9 C289.28 463.93 293.12 462.77 297 461.4 C300.88 460.03 304.8 458.55 308.7 456.7 C312.6 454.85 316.5 452.73 320.4 450.3 C324.3 447.87 328.5 445.15 332.1 442.1 C335.7 439.05 338.68 435.77 342 432 C345.32 428.23 348.8 423.77 352 419.5 C355.2 415.23 359.67 408.58 361.2 406.4 L361.2 470.1" fill="none" stroke="#c23c9c" stroke-width="1.1"/>
<path d="M264.3 470.1 C265.87 469.25 270.18 466.68 273.7 465 C277.22 463.32 281.52 461.75 285.4 460 C289.28 458.25 293.12 456.67 297 454.5 C300.88 452.33 304.8 449.92 308.7 447 C312.6 444.08 316.5 441 320.4 437 C324.3 433 329.17 426.83 332.1 423 C335.03 419.17 336.15 416.83 338 414 C339.85 411.17 341.53 409 343.2 406 C344.87 403 346.53 399.17 348 396 C349.47 392.83 350.67 389.75 352 387 C353.33 384.25 354.55 381.73 356 379.5 C357.45 377.27 359.92 374.58 360.7 373.6 L360.7 470.1" fill="none" stroke="#ea7cae" stroke-width="1.1"/>
<path d="M264.3 470.1 C265.87 469.12 270.18 466.1 273.7 464.2 C277.22 462.3 281.52 460.6 285.4 458.7 C289.28 456.8 293.12 455.17 297 452.8 C300.88 450.43 304.8 447.72 308.7 444.5 C312.6 441.28 316.5 437.75 320.4 433.5 C324.3 429.25 328.83 423.17 332.1 419 C335.37 414.83 337.42 411.77 340 408.5 C342.58 405.23 345.27 402.15 347.6 399.4 C349.93 396.65 351.82 394.37 354 392 C356.18 389.63 358.53 387.23 360.7 385.2 C362.87 383.17 364.8 381.45 367 379.8 C369.2 378.15 371.9 376.68 373.9 375.3 C375.9 373.92 377.28 372.67 379 371.5 C380.72 370.33 383.33 368.83 384.2 368.3 L384.2 470.1" fill="none" stroke="#8876c4" stroke-width="1.1"/>
<path d="M264.3 470.1 C265.87 469.03 270.18 465.73 273.7 463.7 C277.22 461.67 281.52 459.85 285.4 457.9 C289.28 455.95 293.12 454.33 297 452 C300.88 449.67 304.8 447 308.7 443.9 C312.6 440.8 316.5 437.5 320.4 433.4 C324.3 429.3 328.3 423.78 332.1 419.3 C335.9 414.82 339.88 409.97 343.2 406.5 C346.52 403.03 349.08 400.83 352 398.5 C354.92 396.17 357.7 394.45 360.7 392.5 C363.7 390.55 367.08 388.55 370 386.8 C372.92 385.05 375.53 383.38 378.2 382 C380.87 380.62 383.43 379.53 386 378.5 C388.57 377.47 392.33 376.25 393.6 375.8 L393.6 470.1" fill="none" stroke="#f2913c" stroke-width="1.1"/>
<line x1="256" y1="363.3" x2="268.6" y2="363.3" stroke="#8fd3d3" stroke-width="1.3"/>
<text x="270" y="365.3" font-size="5.6" text-anchor="start" fill="#333">P-PDMS@NaCl</text>
<line x1="256" y1="369.99" x2="268.6" y2="369.99" stroke="#2aa2a2" stroke-width="1.3"/>
<text x="270" y="371.99" font-size="5.6" text-anchor="start" fill="#333">P-PDMS@Sugar</text>
<line x1="256" y1="376.68" x2="268.6" y2="376.68" stroke="#4a88c2" stroke-width="1.3"/>
<text x="270" y="378.68" font-size="5.6" text-anchor="start" fill="#333">P-PDMS@NaHCO3</text>
<line x1="256" y1="383.37" x2="268.6" y2="383.37" stroke="#4b5ea6" stroke-width="1.3"/>
<text x="270" y="385.37" font-size="5.6" text-anchor="start" fill="#333">P-PDMS@Castor</text>
<line x1="256" y1="390.06" x2="268.6" y2="390.06" stroke="#cbb3da" stroke-width="1.3"/>
<text x="270" y="392.06" font-size="5.6" text-anchor="start" fill="#333">P-PDMS@Gly</text>
<line x1="256" y1="396.75" x2="268.6" y2="396.75" stroke="#f3bcc6" stroke-width="1.3"/>
<text x="270" y="398.75" font-size="5.6" text-anchor="start" fill="#333">HNP-PDMS@BA</text>
<line x1="256" y1="403.44" x2="268.6" y2="403.44" stroke="#ea7cae" stroke-width="1.3"/>
<text x="270" y="405.44" font-size="5.6" text-anchor="start" fill="#333">HNP-PDMS@MBA</text>
<line x1="256" y1="410.13" x2="268.6" y2="410.13" stroke="#c23c9c" stroke-width="1.3"/>
<text x="270" y="412.13" font-size="5.6" text-anchor="start" fill="#333">HNP-PDMS@PBA</text>
<line x1="256" y1="416.82" x2="268.6" y2="416.82" stroke="#8876c4" stroke-width="1.3"/>
<text x="270" y="418.82" font-size="5.6" text-anchor="start" fill="#333">HNP-PDMS@PdBA</text>
<line x1="256" y1="423.51" x2="268.6" y2="423.51" stroke="#f2913c" stroke-width="1.3"/>
<text x="270" y="425.51" font-size="5.6" text-anchor="start" fill="#333">HNP-PDMS@bPdBA</text>
<text x="422" y="369" font-size="16.3" fill="#111">I</text>
<polygon points="537.4,374.42 580.69,396.3 589.19,451.2 537.4,481.1 485.61,451.2 485.61,391.4" fill="#f9d5d6" stroke="none" stroke-width="1"/>
<polygon points="537.4,412.93 559.67,408.44 573.65,442.23 537.4,441.63 502.18,441.63 511.51,406.35" fill="#98a7a6" stroke="none" stroke-width="1" fill-opacity="0.6"/>
<polygon points="537.4,373.46 573.65,400.37 572.1,441.33 537.4,430.87 524.97,428.48 517.72,409.94" fill="#7f7ab0" stroke="none" stroke-width="1" fill-opacity="0.55"/>
<polygon points="537.4,388.41 565.36,405.15 564.85,437.15 537.4,434.46 529.11,426.08 510.47,405.75" fill="#f3b48a" stroke="none" stroke-width="1" fill-opacity="0.45"/>
<polygon points="537.4,403.36 567.44,403.96 565.88,437.75 537.4,435.05 527.04,427.28 511.51,406.35" fill="#d8b0d4" stroke="none" stroke-width="1" fill-opacity="0.45"/>
<polygon points="537.4,406.35 550.35,413.82 550.35,428.78 537.4,436.25 524.45,428.78 524.45,413.82" fill="none" stroke="#777" stroke-width="0.5"/>
<polygon points="537.4,391.4 563.29,406.35 563.29,436.25 537.4,451.2 511.51,436.25 511.51,406.35" fill="none" stroke="#777" stroke-width="0.5"/>
<polygon points="537.4,376.45 576.24,398.88 576.24,443.73 537.4,466.15 498.56,443.73 498.56,398.88" fill="none" stroke="#777" stroke-width="0.5"/>
<polygon points="537.4,361.5 589.19,391.4 589.19,451.2 537.4,481.1 485.61,451.2 485.61,391.4" fill="none" stroke="#555" stroke-width="0.6"/>
<line x1="537.4" y1="421.3" x2="537.4" y2="361.5" stroke="#333" stroke-width="0.8"/>
<line x1="537.4" y1="421.3" x2="589.19" y2="391.4" stroke="#333" stroke-width="0.8"/>
<line x1="537.4" y1="421.3" x2="589.19" y2="451.2" stroke="#333" stroke-width="0.8"/>
<line x1="537.4" y1="421.3" x2="537.4" y2="481.1" stroke="#333" stroke-width="0.8"/>
<line x1="537.4" y1="421.3" x2="485.61" y2="451.2" stroke="#333" stroke-width="0.8"/>
<line x1="537.4" y1="421.3" x2="485.61" y2="391.4" stroke="#333" stroke-width="0.8"/>
<polygon points="537.4,412.93 559.67,408.44 573.65,442.23 537.4,441.63 502.18,441.63 511.51,406.35" fill="none" stroke="#7fb3ad" stroke-width="0.7"/>
<polygon points="537.4,373.46 573.65,400.37 572.1,441.33 537.4,430.87 524.97,428.48 517.72,409.94" fill="none" stroke="#6e68b4" stroke-width="0.7"/>
<polygon points="537.4,388.41 565.36,405.15 564.85,437.15 537.4,434.46 529.11,426.08 510.47,405.75" fill="none" stroke="#ee9050" stroke-width="0.9"/>
<polygon points="537.4,403.36 567.44,403.96 565.88,437.75 537.4,435.05 527.04,427.28 511.51,406.35" fill="none" stroke="#a066b8" stroke-width="0.8"/>
<polygon points="537.4,374.42 580.69,396.3 589.19,451.2 537.4,481.1 485.61,451.2 485.61,391.4" fill="none" stroke="#e8414c" stroke-width="0.9"/>
<text x="535.5" y="363.2" font-size="5.4" text-anchor="middle" fill="#555">0.0</text>
<text x="533.5" y="376.6" font-size="5.4" text-anchor="middle" fill="#555">5.0</text>
<text x="531.5" y="390.5" font-size="5.4" text-anchor="middle" fill="#555">10.0</text>
<text x="531.5" y="407.6" font-size="5.4" text-anchor="middle" fill="#555">15.0</text>
<text x="588.2" y="390.2" font-size="5.4" text-anchor="middle" fill="#555">0.90</text>
<text x="566.2" y="399.8" font-size="5.4" text-anchor="middle" fill="#555">0.67</text>
<text x="550.5" y="409" font-size="5.4" text-anchor="middle" fill="#555">1.34</text>
<text x="592.8" y="452.3" font-size="5.4" text-anchor="middle" fill="#555">2.0</text>
<text x="582.6" y="443.3" font-size="5.4" text-anchor="middle" fill="#555">1.5</text>
<text x="566.8" y="427.7" font-size="5.4" text-anchor="middle" fill="#555">1.0</text>
<text x="553.5" y="425.8" font-size="5.4" text-anchor="middle" fill="#555">0.5</text>
<text x="540.6" y="483.2" font-size="5.4" text-anchor="middle" fill="#555">8.0</text>
<text x="540.6" y="468.6" font-size="5.4" text-anchor="middle" fill="#555">6.0</text>
<text x="540.6" y="453.8" font-size="5.4" text-anchor="middle" fill="#555">4.0</text>
<text x="540.6" y="438.4" font-size="5.4" text-anchor="middle" fill="#555">2.0</text>
<text x="488" y="454" font-size="5.4" text-anchor="middle" fill="#555">8.0</text>
<text x="506.5" y="446.8" font-size="5.4" text-anchor="middle" fill="#555">6.0</text>
<text x="523.8" y="436.2" font-size="5.4" text-anchor="middle" fill="#555">2.0</text>
<text x="489" y="394.6" font-size="5.4" text-anchor="middle" fill="#555">3.0</text>
<text x="500.5" y="407.6" font-size="5.4" text-anchor="middle" fill="#555">2.0</text>
<text x="514.5" y="416.8" font-size="5.4" text-anchor="middle" fill="#555">1.0</text>
<text x="541" y="417.8" font-size="5.4" text-anchor="middle" fill="#555">2.8</text>
<text x="541" y="422.8" font-size="5.4" text-anchor="middle" fill="#555">2.0</text>
<text x="530" y="422.5" font-size="5.4" text-anchor="middle" fill="#555">0.0</text>
<text x="538" y="357.5" font-size="6.5" text-anchor="middle" fill="#111" font-weight="bold">Energy dissipation (kJ/m<tspan font-size="4.5" dy="-2.6">3</tspan><tspan dy="2.6">)</tspan></text>
<text x="592" y="386" font-size="6.5" text-anchor="start" fill="#111" font-weight="bold">Compression modulus</text>
<text x="592" y="394" font-size="6.5" text-anchor="start" fill="#111" font-weight="bold">(MPa)</text>
<text x="593.6" y="458.3" font-size="6.5" text-anchor="start" fill="#111" font-weight="bold">Tensile modulus</text>
<text x="593.6" y="466.3" font-size="6.5" text-anchor="start" fill="#111" font-weight="bold">(MPa)</text>
<text x="477.7" y="388" font-size="6.5" text-anchor="end" fill="#111" font-weight="bold">Stretch rate</text>
<text x="477.7" y="396.3" font-size="6.5" text-anchor="end" fill="#111" font-weight="bold">(mm/mm)</text>
<text x="484.8" y="457" font-size="6.5" text-anchor="end" fill="#111" font-weight="bold">Breaking strength</text>
<text x="484.8" y="465.3" font-size="6.5" text-anchor="end" fill="#111" font-weight="bold">(MPa)</text>
<text x="540.8" y="492.3" font-size="6.5" text-anchor="middle" fill="#111" font-weight="bold">Toughness (MJ/m<tspan font-size="4.5" dy="-2.6">3</tspan><tspan dy="2.6">)</tspan></text>
<rect x="431.4" y="496.6" width="12" height="6" fill="#a9d8d4" stroke="none" stroke-width="1"/>
<text x="444.8" y="501.6" font-size="5.6" text-anchor="start" fill="#333">S-PDMS</text>
<rect x="468.4" y="496.6" width="12" height="6" fill="#9cb0d6" stroke="none" stroke-width="1"/>
<text x="481.8" y="501.6" font-size="5.6" text-anchor="start" fill="#333">Template method</text>
<rect x="526.6" y="496.6" width="12" height="6" fill="#fbdcc6" stroke="none" stroke-width="1"/>
<text x="540" y="501.6" font-size="5.6" text-anchor="start" fill="#333">Foaming method</text>
<rect x="583.4" y="496.6" width="12" height="6" fill="#f3e2ea" stroke="none" stroke-width="1"/>
<text x="596.8" y="501.6" font-size="5.6" text-anchor="start" fill="#333">Emulsion method</text>
<rect x="641" y="496.6" width="12" height="6" fill="#f6c6c9" stroke="none" stroke-width="1"/>
<text x="654.4" y="501.6" font-size="5.6" text-anchor="start" fill="#333">This work</text>
<text x="-0.3" y="534.3" font-size="16.3" fill="#111">J</text>
<line x1="46.4" y1="525" x2="198.6" y2="525" stroke="#333" stroke-width="0.9"/>
<line x1="198.6" y1="525" x2="198.6" y2="647" stroke="#333" stroke-width="0.9"/>
<line x1="46.4" y1="524.55" x2="46.4" y2="647.45" stroke="#222" stroke-width="1.2"/>
<line x1="45.8" y1="647" x2="199.05" y2="647" stroke="#222" stroke-width="1.2"/>
<line x1="43.9" y1="646.4" x2="46.4" y2="646.4" stroke="#222" stroke-width="0.9"/>
<text x="0" y="0" font-size="9.27" text-anchor="end" fill="#1e1e1e" transform="translate(42.9 649.55) scale(0.88 1)">0.0</text>
<line x1="43.9" y1="631.23" x2="46.4" y2="631.23" stroke="#222" stroke-width="0.9"/>
<text x="0" y="0" font-size="9.27" text-anchor="end" fill="#1e1e1e" transform="translate(42.9 634.38) scale(0.88 1)">0.5</text>
<line x1="43.9" y1="616.05" x2="46.4" y2="616.05" stroke="#222" stroke-width="0.9"/>
<text x="0" y="0" font-size="9.27" text-anchor="end" fill="#1e1e1e" transform="translate(42.9 619.2) scale(0.88 1)">1.0</text>
<line x1="43.9" y1="600.88" x2="46.4" y2="600.88" stroke="#222" stroke-width="0.9"/>
<text x="0" y="0" font-size="9.27" text-anchor="end" fill="#1e1e1e" transform="translate(42.9 604.02) scale(0.88 1)">1.5</text>
<line x1="43.9" y1="585.7" x2="46.4" y2="585.7" stroke="#222" stroke-width="0.9"/>
<text x="0" y="0" font-size="9.27" text-anchor="end" fill="#1e1e1e" transform="translate(42.9 588.85) scale(0.88 1)">2.0</text>
<line x1="43.9" y1="570.52" x2="46.4" y2="570.52" stroke="#222" stroke-width="0.9"/>
<text x="0" y="0" font-size="9.27" text-anchor="end" fill="#1e1e1e" transform="translate(42.9 573.67) scale(0.88 1)">2.5</text>
<line x1="43.9" y1="555.35" x2="46.4" y2="555.35" stroke="#222" stroke-width="0.9"/>
<text x="0" y="0" font-size="9.27" text-anchor="end" fill="#1e1e1e" transform="translate(42.9 558.5) scale(0.88 1)">3.0</text>
<line x1="43.9" y1="540.17" x2="46.4" y2="540.17" stroke="#222" stroke-width="0.9"/>
<text x="0" y="0" font-size="9.27" text-anchor="end" fill="#1e1e1e" transform="translate(42.9 543.32) scale(0.88 1)">3.5</text>
<line x1="43.9" y1="525" x2="46.4" y2="525" stroke="#222" stroke-width="0.9"/>
<text x="0" y="0" font-size="9.27" text-anchor="end" fill="#1e1e1e" transform="translate(42.9 528.15) scale(0.88 1)">4.0</text>
<line x1="44.9" y1="638.81" x2="46.4" y2="638.81" stroke="#222" stroke-width="0.8"/>
<line x1="44.9" y1="623.64" x2="46.4" y2="623.64" stroke="#222" stroke-width="0.8"/>
<line x1="44.9" y1="608.46" x2="46.4" y2="608.46" stroke="#222" stroke-width="0.8"/>
<line x1="44.9" y1="593.29" x2="46.4" y2="593.29" stroke="#222" stroke-width="0.8"/>
<line x1="44.9" y1="578.11" x2="46.4" y2="578.11" stroke="#222" stroke-width="0.8"/>
<line x1="44.9" y1="562.94" x2="46.4" y2="562.94" stroke="#222" stroke-width="0.8"/>
<line x1="44.9" y1="547.76" x2="46.4" y2="547.76" stroke="#222" stroke-width="0.8"/>
<line x1="44.9" y1="532.59" x2="46.4" y2="532.59" stroke="#222" stroke-width="0.8"/>
<line x1="46.6" y1="647" x2="46.6" y2="649.5" stroke="#222" stroke-width="0.9"/>
<text x="0" y="0" font-size="9.27" text-anchor="middle" fill="#1e1e1e" transform="translate(46.6 658.5) scale(0.88 1)">0.0</text>
<line x1="80.35" y1="647" x2="80.35" y2="649.5" stroke="#222" stroke-width="0.9"/>
<text x="0" y="0" font-size="9.27" text-anchor="middle" fill="#1e1e1e" transform="translate(80.35 658.5) scale(0.88 1)">0.5</text>
<line x1="114.1" y1="647" x2="114.1" y2="649.5" stroke="#222" stroke-width="0.9"/>
<text x="0" y="0" font-size="9.27" text-anchor="middle" fill="#1e1e1e" transform="translate(114.1 658.5) scale(0.88 1)">1.0</text>
<line x1="147.85" y1="647" x2="147.85" y2="649.5" stroke="#222" stroke-width="0.9"/>
<text x="0" y="0" font-size="9.27" text-anchor="middle" fill="#1e1e1e" transform="translate(147.85 658.5) scale(0.88 1)">1.5</text>
<line x1="181.6" y1="647" x2="181.6" y2="649.5" stroke="#222" stroke-width="0.9"/>
<text x="0" y="0" font-size="9.27" text-anchor="middle" fill="#1e1e1e" transform="translate(181.6 658.5) scale(0.88 1)">2.0</text>
<line x1="63.48" y1="647" x2="63.48" y2="648.5" stroke="#222" stroke-width="0.8"/>
<line x1="97.22" y1="647" x2="97.22" y2="648.5" stroke="#222" stroke-width="0.8"/>
<line x1="130.97" y1="647" x2="130.97" y2="648.5" stroke="#222" stroke-width="0.8"/>
<line x1="164.72" y1="647" x2="164.72" y2="648.5" stroke="#222" stroke-width="0.8"/>
<line x1="198.47" y1="647" x2="198.47" y2="648.5" stroke="#222" stroke-width="0.8"/>
<text x="28.5" y="586" font-size="8.7" text-anchor="middle" fill="#111" font-weight="bold" transform="rotate(-90 28.5 586)">Stress (MPa)</text>
<text x="123.2" y="666.5" font-size="8.7" text-anchor="middle" fill="#111" font-weight="bold">Stretch</text>
<path d="M46.3 646.2 C47.92 645.33 52.57 642.77 56 641 C59.43 639.23 62.9 637.78 66.9 635.6 C70.9 633.42 75.25 630.63 80 627.9 C84.75 625.17 90.28 622.48 95.4 619.2 C100.52 615.92 106.33 611.85 110.7 608.2 C115.07 604.55 117.95 601.68 121.6 597.3 C125.25 592.92 129.32 587.57 132.6 581.9 C135.88 576.23 138.75 568.95 141.3 563.3 C143.85 557.65 145.78 553.1 147.9 548 C150.02 542.9 152.98 535.25 154 532.7 L154 646.2" fill="none" stroke="#3bb6b6" stroke-width="1.3"/>
<path d="M46.3 646.2 C47.92 644.07 52.57 637.18 56 633.4 C59.43 629.62 62.9 626.78 66.9 623.5 C70.9 620.22 75.25 616.8 80 613.7 C84.75 610.6 90.28 608.02 95.4 604.9 C100.52 601.78 105.23 598.83 110.7 595 C116.17 591.17 123.82 585.35 128.2 581.9 C132.58 578.45 132.62 578.32 137 574.3 C141.38 570.28 149.4 562.55 154.5 557.8 C159.6 553.05 162.6 550.17 167.6 545.8 C172.6 541.43 181.68 533.97 184.5 531.6 L184.5 646.2" fill="none" stroke="#c1348e" stroke-width="1.4"/>
<path d="M46.3 646.2 C47.92 643.88 52.57 636.45 56 632.3 C59.43 628.15 62.9 624.77 66.9 621.3 C70.9 617.83 75.25 615.12 80 611.5 C84.75 607.88 90.28 603.65 95.4 599.6 C100.52 595.55 105.93 591.27 110.7 587.2 C115.47 583.13 119.62 579.37 124 575.2 C128.38 571.03 134.83 564.37 137 562.2 L137 646.2" fill="none" stroke="#178a8c" stroke-width="1.7"/>
<line x1="51.6" y1="533.8" x2="66.9" y2="533.8" stroke="#3bb6b6" stroke-width="1.3"/>
<text x="69.5" y="536.2" font-size="6.6" text-anchor="start" fill="#222">S-PDMS</text>
<line x1="51.6" y1="543.65" x2="66.9" y2="543.65" stroke="#178a8c" stroke-width="1.7"/>
<text x="69.5" y="546.05" font-size="6.6" text-anchor="start" fill="#222">HNP-PDMS@C/-0.0MPa</text>
<line x1="51.6" y1="553.5" x2="66.9" y2="553.5" stroke="#c1348e" stroke-width="1.4"/>
<text x="69.5" y="555.9" font-size="6.6" text-anchor="start" fill="#222">HNP-PDMS@C/-0.1MPa</text>
<text x="210.8" y="534.3" font-size="16.3" fill="#111">K</text>
<defs><filter id="sem" x="0" y="0" width="100%" height="100%"><feTurbulence type="fractalNoise" baseFrequency="0.11 0.08" numOctaves="3" seed="7" result="n"/><feColorMatrix in="n" type="matrix" values="0 0 0 0 0.25  0 0 0 0 0.25  0 0 0 0 0.25  2.4 0 0 0 -0.95" result="c"/><feComposite in="c" in2="SourceGraphic" operator="in"/></filter><filter id="sem2" x="0" y="0" width="100%" height="100%"><feTurbulence type="fractalNoise" baseFrequency="0.25 0.18" numOctaves="2" seed="3" result="n"/><feColorMatrix in="n" type="matrix" values="0 0 0 0 0.62  0 0 0 0 0.62  0 0 0 0 0.62  0 2.6 0 0 -1.25" result="c"/><feComposite in="c" in2="SourceGraphic" operator="in"/></filter><filter id="bl" x="-2%" y="-2%" width="104%" height="104%"><feGaussianBlur stdDeviation="0.75"/></filter><clipPath id="cK"><rect x="244.8" y="527.8" width="165" height="123.2"/></clipPath></defs>
<rect x="244.8" y="527.8" width="165" height="123.2" fill="#606060" stroke="none" stroke-width="1"/>
<g clip-path="url(#cK)"><g filter="url(#bl)">
<rect x="244.8" y="527.8" width="165" height="123.2" fill="#fff" filter="url(#sem)" opacity="0.75"/>
<rect x="253.5" y="527.8" width="6.5" height="123.2" fill="#2e2e2e" opacity="0.5"/>
<rect x="244.8" y="527.8" width="8" height="123.2" fill="#ffffff" opacity="0.08"/>
<polyline points="310.65,595.44 313.1,593.8 313.77,591.01 314.22,588.5" fill="none" stroke="#b2b2b2" stroke-width="0.48"/><polyline points="287.98,536.24 289.59,534.32 290.57,532.27 292.8,530.91 295.62,530.18" fill="none" stroke="#a6a6a6" stroke-width="0.47"/><polyline points="270.75,555.33 273.19,554.77 274.28,553.21 274.46,551.72" fill="none" stroke="#a6a6a6" stroke-width="0.59"/><polyline points="284.14,650.7 285.95,651.63 287.91,651.28" fill="none" stroke="#a6a6a6" stroke-width="0.62"/><polyline points="258.23,538.4 255.35,539.03 255.06,540.86" fill="none" stroke="#a6a6a6" stroke-width="0.59"/><polyline points="391.01,574.95 393.57,574.26 395.17,573.02 394.63,570.9 395.83,569.65" fill="none" stroke="#a6a6a6" stroke-width="0.45"/><polyline points="312.56,586.24 311.61,584.68 311.61,582.96" fill="none" stroke="#8e8e8e" stroke-width="0.48"/><polyline points="305.84,551.66 306.86,554.49 308.73,555.59 309.22,558.13 312.12,559.44" fill="none" stroke="#b2b2b2" stroke-width="0.58"/><polyline points="243.26,601.82 242.44,600.39 241.83,598.57 241.67,596.45" fill="none" stroke="#8e8e8e" stroke-width="0.49"/><polyline points="331.18,629.84 332.94,630.01 334.32,632.54 335.94,633.37" fill="none" stroke="#b2b2b2" stroke-width="0.66"/><polyline points="300.89,585.69 302.29,585 303.8,586.16" fill="none" stroke="#8e8e8e" stroke-width="0.53"/><polyline points="367.17,600.07 364.12,600.91 363.21,603.04" fill="none" stroke="#a6a6a6" stroke-width="0.53"/><polyline points="381.42,550.54 383.33,550.33 384.06,548.49 385.43,545.65" fill="none" stroke="#a6a6a6" stroke-width="0.56"/><polyline points="377.4,648.54 375.82,645.86 374.87,642.94 374.09,640.98 372.94,639.93" fill="none" stroke="#a6a6a6" stroke-width="0.59"/><polyline points="352.98,565.05 355.09,564.8 356.18,561.91" fill="none" stroke="#b2b2b2" stroke-width="0.69"/><polyline points="381.06,569.2 382.09,567.25 384.83,566.12" fill="none" stroke="#a6a6a6" stroke-width="0.64"/><polyline points="299.99,598.33 298.37,598.83 296.96,600.54" fill="none" stroke="#9a9a9a" stroke-width="0.57"/><polyline points="353.67,598.12 353.13,600.84 355.15,602.34 356.72,603.4 357.84,605.46" fill="none" stroke="#8e8e8e" stroke-width="0.53"/><polyline points="243.52,562.79 242.42,560.24 240.24,558.06" fill="none" stroke="#8e8e8e" stroke-width="0.72"/><polyline points="291.56,608.84 290.47,611.39 291.04,613.17 293.6,614.86" fill="none" stroke="#b2b2b2" stroke-width="0.49"/><polyline points="317.36,630.44 316.05,627.56 316.63,625.97 317.47,623.01 319.36,621.98" fill="none" stroke="#8e8e8e" stroke-width="0.65"/><polyline points="350.82,631.05 349.31,631.41 348.06,630.45 347.08,628.19" fill="none" stroke="#9a9a9a" stroke-width="0.64"/><polyline points="327.65,605.69 328.13,608.56 329.37,609.78" fill="none" stroke="#a6a6a6" stroke-width="0.75"/><polyline points="259.35,538.56 257.55,535.99 257.25,534.18 256.84,532.42 254.57,532.04" fill="none" stroke="#a6a6a6" stroke-width="0.5"/><polyline points="283.25,568.43 282.22,565.41 279.53,564.2 278.37,562.73 276.04,560.81" fill="none" stroke="#8e8e8e" stroke-width="0.49"/><polyline points="310.83,603.74 313.18,602.62 315.8,601.39 317.21,599.89" fill="none" stroke="#b2b2b2" stroke-width="0.48"/><polyline points="373.63,625.55 374.83,622.76 377.99,622.73" fill="none" stroke="#9a9a9a" stroke-width="0.53"/><polyline points="351.12,526.77 348.7,527.05 346.69,525.87" fill="none" stroke="#a6a6a6" stroke-width="0.52"/><polyline points="373.84,578.93 376.64,578.44 377.53,576.93 379.01,574.63 381.63,574.15" fill="none" stroke="#8e8e8e" stroke-width="0.62"/><polyline points="346.68,620.44 344.94,622.56 342.9,623.81 340.54,623.15 338.43,623.53" fill="none" stroke="#b2b2b2" stroke-width="0.54"/><polyline points="263.28,593.54 264.59,595.57 265.95,597.7 269.07,597.3" fill="none" stroke="#8e8e8e" stroke-width="0.61"/><polyline points="392.39,540.19 394.56,539.12 397.02,537.2" fill="none" stroke="#8e8e8e" stroke-width="0.53"/><polyline points="313.82,540.82 312.24,541.41 310.92,542.22 309.75,544.65" fill="none" stroke="#a6a6a6" stroke-width="0.46"/><polyline points="265.47,526.29 265.81,528.82 268.23,530.11 270.4,529.16 271.37,527.6" fill="none" stroke="#8e8e8e" stroke-width="0.46"/><polyline points="338.14,628.94 335.57,628.89 333.32,628.07 332.38,625.71 333.25,624.03" fill="none" stroke="#9a9a9a" stroke-width="0.72"/><polyline points="289.88,564.55 291.68,564.88 293.81,562.76" fill="none" stroke="#b2b2b2" stroke-width="0.67"/><polyline points="281.3,537.04 282.86,534.85 282.61,532.29 283.58,530.94" fill="none" stroke="#9a9a9a" stroke-width="0.72"/><polyline points="389.19,539.36 386.52,539.25 385.29,540.3 385.41,541.86" fill="none" stroke="#8e8e8e" stroke-width="0.49"/><polyline points="269.89,550.53 271.55,550.57 273.15,547.89 274.37,545.37" fill="none" stroke="#9a9a9a" stroke-width="0.57"/><polyline points="306.7,569.55 309.37,569.95 310.38,571.45 312.16,573.56" fill="none" stroke="#8e8e8e" stroke-width="0.73"/><polyline points="333.86,536.76 336.54,535.75 339.48,536.14 341.46,537.07" fill="none" stroke="#b2b2b2" stroke-width="0.6"/><polyline points="391.36,626.37 389.68,628.63 387.53,629.02" fill="none" stroke="#9a9a9a" stroke-width="0.71"/><polyline points="347.55,621.63 346.51,620.14 346.72,618.14 344.46,616.16" fill="none" stroke="#a6a6a6" stroke-width="0.52"/><polyline points="385.58,608.86 385,610.57 386.51,612.41 387.7,613.84 389.87,613.76" fill="none" stroke="#a6a6a6" stroke-width="0.48"/><polyline points="258.25,554.71 257.99,556.53 258.26,558.17 260.35,560.38 261.76,562.28" fill="none" stroke="#a6a6a6" stroke-width="0.64"/><polyline points="365.01,534.42 362.09,533.38 358.95,533.17" fill="none" stroke="#8e8e8e" stroke-width="0.61"/><polyline points="332.6,579.01 330.08,578.94 328.18,579.51 325.73,579.32" fill="none" stroke="#9a9a9a" stroke-width="0.65"/><polyline points="355.61,528.19 354.16,527.17 353.43,525.14 355.02,522.86 353.58,520.03" fill="none" stroke="#9a9a9a" stroke-width="0.47"/><polyline points="379.62,579 379.07,580.58 376.38,582" fill="none" stroke="#b2b2b2" stroke-width="0.74"/><polyline points="366.1,600.98 367.57,601.83 367.95,603.9 369.74,605.03 371.85,604.37" fill="none" stroke="#9a9a9a" stroke-width="0.64"/><polyline points="345.6,570.74 347.98,569.37 348.67,567.82" fill="none" stroke="#9a9a9a" stroke-width="0.69"/><polyline points="336.92,570.13 335.24,572.23 335.38,574.2 337.37,576.59 339.03,578.61" fill="none" stroke="#b2b2b2" stroke-width="0.71"/><polyline points="247.81,532.47 249.13,533.31 251.1,533.12 253.75,534.62" fill="none" stroke="#b2b2b2" stroke-width="0.62"/><polyline points="337.85,571.9 335.83,573.06 335.33,576" fill="none" stroke="#a6a6a6" stroke-width="0.58"/><polyline points="366.91,630.55 366.79,628.62 368.13,626.97 370.89,625.38" fill="none" stroke="#9a9a9a" stroke-width="0.54"/><polyline points="357.32,629.06 358.43,630.3 358.15,631.91 359.96,633.57 361.99,635.3" fill="none" stroke="#9a9a9a" stroke-width="0.7"/><polyline points="243.21,563.94 243.23,561.92 244.62,559.63 244.66,557.89 243.81,555.29" fill="none" stroke="#9a9a9a" stroke-width="0.72"/><polyline points="290.88,580.45 290.91,578.21 292.28,576.72 292.94,574.64 295.89,573.98" fill="none" stroke="#b2b2b2" stroke-width="0.48"/><polyline points="367.9,527.84 366.68,526.48 365.13,524.08 363.78,521.49 363.21,519.78" fill="none" stroke="#8e8e8e" stroke-width="0.71"/><polyline points="284.64,527.61 283.13,528.93 283.99,531.73 285.14,533.94 287.12,535.35" fill="none" stroke="#9a9a9a" stroke-width="0.47"/><polyline points="353.98,638.26 355.02,639.57 354.82,641.78 353.51,643.7 351.43,643.69" fill="none" stroke="#8e8e8e" stroke-width="0.57"/><polyline points="293.22,647 291.8,644.5 289.25,644.43 287.89,646.86" fill="none" stroke="#9a9a9a" stroke-width="0.71"/><polyline points="364.46,630.03 366.69,629.18 369.53,629.58 371.74,629.48 373.47,627.32" fill="none" stroke="#8e8e8e" stroke-width="0.66"/><polyline points="290.64,573.93 290.23,572.39 289.11,571.11 288.1,568.48" fill="none" stroke="#b2b2b2" stroke-width="0.72"/><polyline points="356.43,526.97 354.88,527.96 353.34,529.92" fill="none" stroke="#8e8e8e" stroke-width="0.63"/><polyline points="275.89,548.15 273.03,549.32 269.94,549.59" fill="none" stroke="#8e8e8e" stroke-width="0.71"/><polyline points="315.58,575.61 318.67,575.1 320.5,574.71 321.37,571.73 323.19,570.58" fill="none" stroke="#9a9a9a" stroke-width="0.69"/><polyline points="250.62,641.44 252.79,642.1 254.89,641.42 256.73,642.64" fill="none" stroke="#9a9a9a" stroke-width="0.49"/><polyline points="380.01,627.02 379.19,628.79 378.32,630.32 376.93,630.91 374.19,629.85" fill="none" stroke="#b2b2b2" stroke-width="0.47"/><polyline points="282.88,615.23 283.66,616.67 283.42,619.08 283.24,620.6" fill="none" stroke="#b2b2b2" stroke-width="0.58"/><polyline points="381.33,536.28 380.03,534.5 378.16,532.01" fill="none" stroke="#9a9a9a" stroke-width="0.54"/><polyline points="303.51,595.02 305.37,596.03 306.34,597.39 308.1,598.85 307.4,601.68" fill="none" stroke="#8e8e8e" stroke-width="0.45"/><polyline points="299.2,614.4 301.58,615.91 302.02,618.81 300.91,621.63 302.05,623.93" fill="none" stroke="#9a9a9a" stroke-width="0.74"/><polyline points="356.7,594.91 359.4,594.44 361.99,592.73" fill="none" stroke="#8e8e8e" stroke-width="0.67"/><polyline points="292.28,629.15 293.39,630.47 294.07,632.14" fill="none" stroke="#b2b2b2" stroke-width="0.57"/><polyline points="369.18,599.6 371.88,597.93 374,596.08" fill="none" stroke="#9a9a9a" stroke-width="0.73"/><polyline points="306.79,589.36 307.06,587.22 306.45,585.11" fill="none" stroke="#a6a6a6" stroke-width="0.67"/><polyline points="335.11,564.89 336.6,562.84 335.56,561.06" fill="none" stroke="#9a9a9a" stroke-width="0.54"/><polyline points="308.96,595.12 307.8,597.78 306.69,599.16 303.76,599.93" fill="none" stroke="#b2b2b2" stroke-width="0.56"/><polyline points="317.96,542.69 320.19,541.15 322.41,542.21 324.43,540.53 326.16,540.48" fill="none" stroke="#8e8e8e" stroke-width="0.62"/><polyline points="347.9,566.34 349.5,563.81 350.69,561.34 350.26,558.91" fill="none" stroke="#a6a6a6" stroke-width="0.62"/><polyline points="282.04,639.56 283.71,639.89 284.83,641.53 284.17,643.32" fill="none" stroke="#9a9a9a" stroke-width="0.7"/><polyline points="270.04,593.94 272.79,594.63 273.71,597.7" fill="none" stroke="#b2b2b2" stroke-width="0.54"/><polyline points="343.96,617.9 341.39,619 340.65,621.07 342.33,622.78 344.5,622.52" fill="none" stroke="#9a9a9a" stroke-width="0.61"/><polyline points="281.93,596.49 279.39,597.48 277.31,596.8 275.72,596.29 272.7,596.47" fill="none" stroke="#8e8e8e" stroke-width="0.68"/><polyline points="315.74,650.32 316.48,648.21 317.92,645.53 319.18,643.5 320.35,640.7" fill="none" stroke="#9a9a9a" stroke-width="0.72"/><polyline points="286.86,602.57 284.13,603.08 282.14,604.6 282.33,606.3" fill="none" stroke="#8e8e8e" stroke-width="0.52"/><polyline points="374.68,647.54 372.78,647.71 370.93,648.85" fill="none" stroke="#b2b2b2" stroke-width="0.71"/><polyline points="393.89,617.03 396.1,617.19 397.4,618.54 397.83,620.96" fill="none" stroke="#a6a6a6" stroke-width="0.48"/><polyline points="362.4,540.42 361.3,541.99 361.04,544.03 363.45,545.85" fill="none" stroke="#8e8e8e" stroke-width="0.49"/><polyline points="347.16,553.93 345.21,554.45 342.23,555.26 340.76,553.48" fill="none" stroke="#b2b2b2" stroke-width="0.51"/><polyline points="372.54,612.2 373.34,614.14 374.13,615.75 372.72,618.62" fill="none" stroke="#b2b2b2" stroke-width="0.61"/><polyline points="277.75,644.62 279.01,642.19 279.09,639.16 281.24,637.51 281.34,634.83" fill="none" stroke="#8e8e8e" stroke-width="0.57"/><polyline points="267.58,633.53 269.39,633.58 271.55,632.08 273.68,632.28 276.34,633.67" fill="none" stroke="#b2b2b2" stroke-width="0.74"/><polyline points="378.09,547.59 377.79,549.21 375.6,549.72" fill="none" stroke="#a6a6a6" stroke-width="0.61"/><polyline points="248.7,600.48 248.62,602.95 250.84,605.23 252.64,605.32" fill="none" stroke="#a6a6a6" stroke-width="0.51"/><polyline points="378.33,649.45 379.21,651.79 382.22,651.84 383.04,650.45" fill="none" stroke="#9a9a9a" stroke-width="0.55"/><polyline points="315.39,528.83 313.85,530.65 312.09,530.27 310.97,528.89 310.18,527.16" fill="none" stroke="#8e8e8e" stroke-width="0.61"/><polyline points="280.79,615.17 280.41,613.34 280.38,610.99 278.11,609.91" fill="none" stroke="#a6a6a6" stroke-width="0.62"/><polyline points="374.65,547.52 375.65,550.21 376.58,552.78" fill="none" stroke="#a6a6a6" stroke-width="0.47"/><polyline points="379.89,596.59 378.25,597.21 377.17,598.35 376.38,600.78 375.66,602.59" fill="none" stroke="#8e8e8e" stroke-width="0.48"/><polyline points="366.69,546.46 366.63,549.08 366.06,551.28" fill="none" stroke="#9a9a9a" stroke-width="0.57"/><polyline points="297.26,552.1 298.58,549.65 299.74,548.37" fill="none" stroke="#8e8e8e" stroke-width="0.61"/><polyline points="391.81,525.22 391.5,527.37 392.25,529.46 393.77,529.79 394.23,532.55" fill="none" stroke="#b2b2b2" stroke-width="0.54"/><polyline points="259.89,632.75 258.05,631.68 254.91,631.26" fill="none" stroke="#b2b2b2" stroke-width="0.46"/><polyline points="303.14,606.8 305.78,608.34 306.14,611.39 308.45,613.25" fill="none" stroke="#b2b2b2" stroke-width="0.56"/><polyline points="360.72,551.98 357.95,552.71 355.86,553.35" fill="none" stroke="#8e8e8e" stroke-width="0.68"/><polyline points="313.72,586.67 313.9,584.83 313.6,583.23" fill="none" stroke="#9a9a9a" stroke-width="0.56"/><polyline points="283.58,527.14 284.54,529.42 284.61,531.28 285.95,532.16" fill="none" stroke="#9a9a9a" stroke-width="0.49"/><polyline points="278.46,630.72 278.48,632.99 276.88,634.42 276.11,637.31" fill="none" stroke="#a6a6a6" stroke-width="0.54"/><polyline points="334.32,586.44 334.58,587.97 335.85,589.79 336.69,591.3 336.72,593.25" fill="none" stroke="#8e8e8e" stroke-width="0.65"/><polyline points="264.2,550.65 264.08,552.37 263.85,554.47 265.44,555.88 266.39,557.34" fill="none" stroke="#a6a6a6" stroke-width="0.67"/><polyline points="315.29,526.23 314.23,523.81 315.28,522.27 317.56,520.95 320.06,522.56" fill="none" stroke="#b2b2b2" stroke-width="0.68"/><polyline points="281.31,625.7 283.36,625.06 285.13,623.52 285.7,621.85" fill="none" stroke="#8e8e8e" stroke-width="0.51"/><polyline points="358.73,569.06 356.78,568.33 355.05,568.03 352.54,567.06 350.18,565.78" fill="none" stroke="#a6a6a6" stroke-width="0.72"/><polyline points="260.12,639.6 260,637.26 260.36,634.99 259.87,633.13" fill="none" stroke="#a6a6a6" stroke-width="0.46"/><polyline points="291.04,571.91 288.6,572.78 286.91,573.99 285.45,573.49 284.18,572.11" fill="none" stroke="#a6a6a6" stroke-width="0.64"/><polyline points="336.29,576.66 336.28,578.95 336.64,582.07 337.74,584.72" fill="none" stroke="#9a9a9a" stroke-width="0.54"/><polyline points="296.65,648.09 298.45,648.83 300.74,648.16" fill="none" stroke="#8e8e8e" stroke-width="0.45"/><polyline points="325.06,631.94 326,629.68 328.92,628.5" fill="none" stroke="#9a9a9a" stroke-width="0.53"/><polyline points="257.61,527.24 259.56,525.42 262.27,526.45" fill="none" stroke="#b2b2b2" stroke-width="0.55"/><polyline points="346.71,626.39 347.36,629.08 347.66,630.96 349.08,632.45" fill="none" stroke="#b2b2b2" stroke-width="0.73"/><polyline points="354.05,635.54 355.38,637.07 355.08,639.42" fill="none" stroke="#8e8e8e" stroke-width="0.46"/><polyline points="336.4,576.88 334.6,578.41 332.44,578.4 330.77,577.43" fill="none" stroke="#9a9a9a" stroke-width="0.51"/><polyline points="372.09,550.65 370.21,549.47 368.96,547.24" fill="none" stroke="#9a9a9a" stroke-width="0.69"/><polyline points="260.86,572.37 260.41,569.25 259.86,566.63" fill="none" stroke="#b2b2b2" stroke-width="0.53"/><polyline points="283.06,556.6 284.62,553.82 283.15,551.54 281.58,551.41" fill="none" stroke="#9a9a9a" stroke-width="0.56"/><polyline points="323.76,625.97 320.86,625.38 319.52,626.28" fill="none" stroke="#8e8e8e" stroke-width="0.69"/><polyline points="369.45,560.61 368.37,561.97 366.37,563.71 366.03,565.66 364.07,566.78" fill="none" stroke="#a6a6a6" stroke-width="0.62"/><polyline points="378.27,635.92 377.26,637.07 375.91,638.18" fill="none" stroke="#8e8e8e" stroke-width="0.53"/><polyline points="276.44,585.65 275.09,586.79 275.95,589.44 275.81,590.94" fill="none" stroke="#9a9a9a" stroke-width="0.6"/><polyline points="393.57,550.32 392.78,548.38 392.19,546 390.15,544.47" fill="none" stroke="#9a9a9a" stroke-width="0.53"/><polyline points="384.7,633.91 387.77,634.33 389.48,631.92 391.88,632.2" fill="none" stroke="#a6a6a6" stroke-width="0.53"/><polyline points="245.45,594.93 246.77,593.63 248.21,594.11 250.88,595.2" fill="none" stroke="#8e8e8e" stroke-width="0.57"/><polyline points="364.03,629.25 366.15,628.32 368.17,629.18" fill="none" stroke="#a6a6a6" stroke-width="0.45"/><polyline points="263.23,565.64 263.84,562.83 263.56,560.26 262.68,558.49 263.69,556.71" fill="none" stroke="#a6a6a6" stroke-width="0.53"/><polyline points="274.31,547.53 276.75,548.58 278.32,547.97" fill="none" stroke="#b2b2b2" stroke-width="0.56"/><polyline points="269.55,527.58 268.22,529.13 265.99,531.31" fill="none" stroke="#b2b2b2" stroke-width="0.46"/><polyline points="268.37,533.19 268.72,530.99 270.51,530.43 272.85,529.09 273.39,527.2" fill="none" stroke="#8e8e8e" stroke-width="0.73"/><polyline points="290.84,547.95 291.28,550.49 292.44,552.81" fill="none" stroke="#b2b2b2" stroke-width="0.63"/><polyline points="294.25,580.26 293.73,577.85 291.08,576.62 289.64,574.86" fill="none" stroke="#8e8e8e" stroke-width="0.58"/><polyline points="300.34,553.83 297.6,555.2 295.51,556.08 294.55,557.33 295.38,559.21" fill="none" stroke="#8e8e8e" stroke-width="0.55"/><polyline points="280.76,603.4 279.21,604.95 277.51,604.78 276.82,602.55" fill="none" stroke="#b2b2b2" stroke-width="0.51"/><polyline points="382.42,624.49 382.33,626.86 380.82,627.41" fill="none" stroke="#a6a6a6" stroke-width="0.66"/><polyline points="279.96,626.66 279.7,628.88 279.42,632 280.28,633.44 282.03,635.61" fill="none" stroke="#b2b2b2" stroke-width="0.47"/><polyline points="317.39,531.86 319.14,531.68 320.66,530.98" fill="none" stroke="#a6a6a6" stroke-width="0.73"/><polyline points="387.19,552.51 388.27,554.38 387.48,556.81 385.92,557.27" fill="none" stroke="#b2b2b2" stroke-width="0.61"/><polyline points="289.96,645.58 292.14,646.06 293.35,644.37 293.81,641.84 292.95,639.47" fill="none" stroke="#b2b2b2" stroke-width="0.5"/><polyline points="261.29,612.35 259.86,613.66 258.74,615.96" fill="none" stroke="#9a9a9a" stroke-width="0.51"/><polyline points="393.21,612.09 395.23,610.14 395.37,608.52 394.38,606.62" fill="none" stroke="#8e8e8e" stroke-width="0.53"/><polyline points="262.16,540.4 263.05,542.08 263.62,543.98 262.5,545.62 259.87,545.93" fill="none" stroke="#8e8e8e" stroke-width="0.52"/><polyline points="314.47,549.88 313.2,550.87 311.91,552.37" fill="none" stroke="#8e8e8e" stroke-width="0.65"/><polyline points="282.54,608.31 284.43,607.19 284.9,604.21 283.95,602.2 281.83,600.23" fill="none" stroke="#a6a6a6" stroke-width="0.61"/><polyline points="256.93,637.94 258.21,637.06 260.69,636.04 262.73,638.08" fill="none" stroke="#a6a6a6" stroke-width="0.65"/><polyline points="265.5,533.95 267.63,535.51 269.63,537.94 268.23,540.8 267.64,543.65" fill="none" stroke="#a6a6a6" stroke-width="0.75"/><polyline points="251.93,583.13 249.75,582.17 247.84,580.81 247.47,578.46 244.89,577.24" fill="none" stroke="#a6a6a6" stroke-width="0.5"/><polyline points="340.57,603.42 341.63,600.46 342.45,597.57 342.66,595.82" fill="none" stroke="#9a9a9a" stroke-width="0.71"/><polyline points="385.56,637.85 388.01,637.71 389.33,640.2 392.51,640.55" fill="none" stroke="#a6a6a6" stroke-width="0.47"/><polyline points="278,608.43 275.44,609.62 274.33,611.52 275.29,613.12" fill="none" stroke="#8e8e8e" stroke-width="0.5"/><polyline points="257.71,542.17 258.04,539.04 258.4,536.88 259.64,534.19 261.85,534.13" fill="none" stroke="#a6a6a6" stroke-width="0.52"/><polyline points="363.12,538.62 361.23,537.14 359.73,537.89 357.88,540.44" fill="none" stroke="#a6a6a6" stroke-width="0.57"/><polyline points="287.38,551.89 286.7,549.95 285.78,547.5 287.45,544.88 289.02,543.13" fill="none" stroke="#a6a6a6" stroke-width="0.57"/><polyline points="287.36,618.1 289.67,619.77 292.11,620.66 293.81,620.57" fill="none" stroke="#9a9a9a" stroke-width="0.7"/><polyline points="251.2,591.42 249.91,589.1 249.92,587.55 248.9,584.6" fill="none" stroke="#8e8e8e" stroke-width="0.67"/><polyline points="298.64,599.67 300.62,602.09 302.75,603.43 304.71,603.92 306.89,605.14" fill="none" stroke="#9a9a9a" stroke-width="0.51"/><polyline points="259.75,620.52 259.98,623.01 258.11,625.49" fill="none" stroke="#9a9a9a" stroke-width="0.57"/><polyline points="285.29,610.6 285.78,612.6 287.59,614.86" fill="none" stroke="#9a9a9a" stroke-width="0.64"/><polyline points="250.44,621.16 251.77,620.05 253.04,617.65 254.9,615.74 255.09,613.32" fill="none" stroke="#8e8e8e" stroke-width="0.58"/><polyline points="345.24,648.94 345.67,647.36 346.79,646.03" fill="none" stroke="#8e8e8e" stroke-width="0.65"/><polyline points="363.74,580.96 363.56,579.27 365.26,577.26 366.49,576.09 366.28,574.08" fill="none" stroke="#a6a6a6" stroke-width="0.73"/><polyline points="273.94,577.15 272.31,578.26 270.25,580.47" fill="none" stroke="#8e8e8e" stroke-width="0.51"/><polyline points="348.78,587.2 346.62,588.04 343.76,588.77 341.87,587.96" fill="none" stroke="#a6a6a6" stroke-width="0.55"/><polyline points="266.74,568.94 265.54,567.01 264.77,564.86 265.3,563.19 266.86,561.67" fill="none" stroke="#a6a6a6" stroke-width="0.66"/><polyline points="277.35,557.77 274.48,556.7 273.57,555 271.91,554.16 271.7,552.56" fill="none" stroke="#b2b2b2" stroke-width="0.74"/><polyline points="380.25,582.32 378.53,584.21 376.37,585.14" fill="none" stroke="#b2b2b2" stroke-width="0.46"/><polyline points="348.11,596.49 345.95,595.83 345.65,593.74 344.54,592.18" fill="none" stroke="#b2b2b2" stroke-width="0.52"/><polyline points="272.13,592.31 270.32,592.53 268.37,595.06" fill="none" stroke="#9a9a9a" stroke-width="0.66"/><polyline points="297.2,644.82 297.38,641.91 298.97,641.33 300.35,640.19" fill="none" stroke="#9a9a9a" stroke-width="0.65"/><polyline points="285.4,595.57 286.29,597.34 288.28,598.62" fill="none" stroke="#8e8e8e" stroke-width="0.5"/><polyline points="372.63,632.67 372.34,630.91 373.49,628.47 375.06,626.42 375.47,624.23" fill="none" stroke="#9a9a9a" stroke-width="0.65"/><polyline points="324.37,585.5 324.84,582.43 325.24,580 324.86,578.15" fill="none" stroke="#a6a6a6" stroke-width="0.62"/><polyline points="382.83,618.54 384.27,620.53 387.45,620.63" fill="none" stroke="#9a9a9a" stroke-width="0.56"/><polyline points="263.24,644.59 260.78,644.82 259.49,642.49" fill="none" stroke="#a6a6a6" stroke-width="0.58"/><polyline points="345.21,535.66 344.58,533.94 344.89,531.75 345.07,530.13 345.26,527.68" fill="none" stroke="#a6a6a6" stroke-width="0.49"/><polyline points="287.49,567.16 289.82,565.08 292.65,565.93" fill="none" stroke="#a6a6a6" stroke-width="0.63"/><polyline points="362.87,650.56 361.08,650.55 359.68,649.48 359.8,647.79 359,645.95" fill="none" stroke="#a6a6a6" stroke-width="0.57"/><polyline points="264.5,548.32 263.78,545.78 261.75,545.15 261.42,543.32 260.64,541.59" fill="none" stroke="#9a9a9a" stroke-width="0.55"/><polyline points="294.57,526.69 292.83,525.46 291.85,523.29 290.02,521.43" fill="none" stroke="#8e8e8e" stroke-width="0.5"/><polyline points="264.63,556.78 262.95,558.84 260.91,560.31 258.68,561.38" fill="none" stroke="#a6a6a6" stroke-width="0.51"/><polyline points="277.14,562.85 277.47,564.37 278.67,565.51 279.53,567.71 280.3,569.08" fill="none" stroke="#b2b2b2" stroke-width="0.56"/><polyline points="296.05,639.77 296.98,641.78 297.02,643.67 295.32,644.41" fill="none" stroke="#9a9a9a" stroke-width="0.62"/><polyline points="385.47,533.4 385.98,531.93 388.18,531.61" fill="none" stroke="#b2b2b2" stroke-width="0.49"/><polyline points="273.09,635.62 275.58,633.81 275.81,631.11 277.48,630.36" fill="none" stroke="#b2b2b2" stroke-width="0.66"/><polyline points="277.87,631.96 279.31,630.39 278.98,628.45 280.23,627.42 280.49,625.35" fill="none" stroke="#a6a6a6" stroke-width="0.49"/><polyline points="290.7,598.31 290.1,600.7 288.26,602.23 286.73,601.62 285.17,602.08" fill="none" stroke="#9a9a9a" stroke-width="0.74"/><polyline points="383.98,610.25 384.09,611.92 384.43,614.92 384.17,617" fill="none" stroke="#8e8e8e" stroke-width="0.59"/><polyline points="270.84,643.94 273.23,643.24 275.18,642.88" fill="none" stroke="#a6a6a6" stroke-width="0.5"/><polyline points="353.88,551.5 357.01,551.32 358.58,551.65" fill="none" stroke="#a6a6a6" stroke-width="0.5"/><polyline points="244.11,563.2 245.23,565.39 245.28,567.31 244.33,568.83" fill="none" stroke="#b2b2b2" stroke-width="0.72"/><polyline points="330.22,577.42 327.28,578.44 324.79,579.35 321.78,579.54" fill="none" stroke="#b2b2b2" stroke-width="0.59"/><polyline points="327.25,640.83 326.4,638.54 324.92,636.29 322.79,634.82 321.88,633.62" fill="none" stroke="#8e8e8e" stroke-width="0.62"/><polyline points="317.48,641.23 315.22,639.89 312.97,639.2 311.92,636.97" fill="none" stroke="#a6a6a6" stroke-width="0.48"/><polyline points="317.52,585.6 315.41,584.81 313.11,586.51" fill="none" stroke="#b2b2b2" stroke-width="0.62"/><polyline points="302.47,530.06 303.2,532.16 303.83,535.21 304.36,537.47 306.31,539.65" fill="none" stroke="#9a9a9a" stroke-width="0.73"/><polyline points="340.21,611.83 338.11,609.61 337.22,606.9 337.76,604.07" fill="none" stroke="#b2b2b2" stroke-width="0.49"/><polyline points="314.2,614.95 314.72,617.52 315.4,620.02" fill="none" stroke="#8e8e8e" stroke-width="0.73"/><polyline points="339.86,532.94 338.09,532.03 336.2,531.63" fill="none" stroke="#9a9a9a" stroke-width="0.75"/><polyline points="336.6,540.61 335.96,538.51 334.5,536.15" fill="none" stroke="#a6a6a6" stroke-width="0.62"/><polyline points="385.39,605.46 383.98,604.77 383.53,602.46 385.07,601.37" fill="none" stroke="#a6a6a6" stroke-width="0.66"/><polyline points="320.31,564.68 321.94,565.74 322.5,567.32" fill="none" stroke="#9a9a9a" stroke-width="0.73"/><polyline points="380.53,561.47 382.17,559.87 381.72,558.24 379.14,556.38 377.62,557.05" fill="none" stroke="#a6a6a6" stroke-width="0.59"/><polyline points="355.13,556.32 356.47,558.11 358.09,559.42 357.66,561.38 355.06,562.78" fill="none" stroke="#8e8e8e" stroke-width="0.51"/><polyline points="381.84,624.45 382.15,622.24 383.7,619.91" fill="none" stroke="#9a9a9a" stroke-width="0.63"/><polyline points="305.67,526.34 306.27,527.83 308.56,528.66" fill="none" stroke="#9a9a9a" stroke-width="0.69"/><polyline points="330.78,642.78 332.12,643.67 334.93,642.24 336.43,643.29 339.47,643.36" fill="none" stroke="#a6a6a6" stroke-width="0.45"/><polyline points="312.55,602.41 314.46,600.32 314.82,597.46 313.41,594.85" fill="none" stroke="#8e8e8e" stroke-width="0.46"/><polyline points="349.94,541.03 352.08,541.26 354.19,543.02 355.22,544.55" fill="none" stroke="#b2b2b2" stroke-width="0.71"/><polyline points="315.87,598.98 316.84,600.75 319.57,601.91 321.58,602.81 324.54,603.35" fill="none" stroke="#9a9a9a" stroke-width="0.46"/><polyline points="255.87,558.6 256.8,560.67 258.75,562.33 260.53,563.29 261.46,565.36" fill="none" stroke="#8e8e8e" stroke-width="0.64"/><polyline points="325.57,608 327.38,605.81 328.53,603.44 330.25,602.41 333.37,602.41" fill="none" stroke="#8e8e8e" stroke-width="0.58"/><polyline points="341.25,553.32 342.15,550.74 343.17,548.82 345.18,548.27 346.67,547.57" fill="none" stroke="#8e8e8e" stroke-width="0.52"/><polyline points="302.43,650.2 304.88,650.64 306.58,653.02 308.51,654.61" fill="none" stroke="#9a9a9a" stroke-width="0.67"/><polyline points="329.91,556.55 329.06,555 326.29,555.2 323.43,554.82 321.92,554.59" fill="none" stroke="#9a9a9a" stroke-width="0.61"/><polyline points="317.17,545.88 316.41,544.04 317.16,541.96 315.93,539.75" fill="none" stroke="#8e8e8e" stroke-width="0.59"/><polyline points="326.61,580.28 329.34,579.7 330.01,577.8 331.92,575.94" fill="none" stroke="#b2b2b2" stroke-width="0.56"/><polyline points="283.45,570.03 281.39,569.33 278.56,569.04" fill="none" stroke="#b2b2b2" stroke-width="0.51"/><polyline points="245.67,639.71 245.41,637.78 244.97,635.13" fill="none" stroke="#a6a6a6" stroke-width="0.65"/><polyline points="286.12,566.53 285.49,564.55 286.55,563.01 287.59,561.26" fill="none" stroke="#8e8e8e" stroke-width="0.73"/><polyline points="361.76,560.32 360.24,561.42 358.59,562.01 357.1,560.57" fill="none" stroke="#8e8e8e" stroke-width="0.72"/><polyline points="268.53,547.81 266.33,546.56 263.56,546.13" fill="none" stroke="#9a9a9a" stroke-width="0.71"/><polyline points="276.27,570.77 275.48,573.61 273.36,575.44 270.38,576.28 270.06,578.31" fill="none" stroke="#9a9a9a" stroke-width="0.68"/><polyline points="316.66,592.1 314.8,594.51 312.83,595.95" fill="none" stroke="#a6a6a6" stroke-width="0.65"/><polyline points="347.65,565.49 346.67,566.66 346.53,568.16 344.72,569.05" fill="none" stroke="#a6a6a6" stroke-width="0.45"/><polyline points="289.04,599.51 290.11,600.79 290.59,602.55" fill="none" stroke="#8e8e8e" stroke-width="0.66"/><polyline points="317.97,576.94 317.27,579.08 315.74,581.89 312.98,582.88 311.67,584.4" fill="none" stroke="#8e8e8e" stroke-width="0.46"/><polyline points="363.01,603.09 363.3,606.14 363.2,608.43" fill="none" stroke="#9a9a9a" stroke-width="0.67"/><polyline points="310.99,574.95 310.81,571.9 311.92,570.7 312.35,567.58 312.92,565.28" fill="none" stroke="#9a9a9a" stroke-width="0.46"/><polyline points="285.85,569.82 286.79,571.02 288.95,571.14 290.51,571.79 293.16,573.39" fill="none" stroke="#8e8e8e" stroke-width="0.63"/><polyline points="325,531.86 323.99,529 324.13,527.14" fill="none" stroke="#8e8e8e" stroke-width="0.65"/><polyline points="365.45,649.7 365.3,647.83 365.85,646.05 363.99,643.96 361.16,642.62" fill="none" stroke="#a6a6a6" stroke-width="0.74"/><polyline points="269.8,548.56 271.07,547.58 270.48,544.78" fill="none" stroke="#b2b2b2" stroke-width="0.69"/><polyline points="338.35,618.22 340.24,618.99 343.1,618.43 344.6,616.34 347.02,614.41" fill="none" stroke="#a6a6a6" stroke-width="0.71"/><polyline points="288.08,635.72 287.95,633.91 287.69,630.78 286.4,629.28" fill="none" stroke="#b2b2b2" stroke-width="0.65"/><polyline points="251.83,548.33 249.67,549.83 249.53,552.4 248.45,554.85" fill="none" stroke="#9a9a9a" stroke-width="0.6"/><polyline points="250.76,586.89 250.34,588.54 250.56,591.06 250.45,593.22 248.12,594.36" fill="none" stroke="#b2b2b2" stroke-width="0.51"/><polyline points="243.53,607.86 241.78,607.36 240.66,606.17 240.85,604.62 239.52,602.76" fill="none" stroke="#8e8e8e" stroke-width="0.64"/><polyline points="355.31,620.84 354.49,619.45 352.26,618.22" fill="none" stroke="#a6a6a6" stroke-width="0.52"/><polyline points="340.3,543.1 341.72,541.02 343.29,541.06" fill="none" stroke="#a6a6a6" stroke-width="0.52"/><polyline points="269.19,581.63 267.4,581.73 265.82,583.55" fill="none" stroke="#8e8e8e" stroke-width="0.57"/><polyline points="299.36,619.08 300.7,619.89 301.95,621.23" fill="none" stroke="#9a9a9a" stroke-width="0.73"/><polyline points="306.15,624.34 308.24,622.05 307.93,619.92 308.68,617.92" fill="none" stroke="#a6a6a6" stroke-width="0.72"/><polyline points="248.02,560.7 245.93,562.96 245.94,565.13" fill="none" stroke="#9a9a9a" stroke-width="0.68"/><polyline points="258.95,648.44 257.99,646.11 259.96,643.81 262.31,641.93 264.85,643.39" fill="none" stroke="#9a9a9a" stroke-width="0.74"/><polyline points="263.68,575.75 262.41,573.46 260.89,571.5" fill="none" stroke="#b2b2b2" stroke-width="0.55"/><polyline points="334.16,548.96 332.84,550.62 331.19,551.39" fill="none" stroke="#9a9a9a" stroke-width="0.51"/><polyline points="326.53,567.64 328.83,568.77 330.44,570.41" fill="none" stroke="#a6a6a6" stroke-width="0.47"/><polyline points="350.78,554.14 348.52,554.61 346.61,554.2 344.82,553.53 343.04,551.33" fill="none" stroke="#b2b2b2" stroke-width="0.72"/><polyline points="341.56,645.76 343.12,645.73 344.88,645.32 347.23,646.11 349.54,648.24" fill="none" stroke="#a6a6a6" stroke-width="0.56"/><polyline points="383.86,542.35 383.8,539.92 385.38,538.49 385.14,535.91" fill="none" stroke="#a6a6a6" stroke-width="0.59"/><polyline points="257.15,598.79 258.29,597.5 260.68,595.86" fill="none" stroke="#9a9a9a" stroke-width="0.73"/><polyline points="298.55,606.79 296.61,608.35 294.01,607.85 293.54,605.91" fill="none" stroke="#9a9a9a" stroke-width="0.64"/><polyline points="313.09,526.16 310.1,526.74 309.07,528.4 307.79,530.08" fill="none" stroke="#9a9a9a" stroke-width="0.65"/><polyline points="392.56,624.84 391.47,626.77 391.53,629.91 390.25,632.71" fill="none" stroke="#8e8e8e" stroke-width="0.71"/><polyline points="254.08,539.66 251.52,538.98 250.05,539.94 248.23,541.69 246,541.99" fill="none" stroke="#9a9a9a" stroke-width="0.54"/><polyline points="300.22,639.87 301.87,638.24 301.71,636.52" fill="none" stroke="#a6a6a6" stroke-width="0.62"/><polyline points="265.36,566.81 266.64,567.74 267.61,569.73" fill="none" stroke="#a6a6a6" stroke-width="0.48"/><polyline points="247.46,607.08 244.94,605.36 242.64,605.76" fill="none" stroke="#9a9a9a" stroke-width="0.73"/><polyline points="273.53,605.98 273.61,608.53 274.83,610.97" fill="none" stroke="#a6a6a6" stroke-width="0.69"/><polyline points="278.11,631.34 277.03,629.75 276.09,627.94 273.45,627.13 272.2,625.48" fill="none" stroke="#8e8e8e" stroke-width="0.71"/><polyline points="384.4,553.06 385.9,552.08 388.2,552.56 390,553.68 391.75,554.1" fill="none" stroke="#b2b2b2" stroke-width="0.49"/><polyline points="348.75,600.26 348.31,597.46 347.71,595.65 349.97,593.6 351.68,593.5" fill="none" stroke="#9a9a9a" stroke-width="0.56"/><polyline points="295.37,631.66 294.39,629.94 294.26,628.37 293.39,626.06 294.64,624.76" fill="none" stroke="#9a9a9a" stroke-width="0.63"/><polyline points="338.63,613.11 339.76,614.31 342.48,614.94 345.2,613.7 346.83,612.07" fill="none" stroke="#b2b2b2" stroke-width="0.69"/><polyline points="383.75,626.52 385.56,628.36 385.67,630.41 386.89,631.61" fill="none" stroke="#a6a6a6" stroke-width="0.47"/><polyline points="355.75,594.72 355.37,596.73 357.14,598.06 360.16,598.96" fill="none" stroke="#9a9a9a" stroke-width="0.64"/><polyline points="357,611.12 357.09,612.77 356.96,614.43 358.68,615.8" fill="none" stroke="#b2b2b2" stroke-width="0.54"/><polyline points="290.04,562.15 288.01,563.77 285.92,565.66" fill="none" stroke="#a6a6a6" stroke-width="0.5"/><polyline points="322.47,576.99 321.2,574.79 321.89,572.08 322.22,569.21 324.14,566.95" fill="none" stroke="#9a9a9a" stroke-width="0.48"/><polyline points="263.13,546.12 262.26,544.25 263.35,541.6 261.6,539.91 258.67,540.54" fill="none" stroke="#a6a6a6" stroke-width="0.55"/><polyline points="340.43,609 340.06,606.65 338.32,605.17" fill="none" stroke="#9a9a9a" stroke-width="0.47"/><polyline points="312.7,593.94 310.77,592.36 307.99,593.91 305.94,593.28 303.42,594.73" fill="none" stroke="#8e8e8e" stroke-width="0.5"/><polyline points="356.87,628.03 358.99,627.94 361.96,627.28" fill="none" stroke="#a6a6a6" stroke-width="0.72"/><polyline points="313.91,540.89 313.54,543.81 313.08,545.85" fill="none" stroke="#8e8e8e" stroke-width="0.46"/><polyline points="360.08,624.98 358.21,622.44 357.94,620.7 357.7,618.25 359.66,616.8" fill="none" stroke="#8e8e8e" stroke-width="0.65"/><polyline points="275.96,569.06 277.95,569.46 279.91,567.9" fill="none" stroke="#8e8e8e" stroke-width="0.55"/><polyline points="269.85,567.86 268.55,570.44 266.72,570.52" fill="none" stroke="#8e8e8e" stroke-width="0.54"/><polyline points="358.83,617.79 358.33,619.36 360.24,621.86 359.63,623.35" fill="none" stroke="#9a9a9a" stroke-width="0.63"/><polyline points="387.79,643.18 390.47,644.18 392.19,643.12 394.44,641.25" fill="none" stroke="#9a9a9a" stroke-width="0.51"/><polyline points="378.45,634.02 375.68,635.28 373.6,634.62" fill="none" stroke="#a6a6a6" stroke-width="0.63"/><polyline points="366.54,533.8 366.08,535.99 365.51,538.75 366,540.65 368.11,542.88" fill="none" stroke="#9a9a9a" stroke-width="0.56"/><polyline points="311.21,530.53 308.92,531.68 309.14,534.46 310.63,535.64" fill="none" stroke="#8e8e8e" stroke-width="0.63"/><polyline points="353.5,528.4 355.03,528.57 356.91,526.44 358.68,524.91 359.97,522.45" fill="none" stroke="#8e8e8e" stroke-width="0.69"/><polyline points="368.99,637.61 367.15,635.08 368.08,632.31 369.21,629.33 372.06,628.76" fill="none" stroke="#a6a6a6" stroke-width="0.63"/><polyline points="261.99,525.72 258.97,525.85 257.56,524.92 255.76,522.66 254.24,521.27" fill="none" stroke="#8e8e8e" stroke-width="0.71"/><polyline points="360.1,559.52 362.92,560.77 365.09,562.35 367.18,561.5 368.16,560.01" fill="none" stroke="#8e8e8e" stroke-width="0.73"/><polyline points="260.69,581.04 260.42,582.83 260.72,585.18 260.83,586.91 261.6,588.24" fill="none" stroke="#b2b2b2" stroke-width="0.66"/><polyline points="271.94,640.04 269.11,641.49 268.18,642.71 268.79,644.47 268.15,647.33" fill="none" stroke="#a6a6a6" stroke-width="0.65"/><polyline points="256.97,539.74 258.8,541.06 261.83,541.34 263.48,541.82" fill="none" stroke="#9a9a9a" stroke-width="0.68"/><polyline points="319.32,559.04 317.1,557.39 315.22,557.84 314.03,556.49 313.8,554.81" fill="none" stroke="#a6a6a6" stroke-width="0.73"/><polyline points="369.82,631.89 372.14,629.98 374.73,630.94 376.38,629.53 378.55,627.79" fill="none" stroke="#a6a6a6" stroke-width="0.72"/><polyline points="392.59,581.2 390.82,579.82 387.89,581.04 385.81,580.55 384.2,579.06" fill="none" stroke="#b2b2b2" stroke-width="0.49"/><polyline points="309.11,628.54 306.96,628.18 305.26,629" fill="none" stroke="#b2b2b2" stroke-width="0.74"/><polyline points="366.63,599.37 367.49,601.93 369.29,602.84" fill="none" stroke="#b2b2b2" stroke-width="0.56"/><polyline points="293.43,533.81 294.15,531.48 292.54,529.84" fill="none" stroke="#8e8e8e" stroke-width="0.69"/><polyline points="387.86,627.35 389.94,628.78 391.13,630.11 390.95,632.23" fill="none" stroke="#a6a6a6" stroke-width="0.45"/><polyline points="368.22,603.64 369.29,602.5 370.85,601.49 373.24,602.45 374.78,604.34" fill="none" stroke="#9a9a9a" stroke-width="0.47"/><polyline points="328.53,564.72 330.83,566.25 331.48,567.78" fill="none" stroke="#8e8e8e" stroke-width="0.56"/><polyline points="248.76,603.25 248.13,601.48 246.12,601.35 245.06,599.66 243.74,597.67" fill="none" stroke="#9a9a9a" stroke-width="0.66"/><polyline points="296.26,576.3 297.75,577.16 299.89,577.31 301.73,576.74 302.59,573.96" fill="none" stroke="#b2b2b2" stroke-width="0.7"/><polyline points="258.32,580.11 256.84,578.26 253.85,577.21 252.23,577.1" fill="none" stroke="#a6a6a6" stroke-width="0.53"/><polyline points="275,562.98 274.8,559.83 274.95,557.98 276.65,555.86" fill="none" stroke="#9a9a9a" stroke-width="0.48"/><polyline points="330.35,534.34 332.96,533.6 334.43,533.29 335.84,534.06 336.27,536.92" fill="none" stroke="#8e8e8e" stroke-width="0.71"/><polyline points="317.19,581.43 316.64,584.45 315.67,585.84 313.23,586.97 311.35,589.07" fill="none" stroke="#b2b2b2" stroke-width="0.57"/><polyline points="321.83,559.59 322.19,562.38 322.98,564.02 326.1,563.79" fill="none" stroke="#8e8e8e" stroke-width="0.47"/><polyline points="266.65,531.01 263.77,529.65 262.13,529.82 261.24,532.63 262.46,534.8" fill="none" stroke="#8e8e8e" stroke-width="0.56"/><polyline points="386.57,564.39 387.28,562.22 387.21,559.67 387.22,557.75 385.63,556.47" fill="none" stroke="#b2b2b2" stroke-width="0.52"/><polyline points="265.55,646.85 266.99,646.19 269.23,644.12" fill="none" stroke="#a6a6a6" stroke-width="0.5"/><polyline points="345.69,525.11 347.17,525.67 347.43,527.56" fill="none" stroke="#b2b2b2" stroke-width="0.48"/><polyline points="323.13,531.88 321.42,534.22 321.38,536.39 320.38,537.52 318.57,539.11" fill="none" stroke="#8e8e8e" stroke-width="0.73"/><polyline points="347.5,553.01 346.57,554.64 344.22,554.36 341.35,555.1" fill="none" stroke="#a6a6a6" stroke-width="0.47"/><polyline points="337.86,583.19 335.59,581.67 335.74,579.82" fill="none" stroke="#a6a6a6" stroke-width="0.52"/><polyline points="313.46,568.51 314.71,565.65 313.35,564.2 311.52,564.82" fill="none" stroke="#b2b2b2" stroke-width="0.63"/><polyline points="310.51,575.26 309.12,572.99 309.55,570.7 312.24,569.58 314.89,570.69" fill="none" stroke="#b2b2b2" stroke-width="0.55"/><polyline points="272.47,580.98 271.24,579.41 269.05,577.4 269.87,574.74" fill="none" stroke="#9a9a9a" stroke-width="0.54"/><polyline points="325.76,649.46 327.11,648.35 328.51,647.55 329.84,646.6 331.83,644.51" fill="none" stroke="#a6a6a6" stroke-width="0.71"/><polyline points="311.41,580.46 313.33,581.54 315.48,580.79" fill="none" stroke="#a6a6a6" stroke-width="0.49"/><polyline points="319.22,607.34 319.48,609.87 317.77,611.61" fill="none" stroke="#b2b2b2" stroke-width="0.7"/><polyline points="381.27,602.42 382.85,602.37 384.48,600.84 387.58,601.07 389.44,601.63" fill="none" stroke="#a6a6a6" stroke-width="0.52"/><polyline points="294.27,631.42 293.03,632.32 293.58,635.14 292.45,636.49" fill="none" stroke="#a6a6a6" stroke-width="0.56"/><polyline points="294.11,548.25 294.77,550.91 294.96,552.85 296.99,554.73 297.13,556.58" fill="none" stroke="#9a9a9a" stroke-width="0.5"/><polyline points="326.52,528.13 326.25,526.46 323.83,525.69" fill="none" stroke="#b2b2b2" stroke-width="0.47"/><polyline points="270.85,609.6 271.62,607.63 274.49,607.16 277.03,609.05" fill="none" stroke="#b2b2b2" stroke-width="0.64"/><polyline points="330.4,565.67 329.48,568.72 329.42,570.5 327.31,572.07 326.79,573.69" fill="none" stroke="#b2b2b2" stroke-width="0.7"/><polyline points="325.06,590.16 323.44,590.94 321,590.35 318.61,590.99 317.33,592.09" fill="none" stroke="#9a9a9a" stroke-width="0.46"/><polyline points="302.14,641.76 301.42,643.5 301.67,645.33 302.92,646.38 304.23,647.61" fill="none" stroke="#8e8e8e" stroke-width="0.59"/><polyline points="263.23,588.75 260.86,590.12 257.86,591.12 255.43,591.22 253.79,590.1" fill="none" stroke="#9a9a9a" stroke-width="0.68"/><polyline points="316.81,637.29 316.27,634.17 315.69,631.03 315.92,628.89" fill="none" stroke="#a6a6a6" stroke-width="0.49"/><polyline points="290.05,619.79 292.22,619.23 294.61,620.05" fill="none" stroke="#9a9a9a" stroke-width="0.65"/><polyline points="327.03,536.23 324.72,536.18 322.38,534.7 319.95,533.94 318.42,534.22" fill="none" stroke="#b2b2b2" stroke-width="0.5"/><polyline points="350.21,546.27 348.32,548.55 349.82,551.33 348.77,553.33" fill="none" stroke="#8e8e8e" stroke-width="0.74"/><polyline points="371.97,571.41 370.46,574.2 369.03,574.66" fill="none" stroke="#8e8e8e" stroke-width="0.55"/><polyline points="387.1,600.38 386.68,602.85 384.93,603.58 383.24,605.21 382.1,606.67" fill="none" stroke="#b2b2b2" stroke-width="0.58"/><polyline points="333.33,558.92 331.88,556.2 329.44,555.44 327.44,553.62" fill="none" stroke="#9a9a9a" stroke-width="0.53"/><polyline points="350.29,579.92 349.88,577.39 348.52,574.5 347.1,572.79" fill="none" stroke="#b2b2b2" stroke-width="0.61"/><polyline points="325.2,595.55 326.25,593.72 325.36,591.5 326.86,588.85 329.69,589.05" fill="none" stroke="#8e8e8e" stroke-width="0.48"/><polyline points="312,646.22 313.13,647.92 314.93,650.49 315.67,653.35 315.78,656.4" fill="none" stroke="#b2b2b2" stroke-width="0.59"/><polyline points="296.82,615.78 295.27,616.78 292.9,618.4 291.86,620.67" fill="none" stroke="#a6a6a6" stroke-width="0.63"/><polyline points="250.16,566.55 249.44,569.12 248.16,571.59" fill="none" stroke="#a6a6a6" stroke-width="0.55"/><polyline points="393.45,582.25 391.07,583.66 388.71,581.89" fill="none" stroke="#a6a6a6" stroke-width="0.48"/><polyline points="324.37,549.53 324.45,551.28 323.25,554.23 321.83,555.99 319.95,557.93" fill="none" stroke="#8e8e8e" stroke-width="0.69"/><polyline points="279.58,623.25 281.35,622.6 283.27,622.5" fill="none" stroke="#a6a6a6" stroke-width="0.73"/><polyline points="307.75,627.73 308.66,626.52 310.55,626.97 313.37,626.98" fill="none" stroke="#9a9a9a" stroke-width="0.66"/><polyline points="290.04,591.07 290.05,593.17 288.77,594.72 286.5,594.92" fill="none" stroke="#9a9a9a" stroke-width="0.71"/><polyline points="244.48,565.11 242.61,563.91 241.84,561.59 239.61,560.89 237.69,561.46" fill="none" stroke="#8e8e8e" stroke-width="0.47"/><polyline points="295.86,597.14 296.37,595.5 294.09,593.47 294.66,591.43" fill="none" stroke="#a6a6a6" stroke-width="0.68"/><polyline points="317.25,546.36 315.85,547.63 313.05,547.81 311.25,549.34" fill="none" stroke="#b2b2b2" stroke-width="0.61"/><polyline points="269.94,533.38 269.25,535.62 268.98,538.18 268.31,540.4 267.74,543.25" fill="none" stroke="#9a9a9a" stroke-width="0.71"/><polyline points="391.86,629.27 394.01,628.21 395.57,627.8 397.44,626.02 397.37,623.78" fill="none" stroke="#9a9a9a" stroke-width="0.58"/><polyline points="278.24,563.12 276.83,561.66 275.09,560.26" fill="none" stroke="#a6a6a6" stroke-width="0.68"/><polyline points="364.94,616.35 367.24,616.94 369.03,616.44 370.31,615.05" fill="none" stroke="#8e8e8e" stroke-width="0.56"/><polyline points="243.41,559.92 242.16,562.86 243.69,565.03" fill="none" stroke="#a6a6a6" stroke-width="0.65"/><polyline points="265.37,643.88 262.89,645.38 261.14,644.92 259.54,644.48 257.2,644.53" fill="none" stroke="#9a9a9a" stroke-width="0.65"/><polyline points="383.42,581.86 384.32,579.4 385.56,577.44 385.99,575.88 387.32,573.08" fill="none" stroke="#9a9a9a" stroke-width="0.67"/><polyline points="251.52,634.28 252.58,637.2 253.34,638.89 252.82,641.4" fill="none" stroke="#9a9a9a" stroke-width="0.53"/><polyline points="313.4,583.63 312.21,586.14 312.84,588.2 312.75,590.47 311.3,592.98" fill="none" stroke="#b2b2b2" stroke-width="0.63"/><polyline points="342.01,560.92 344.72,560.78 346.31,559.21 347.18,557.81" fill="none" stroke="#a6a6a6" stroke-width="0.5"/><polyline points="300.46,572.57 300.61,574.33 300.02,576.24 298.39,577.31" fill="none" stroke="#b2b2b2" stroke-width="0.58"/><polyline points="390.13,635.8 392.14,633.47 393.36,631.27 392.29,629.44" fill="none" stroke="#9a9a9a" stroke-width="0.57"/><polyline points="296.51,647.1 295.65,649.69 296.77,650.89 296.19,652.84" fill="none" stroke="#b2b2b2" stroke-width="0.57"/><polyline points="387.28,581.47 385.57,582.62 384.72,583.97 382.34,585.07" fill="none" stroke="#a6a6a6" stroke-width="0.7"/><polyline points="338.14,623.26 339.41,622.19 339.04,620.43 337.91,619.02 336.34,618.38" fill="none" stroke="#a6a6a6" stroke-width="0.65"/><polyline points="356.71,640.71 355.52,638.62 355.35,636.86 354.77,634.56 355.18,632.58" fill="none" stroke="#9a9a9a" stroke-width="0.46"/><polyline points="366.73,573.95 368.54,572.38 371.2,572.86" fill="none" stroke="#8e8e8e" stroke-width="0.73"/><polyline points="384.64,651 382.96,651.48 381.92,654.4 381.16,657.51 380.69,658.94" fill="none" stroke="#a6a6a6" stroke-width="0.69"/><polyline points="301.23,565.51 301.25,567.51 301.66,568.96 303.17,569.34" fill="none" stroke="#9a9a9a" stroke-width="0.61"/><polyline points="385.02,592.87 384.33,590.1 384.44,588.44" fill="none" stroke="#9a9a9a" stroke-width="0.58"/><polyline points="344.62,628.79 343.03,628.8 340.82,630.38" fill="none" stroke="#b2b2b2" stroke-width="0.74"/><polyline points="389.33,621.91 386.45,623.17 384.76,624.54 383.22,624.65 381.28,624.93" fill="none" stroke="#b2b2b2" stroke-width="0.71"/><polyline points="318.95,612.09 321.34,610.48 323.32,610.66 324.97,608.13 325.39,605.11" fill="none" stroke="#8e8e8e" stroke-width="0.6"/><polyline points="247.65,602.42 249.96,602.4 251.69,599.99 251.39,598.16 250.78,595.9" fill="none" stroke="#b2b2b2" stroke-width="0.55"/><polyline points="379.35,532.34 377.69,533.82 375.63,536.1 373.59,537.15 370.85,536.82" fill="none" stroke="#9a9a9a" stroke-width="0.74"/><polyline points="284.93,535.61 282.25,534.93 279.79,536.38" fill="none" stroke="#b2b2b2" stroke-width="0.64"/><polyline points="253.22,570.86 253.65,568.75 251.93,566.71" fill="none" stroke="#b2b2b2" stroke-width="0.53"/><polyline points="358.82,633.8 357.54,635.73 354.5,636.3" fill="none" stroke="#a6a6a6" stroke-width="0.67"/><polyline points="298.92,552.96 298.43,555.88 295.5,556.71" fill="none" stroke="#a6a6a6" stroke-width="0.62"/><polyline points="355.89,596.13 357.72,593.55 358.86,591.6 361,589.74" fill="none" stroke="#8e8e8e" stroke-width="0.73"/><polyline points="283.13,637.93 285.13,637.7 288.14,637.08 291.19,637.66" fill="none" stroke="#b2b2b2" stroke-width="0.5"/><polyline points="343.29,580.13 340.86,581.98 340.2,583.49 337.14,583.75" fill="none" stroke="#b2b2b2" stroke-width="0.69"/><polyline points="251.42,560.28 248.58,561.13 246.47,561.08 244.63,561.32" fill="none" stroke="#a6a6a6" stroke-width="0.6"/><polyline points="308.6,535.74 310.92,535.69 313.27,534.86 315.23,535.02 317.06,535.66" fill="none" stroke="#b2b2b2" stroke-width="0.73"/><polyline points="318.78,572.32 319.52,569.23 321.22,567.98 322.17,565.59 321.28,564.03" fill="none" stroke="#a6a6a6" stroke-width="0.65"/><polyline points="386.58,620.84 384.48,620.47 384.06,618.6 383.07,616.81 382.36,614.69" fill="none" stroke="#9a9a9a" stroke-width="0.56"/><polyline points="359.71,581.98 360.95,580.97 362.08,578.07" fill="none" stroke="#9a9a9a" stroke-width="0.48"/><polyline points="335.79,604.17 337.55,601.62 339.95,601.69 341.59,599.4" fill="none" stroke="#a6a6a6" stroke-width="0.68"/><polyline points="338.33,596.26 338.95,598.34 340.33,600.69" fill="none" stroke="#a6a6a6" stroke-width="0.57"/><polyline points="259.5,533.86 257.82,535.73 256.07,537.02 255.12,538.48" fill="none" stroke="#9a9a9a" stroke-width="0.45"/><polyline points="314.76,618.65 317.79,619.21 319.43,620.04 320.85,620.6 322.33,621.24" fill="none" stroke="#b2b2b2" stroke-width="0.57"/><polyline points="348.46,598.68 345.54,599.56 343.17,600.4 342.37,602.43" fill="none" stroke="#a6a6a6" stroke-width="0.48"/><polyline points="380.65,552.7 378.89,553.12 376.57,553.04" fill="none" stroke="#9a9a9a" stroke-width="0.64"/><polyline points="263.57,552.46 262.04,550.57 260.03,550.56" fill="none" stroke="#b2b2b2" stroke-width="0.69"/><polyline points="345.44,595.63 343.57,595.32 342.1,596.05 341.98,598.53" fill="none" stroke="#a6a6a6" stroke-width="0.64"/><polyline points="264.09,560.04 262.58,560.05 260.55,560.65 259.36,561.74 259.05,563.24" fill="none" stroke="#8e8e8e" stroke-width="0.63"/><polyline points="290.34,617.32 287.54,617.9 285.17,619.36" fill="none" stroke="#a6a6a6" stroke-width="0.56"/><polyline points="354.47,569.14 355.69,570.72 357.95,570.23 359.33,570.99" fill="none" stroke="#a6a6a6" stroke-width="0.67"/><polyline points="347.21,618.29 348.33,615.43 348.9,613.38 349.53,611.59 347.9,609.71" fill="none" stroke="#b2b2b2" stroke-width="0.66"/><polyline points="338.61,525.06 337.57,527.16 335.82,528.3 333.87,527.35 331.46,527.25" fill="none" stroke="#8e8e8e" stroke-width="0.63"/><polyline points="335.04,588.58 333.71,586.78 334.02,584.16 336.42,582.05 336.08,580.22" fill="none" stroke="#b2b2b2" stroke-width="0.56"/><polyline points="331.91,623 330.83,620.75 332.3,618.05" fill="none" stroke="#a6a6a6" stroke-width="0.47"/><polyline points="250.48,541.19 252.39,540.54 254.67,542.24 254.31,543.86" fill="none" stroke="#9a9a9a" stroke-width="0.67"/><polyline points="387.37,616.36 385.47,616.94 382.95,616.59" fill="none" stroke="#9a9a9a" stroke-width="0.49"/><polyline points="254.99,611.31 256.49,610.88 257.6,609.67" fill="none" stroke="#a6a6a6" stroke-width="0.46"/><polyline points="374.67,622.52 372.23,620.7 370.36,619.26 369.74,616.23" fill="none" stroke="#b2b2b2" stroke-width="0.61"/><polyline points="393.22,529.39 392.73,530.9 393.72,533.19 393.51,534.83" fill="none" stroke="#a6a6a6" stroke-width="0.47"/><polyline points="269.53,641.73 267.33,643.1 265.11,641.78 265.06,640.07 265.58,638.01" fill="none" stroke="#b2b2b2" stroke-width="0.74"/><polyline points="262.69,580.02 262.59,581.55 260.56,583.17 258.96,585.06 259.38,586.91" fill="none" stroke="#8e8e8e" stroke-width="0.47"/><polyline points="359.33,615.2 360.75,615.99 362.09,616.85 362.19,619.24 362.68,622.15" fill="none" stroke="#8e8e8e" stroke-width="0.55"/><polyline points="295.08,551.2 293.65,550.61 291.33,550.54 288.96,549.61" fill="none" stroke="#b2b2b2" stroke-width="0.59"/><polyline points="330.31,557.04 329.24,559.55 329.72,561.16 331.25,561.39 333.34,560.9" fill="none" stroke="#b2b2b2" stroke-width="0.52"/><polyline points="281.93,547.65 283.45,547.6 284.07,546.22 285.26,544.44 284.71,541.48" fill="none" stroke="#a6a6a6" stroke-width="0.46"/><polyline points="245.96,567.28 244.34,569.24 245.46,571.44" fill="none" stroke="#8e8e8e" stroke-width="0.55"/><polyline points="268.42,631.85 271.1,632.58 272.4,631.47 273.57,628.91" fill="none" stroke="#a6a6a6" stroke-width="0.74"/><polyline points="388.71,605.01 389.33,606.58 390.75,607.7" fill="none" stroke="#b2b2b2" stroke-width="0.46"/><polyline points="244.12,536.28 246.72,537.45 248.14,539.66 251.2,539.21 253.48,537.56" fill="none" stroke="#8e8e8e" stroke-width="0.6"/><polyline points="321.9,640.72 323.28,639.39 325.94,640.04 327.93,642.06" fill="none" stroke="#a6a6a6" stroke-width="0.67"/><polyline points="306.92,625.67 307.23,628.63 305.6,630.1 303.22,629.16" fill="none" stroke="#8e8e8e" stroke-width="0.7"/><polyline points="293.19,625.71 290.79,625.52 289.42,624.13 290.26,622.2" fill="none" stroke="#b2b2b2" stroke-width="0.49"/><polyline points="376.1,645.81 373.81,646.72 372.19,647.95 369.38,647.64" fill="none" stroke="#a6a6a6" stroke-width="0.75"/><polyline points="262.63,564.11 261.68,566.77 260.13,568.13" fill="none" stroke="#8e8e8e" stroke-width="0.74"/><polyline points="362.63,539.99 359.88,541.45 356.92,541.97 355.57,543.7" fill="none" stroke="#9a9a9a" stroke-width="0.64"/><polyline points="348.16,598.52 347.35,595.46 348.17,592.83" fill="none" stroke="#a6a6a6" stroke-width="0.67"/><polyline points="251.11,619.82 252.38,618.38 251.71,616.06" fill="none" stroke="#9a9a9a" stroke-width="0.56"/><polyline points="253.49,540.89 253.35,538.22 253.85,535.94 254.35,533.8" fill="none" stroke="#a6a6a6" stroke-width="0.66"/><polyline points="311.31,624.98 311.72,623.02 312.94,621.89" fill="none" stroke="#a6a6a6" stroke-width="0.66"/><polyline points="294.08,616.85 292.83,618.27 293,620.41 291.72,622.68 290.95,625.75" fill="none" stroke="#9a9a9a" stroke-width="0.7"/><polyline points="325.97,649.15 327.08,646.84 329.83,646.27" fill="none" stroke="#9a9a9a" stroke-width="0.63"/><polyline points="254.69,574.16 253.4,572.53 251.35,572.69 249.42,574.4" fill="none" stroke="#9a9a9a" stroke-width="0.64"/><polyline points="380.47,524.88 382.03,525.72 383.08,528.1" fill="none" stroke="#b2b2b2" stroke-width="0.73"/><polyline points="264.22,634.94 263.81,637.52 265.55,638.71 265.14,640.81" fill="none" stroke="#9a9a9a" stroke-width="0.62"/><polyline points="350.58,628.11 351.6,630.02 353.31,631.05 355.97,630.74 356.73,629.22" fill="none" stroke="#8e8e8e" stroke-width="0.75"/><polyline points="360.72,609.21 361.59,607.9 364.36,607.14" fill="none" stroke="#a6a6a6" stroke-width="0.59"/><polyline points="248.32,617.22 249.8,616.36 252.5,618.03 252.54,619.76 254.56,621.97" fill="none" stroke="#a6a6a6" stroke-width="0.67"/><polyline points="310.53,574.52 312.27,573.46 315.36,573.48 317.15,576.08 317.07,578.91" fill="none" stroke="#a6a6a6" stroke-width="0.58"/><polyline points="329.02,642.13 326.47,642.67 324.59,641.98" fill="none" stroke="#8e8e8e" stroke-width="0.73"/><polyline points="356.9,553.11 356.19,551.62 354.54,551.38" fill="none" stroke="#a6a6a6" stroke-width="0.55"/><polyline points="288.04,552.26 285.38,552.55 282.94,550.86 280.86,549.03 279.45,548.2" fill="none" stroke="#8e8e8e" stroke-width="0.67"/><polyline points="366.35,590.46 364.87,589.99 362.86,587.92 359.91,587.76" fill="none" stroke="#9a9a9a" stroke-width="0.5"/><polyline points="265.38,607.82 263.02,605.74 261.05,604.05" fill="none" stroke="#a6a6a6" stroke-width="0.49"/><polyline points="348.47,594.17 351.28,593.65 352.41,594.89 353.53,597.18" fill="none" stroke="#a6a6a6" stroke-width="0.46"/><polyline points="351.92,644.67 349.7,646.74 347.82,648.08 345.75,647.8 344.14,647.74" fill="none" stroke="#a6a6a6" stroke-width="0.69"/><polyline points="245.34,527.62 243.83,528.41 242.73,530.86 241.48,532.66" fill="none" stroke="#8e8e8e" stroke-width="0.65"/><polyline points="252.49,584.08 251.37,586.08 251.14,589.23 251.12,590.83" fill="none" stroke="#8e8e8e" stroke-width="0.51"/><polyline points="262.79,559.07 265.1,558.94 268.08,558.44 269.28,556.65" fill="none" stroke="#b2b2b2" stroke-width="0.71"/><polyline points="273.35,593.1 272.81,591.65 272.15,588.58" fill="none" stroke="#9a9a9a" stroke-width="0.58"/><polyline points="388.63,623.56 389.04,621.33 389.22,619 386.78,617.62 384.78,617.05" fill="none" stroke="#a6a6a6" stroke-width="0.5"/><polyline points="269.02,610.58 267.12,608.17 265.94,606.64 264.17,607.16" fill="none" stroke="#9a9a9a" stroke-width="0.7"/><polyline points="261.02,617.71 259.25,615.87 258.1,614.64 257.74,612.84 256.57,610.63" fill="none" stroke="#9a9a9a" stroke-width="0.45"/><polyline points="322.83,588.64 320.93,587.88 318.73,586.49 316.52,584.32" fill="none" stroke="#8e8e8e" stroke-width="0.46"/><polyline points="325.63,604.08 326.23,602.29 324.69,600.44 325.53,597.61 327.73,596.34" fill="none" stroke="#9a9a9a" stroke-width="0.72"/><polyline points="253.32,566.21 250.46,566.27 247.96,566.06" fill="none" stroke="#8e8e8e" stroke-width="0.55"/><polyline points="358.74,619.77 359.06,617.35 358.08,615.38 359.58,613.5 360.44,611.67" fill="none" stroke="#9a9a9a" stroke-width="0.59"/><polyline points="300.73,615.03 299.56,612.56 298.56,611.22" fill="none" stroke="#9a9a9a" stroke-width="0.69"/><polyline points="264.26,582.08 265.31,579.7 267.18,578.61 269.17,576.93" fill="none" stroke="#b2b2b2" stroke-width="0.45"/><polyline points="335.63,530.19 337.13,529.05 337.21,526.5 336.62,524.8 336.44,522.39" fill="none" stroke="#b2b2b2" stroke-width="0.64"/><polyline points="360.12,615.77 359.24,613.34 357.67,612.86 355.05,612.39 352.25,613.77" fill="none" stroke="#9a9a9a" stroke-width="0.61"/><polyline points="391.14,588.22 393.13,589.87 395.08,590.6 397.73,589.07" fill="none" stroke="#8e8e8e" stroke-width="0.53"/><polyline points="248.71,607.36 247.56,608.49 245.99,609.81 243.91,608.98 243.34,607.54" fill="none" stroke="#b2b2b2" stroke-width="0.6"/><polyline points="301,552.54 300.25,554.82 300.17,556.83" fill="none" stroke="#8e8e8e" stroke-width="0.71"/><polyline points="249.39,568.96 251.09,568.77 252.37,566.51 254.52,566.52 256.67,568.69" fill="none" stroke="#b2b2b2" stroke-width="0.51"/><polyline points="372.81,562.99 372.69,561.38 370.47,559.14 369.24,557.17 370.53,554.56" fill="none" stroke="#8e8e8e" stroke-width="0.46"/><polyline points="282.77,598.78 281.43,597.89 278.88,597.04 277.88,594.92" fill="none" stroke="#9a9a9a" stroke-width="0.68"/><polyline points="304.69,614.22 302.5,614.74 301.99,617.73" fill="none" stroke="#b2b2b2" stroke-width="0.68"/><polyline points="247.66,587.88 245.51,588.41 244.49,590.98 245.37,593.6 246.9,595.3" fill="none" stroke="#9a9a9a" stroke-width="0.72"/><polyline points="282.48,539.73 280.6,540.44 279.17,540.92 277.61,540.91 275.17,540.33" fill="none" stroke="#8e8e8e" stroke-width="0.59"/><polyline points="263.03,569.32 260.28,569.21 258.56,567.99" fill="none" stroke="#9a9a9a" stroke-width="0.5"/><polyline points="276.58,596.88 273.65,597.64 270.98,597.46 269.18,597.02 266.31,595.83" fill="none" stroke="#a6a6a6" stroke-width="0.64"/><polyline points="283.62,619.87 285.26,620.41 287.33,622.58 288.82,622.23 291.82,622.26" fill="none" stroke="#9a9a9a" stroke-width="0.6"/><polyline points="303.7,596.31 306.46,596.28 307.88,597.8 307.46,600.14 309.44,602.14" fill="none" stroke="#a6a6a6" stroke-width="0.5"/><polyline points="388.11,525.31 386.15,524.07 385.73,522.17" fill="none" stroke="#9a9a9a" stroke-width="0.58"/><polyline points="385.2,595.8 383.7,595.52 382.3,592.84 382.59,590.91" fill="none" stroke="#a6a6a6" stroke-width="0.69"/><polyline points="300.32,599.6 298.64,601.83 298.42,603.37 298.2,605.77" fill="none" stroke="#b2b2b2" stroke-width="0.47"/><polyline points="376.11,611.67 374.5,613.41 374.89,615.77 375.9,617.34 378.34,617.26" fill="none" stroke="#a6a6a6" stroke-width="0.62"/><polyline points="374.83,585.39 375.88,583.47 378.36,583.6 381.16,583.96 383.37,584.84" fill="none" stroke="#a6a6a6" stroke-width="0.53"/><polyline points="299.32,525.89 299.85,523.13 301.68,521.03 301.32,518.17 300.24,515.27" fill="none" stroke="#b2b2b2" stroke-width="0.62"/><polyline points="351.91,619.48 350.66,622.06 350.58,624.39 347.72,625.77 345.27,625.44" fill="none" stroke="#a6a6a6" stroke-width="0.67"/><polyline points="242.15,643.18 243.43,644.34 242.77,646.98 240.95,649.22 238.03,649.72" fill="none" stroke="#9a9a9a" stroke-width="0.57"/><polyline points="265.01,606.86 264.14,609.64 262.55,610.48" fill="none" stroke="#a6a6a6" stroke-width="0.58"/><polyline points="260.5,639.98 259.12,641.32 259.35,644.15 258.24,645.85 258.75,648.16" fill="none" stroke="#8e8e8e" stroke-width="0.52"/><polyline points="264.89,631.42 263.04,629.36 261.46,627.06 261.73,624.69 264.17,623.15" fill="none" stroke="#8e8e8e" stroke-width="0.56"/><polyline points="254.29,529.73 252.68,532.46 254,534.69" fill="none" stroke="#8e8e8e" stroke-width="0.48"/><polyline points="368.16,570 369.11,572.6 368.89,575.57 368.64,578.2 370.37,579.68" fill="none" stroke="#8e8e8e" stroke-width="0.55"/><polyline points="320.31,559.94 319.73,561.8 318.24,563.12 315.95,562.58" fill="none" stroke="#8e8e8e" stroke-width="0.67"/><polyline points="341.17,572.82 342.35,575.07 341.06,576.63" fill="none" stroke="#8e8e8e" stroke-width="0.67"/><polyline points="248.5,609.39 250.7,608.53 251.45,607.17 251.61,605.12" fill="none" stroke="#a6a6a6" stroke-width="0.61"/><polyline points="356.43,545.54 355.95,548.46 356.36,550.54 355.68,552.92 356.08,554.64" fill="none" stroke="#8e8e8e" stroke-width="0.68"/><polyline points="389.45,528.45 392.5,528.32 393.64,526.99" fill="none" stroke="#a6a6a6" stroke-width="0.69"/><polyline points="383.43,640.83 382.32,639.53 381.38,637.03" fill="none" stroke="#b2b2b2" stroke-width="0.62"/><polyline points="251.2,570.17 251.52,568.62 251.27,566.49 249.28,564.45" fill="none" stroke="#9a9a9a" stroke-width="0.46"/><polyline points="361.45,636.02 362.85,635.06 364.45,635.86 365.52,637.67 368.13,637.48" fill="none" stroke="#9a9a9a" stroke-width="0.49"/><polyline points="281.52,587.82 279.79,586.87 276.97,586.76" fill="none" stroke="#9a9a9a" stroke-width="0.73"/><polyline points="267.02,551.46 264.09,552.1 262.25,552.41 259.29,552.3" fill="none" stroke="#9a9a9a" stroke-width="0.68"/><polyline points="259.59,609.52 258.46,611.09 258.77,613.65 257.4,616.01 255.99,618.35" fill="none" stroke="#9a9a9a" stroke-width="0.61"/><polyline points="342.83,620.19 345.07,619.7 346.53,621.43 345.77,623.32 344.77,625.56" fill="none" stroke="#9a9a9a" stroke-width="0.7"/><polyline points="370.82,547.74 370.25,544.78 372.03,542.6 375.18,542.21 376.06,540.34" fill="none" stroke="#9a9a9a" stroke-width="0.55"/><polyline points="254.97,572.14 254.39,573.79 256.23,575.71 258.19,576.78" fill="none" stroke="#9a9a9a" stroke-width="0.55"/><polyline points="249.77,625.96 249.26,629.05 247.35,630.52" fill="none" stroke="#a6a6a6" stroke-width="0.56"/><polyline points="253.42,581.85 252.75,580.23 252.95,578.02 252.54,575.91 249.72,574.4" fill="none" stroke="#9a9a9a" stroke-width="0.66"/><polyline points="376.39,588.64 377.77,587.57 377.69,585.55" fill="none" stroke="#b2b2b2" stroke-width="0.51"/><polyline points="312.1,557.01 314.34,556.29 314.7,553.99" fill="none" stroke="#8e8e8e" stroke-width="0.54"/><polyline points="338.2,588.16 336.32,589.88 334.9,592.04 332.93,593.46 331.28,592.64" fill="none" stroke="#b2b2b2" stroke-width="0.51"/><polyline points="370.08,579.77 371.85,579.18 374.42,579.17 375.91,576.7 377.27,575.15" fill="none" stroke="#9a9a9a" stroke-width="0.62"/><polyline points="345.86,615.38 346.85,616.84 347.13,619.13 346.1,622.04 345.84,624.88" fill="none" stroke="#9a9a9a" stroke-width="0.51"/><polyline points="341.91,585.97 340.25,585.75 338.63,585.03 337,585.65 334.46,585.08" fill="none" stroke="#9a9a9a" stroke-width="0.63"/><polyline points="377.68,573.55 377.81,570.78 377.44,568.88" fill="none" stroke="#b2b2b2" stroke-width="0.71"/><polyline points="298.24,575.89 298.57,577.97 298.27,579.82" fill="none" stroke="#b2b2b2" stroke-width="0.45"/><polyline points="321.83,597.32 320.95,598.75 322.32,601.41 321.15,603.31 319.64,603.86" fill="none" stroke="#8e8e8e" stroke-width="0.7"/><polyline points="370.69,558.83 371.22,555.87 369.51,554.74" fill="none" stroke="#b2b2b2" stroke-width="0.73"/><polyline points="365.27,549.42 364.52,551.98 364.75,555.03" fill="none" stroke="#a6a6a6" stroke-width="0.6"/><polyline points="357.54,595.73 354.98,597.61 353.26,597.67" fill="none" stroke="#8e8e8e" stroke-width="0.63"/><polyline points="390.62,638.87 391.35,636.58 388.97,634.6 388.93,632.26" fill="none" stroke="#8e8e8e" stroke-width="0.65"/><polyline points="247.12,575.24 249.51,575.38 252.25,576.48 254,576.17" fill="none" stroke="#8e8e8e" stroke-width="0.56"/><polyline points="392.18,610.58 391.8,612.34 391.47,614.7" fill="none" stroke="#b2b2b2" stroke-width="0.47"/><polyline points="321.48,526.89 322.82,524.42 325.77,524.74 327.62,527.28 329.37,527.7" fill="none" stroke="#b2b2b2" stroke-width="0.47"/><polyline points="388.72,611.68 390.5,613.73 391.58,615.04 392.73,616.06" fill="none" stroke="#b2b2b2" stroke-width="0.73"/><polyline points="272.78,558.96 274.93,558.46 276.49,558.23 278.11,558.23 279.97,557.38" fill="none" stroke="#a6a6a6" stroke-width="0.58"/><polyline points="287.34,566.35 286.96,568.57 286.72,570.78" fill="none" stroke="#a6a6a6" stroke-width="0.52"/><polyline points="322.92,591.19 320.63,591.99 320.05,594.86" fill="none" stroke="#a6a6a6" stroke-width="0.46"/><polyline points="285.59,630.18 283.8,631.98 281.78,632.75" fill="none" stroke="#9a9a9a" stroke-width="0.75"/><polyline points="349.43,527.3 350.79,528 351.14,530.87" fill="none" stroke="#9a9a9a" stroke-width="0.46"/><polyline points="379.2,564.36 377.21,565.99 377.66,568.5 380.13,570.03 381.05,572.46" fill="none" stroke="#a6a6a6" stroke-width="0.7"/><polyline points="350.78,570.23 351.67,568.93 354.03,566.78" fill="none" stroke="#8e8e8e" stroke-width="0.52"/><polyline points="391.63,649.24 393.58,649.33 395.43,651.94 394.51,653.52" fill="none" stroke="#b2b2b2" stroke-width="0.5"/><polyline points="312.15,587.94 312.89,590.71 311.95,593.1 312.97,594.47" fill="none" stroke="#b2b2b2" stroke-width="0.56"/><polyline points="264.76,567.93 264.5,569.51 263.26,571.22 261.67,572.02 259.72,572.28" fill="none" stroke="#8e8e8e" stroke-width="0.67"/><polyline points="370.36,547.69 367.81,547.75 365.53,549.6" fill="none" stroke="#8e8e8e" stroke-width="0.72"/><polyline points="275.19,613.99 273.91,612.29 274.42,610.41 276.43,609.75 278.94,608.25" fill="none" stroke="#b2b2b2" stroke-width="0.51"/><polyline points="342.08,649.56 341.12,651.62 338.8,652.33 337.17,652.26 335.45,653.77" fill="none" stroke="#b2b2b2" stroke-width="0.46"/><polyline points="357.39,545.03 358.31,543.48 360.46,543.22 361.09,540.97" fill="none" stroke="#a6a6a6" stroke-width="0.73"/><polyline points="333.15,586.52 334.29,583.59 334.91,581.38" fill="none" stroke="#b2b2b2" stroke-width="0.67"/><polyline points="325.94,585.36 327.8,584.75 328.31,583.21 330.48,582.62 332.08,581.98" fill="none" stroke="#a6a6a6" stroke-width="0.57"/><polyline points="288.81,560.09 286.81,561.9 284.54,563.35 284.62,565.35" fill="none" stroke="#9a9a9a" stroke-width="0.69"/><polyline points="271.98,637.92 269.4,637.74 266.72,638.01" fill="none" stroke="#9a9a9a" stroke-width="0.51"/><polyline points="334.77,587.28 335.48,589.17 337.38,589.39 338.36,591.49" fill="none" stroke="#a6a6a6" stroke-width="0.6"/><polyline points="282.2,569.55 279.25,569.18 278.04,568.11 275.96,568.56" fill="none" stroke="#a6a6a6" stroke-width="0.72"/><polyline points="374.6,637.55 372.43,636.62 370.82,637.47 367.91,636.72" fill="none" stroke="#a6a6a6" stroke-width="0.73"/><polyline points="270.09,630.38 268.46,629.98 268,628.32 268.91,625.97 267.62,623.32" fill="none" stroke="#b2b2b2" stroke-width="0.72"/><polyline points="371.78,575.36 371.59,577.04 369.69,578.83 367.6,581.04" fill="none" stroke="#9a9a9a" stroke-width="0.59"/><polyline points="347.35,616.87 348.58,614.13 349.24,612.68" fill="none" stroke="#b2b2b2" stroke-width="0.52"/><polyline points="289.73,564.94 290.38,566.86 290.76,568.96 292.42,571.08" fill="none" stroke="#9a9a9a" stroke-width="0.71"/><polyline points="288.03,526.72 287.5,525.2 286.67,522.76 285.09,522.38" fill="none" stroke="#9a9a9a" stroke-width="0.47"/><polyline points="304.54,564.55 303.11,563.33 301.23,563.6" fill="none" stroke="#9a9a9a" stroke-width="0.63"/><polyline points="330.43,576.77 330.34,573.68 329.11,572.1" fill="none" stroke="#8e8e8e" stroke-width="0.7"/><polyline points="379.38,541.38 382.06,540.37 384.33,539.4" fill="none" stroke="#9a9a9a" stroke-width="0.74"/><polyline points="258.86,618.24 260.52,620.03 261.89,620.63" fill="none" stroke="#9a9a9a" stroke-width="0.69"/><polyline points="361.52,588.08 359.59,589.55 357.56,589.22 355.41,589.64 353.52,589.07" fill="none" stroke="#8e8e8e" stroke-width="0.54"/><polyline points="301.9,587.72 304.42,588.5 306.72,587.32" fill="none" stroke="#9a9a9a" stroke-width="0.65"/><polyline points="245.34,552.87 243.19,552.74 241.61,553.07 239.11,554.95" fill="none" stroke="#b2b2b2" stroke-width="0.56"/><polyline points="245.43,578.46 243.66,577.17 241.48,577.98" fill="none" stroke="#9a9a9a" stroke-width="0.62"/><polyline points="248.25,644.37 246.86,643.73 244.47,642.95 242.69,640.7" fill="none" stroke="#a6a6a6" stroke-width="0.53"/><polyline points="272.67,609.53 270.06,609.76 267.31,609.73 264.48,609.38" fill="none" stroke="#b2b2b2" stroke-width="0.46"/><polyline points="345.86,557.96 344.58,556.92 343.69,554.35 345.48,551.76 347.5,550.26" fill="none" stroke="#8e8e8e" stroke-width="0.67"/><polyline points="264.55,527.24 265.11,529.41 265.69,532.05 264.09,534.45" fill="none" stroke="#b2b2b2" stroke-width="0.66"/><polyline points="249.05,632.66 251.35,632.78 253.11,634.18 253.12,636.29" fill="none" stroke="#8e8e8e" stroke-width="0.6"/><polyline points="305.45,591.28 303.34,588.98 301.34,589.17" fill="none" stroke="#9a9a9a" stroke-width="0.52"/><polyline points="389.38,598.07 390.58,596.57 393.49,597.35 395.37,594.82" fill="none" stroke="#8e8e8e" stroke-width="0.52"/><polyline points="313.98,562.85 313.53,560.72 313.84,558.42 311.94,556.6" fill="none" stroke="#8e8e8e" stroke-width="0.47"/><polyline points="320.15,544.5 319.55,541.97 321,539.56" fill="none" stroke="#b2b2b2" stroke-width="0.55"/><polyline points="249.7,590.45 251.73,588.79 253.87,589.84 255.75,590.45" fill="none" stroke="#a6a6a6" stroke-width="0.49"/><polyline points="293.82,639.3 295.63,639.9 297.17,639.96 298.64,640.66 300.31,640.57" fill="none" stroke="#a6a6a6" stroke-width="0.52"/><polyline points="326.19,528.99 324.36,529.36 322.8,528.95 321.25,529.43" fill="none" stroke="#9a9a9a" stroke-width="0.6"/><polyline points="286.08,546.02 285.13,544.65 284.05,542.25" fill="none" stroke="#8e8e8e" stroke-width="0.61"/><polyline points="353.9,559.01 352.56,557.76 353.27,555.42 355.67,553.87 355.57,552.3" fill="none" stroke="#8e8e8e" stroke-width="0.58"/><polyline points="313.5,637.86 314.85,638.94 314.84,642.13 315.75,643.39" fill="none" stroke="#a6a6a6" stroke-width="0.51"/><polyline points="284.7,557.01 287.43,558.04 290.01,557.57" fill="none" stroke="#9a9a9a" stroke-width="0.54"/><polyline points="258.04,609.74 259.91,607.95 261.53,606.77 263.44,605.9 266.33,606.04" fill="none" stroke="#9a9a9a" stroke-width="0.7"/><polyline points="370.1,544.64 370.3,541.6 372.53,539.51" fill="none" stroke="#a6a6a6" stroke-width="0.74"/><polyline points="367.72,627.37 369.23,624.88 369.89,622.78 372.12,620.49" fill="none" stroke="#a6a6a6" stroke-width="0.55"/><polyline points="278.34,548.42 278.84,546.02 281.9,545.1 283.35,546.5 285.5,547.86" fill="none" stroke="#8e8e8e" stroke-width="0.72"/><polyline points="389.87,606.54 392.05,608.8 391.57,610.38 392.68,611.51 393.49,613.7" fill="none" stroke="#9a9a9a" stroke-width="0.53"/><polyline points="280.18,609.73 281.45,608.6 284.41,607.45 286.75,609.33 287.31,610.74" fill="none" stroke="#b2b2b2" stroke-width="0.5"/><polyline points="262.18,617.55 263.81,617.53 265.17,618.46 267.54,619.97 267.09,622.79" fill="none" stroke="#9a9a9a" stroke-width="0.68"/><polyline points="318.01,603.37 321.17,603.14 322.01,601.8 321.73,600.12" fill="none" stroke="#a6a6a6" stroke-width="0.72"/><polyline points="353.48,623.33 352.52,622.16 353.13,619.06" fill="none" stroke="#9a9a9a" stroke-width="0.69"/><polyline points="284.04,546.75 285.31,543.99 285.55,541.67 285.51,538.49" fill="none" stroke="#8e8e8e" stroke-width="0.73"/><polyline points="389.23,528.42 388.83,525.56 387.46,523.91" fill="none" stroke="#9a9a9a" stroke-width="0.5"/><polyline points="312.91,573.62 314.97,575.18 317.08,577.13 317.13,579.91 317.74,582.25" fill="none" stroke="#9a9a9a" stroke-width="0.52"/><polyline points="343.01,618.67 343.06,616.64 344.37,615.83 344.76,613.61 346.13,611.11" fill="none" stroke="#b2b2b2" stroke-width="0.58"/><polyline points="328.07,548.56 327.27,546.9 329.38,544.56 330.52,541.57 331.77,540.65" fill="none" stroke="#b2b2b2" stroke-width="0.51"/><polyline points="284.12,615.35 285.37,618.12 284.74,620.3 285.59,623.28" fill="none" stroke="#9a9a9a" stroke-width="0.47"/><polyline points="384.28,557.34 382.92,559.82 384.09,562.49" fill="none" stroke="#9a9a9a" stroke-width="0.73"/><polyline points="312.81,598.06 313.73,599.74 313.19,601.43 312.65,603.34" fill="none" stroke="#9a9a9a" stroke-width="0.49"/><polyline points="338.57,585.14 337.43,587.1 336.05,589.32" fill="none" stroke="#9a9a9a" stroke-width="0.6"/><polyline points="275.9,566.7 273.83,565.24 270.72,565.17 268.04,564.16" fill="none" stroke="#9a9a9a" stroke-width="0.61"/><polyline points="352.91,650.14 352.98,647.31 352.04,645.13 349.95,644.47" fill="none" stroke="#b2b2b2" stroke-width="0.46"/><polyline points="270.45,593.24 271.48,590.29 272.64,588.17 273.75,587.04 276.42,587.46" fill="none" stroke="#b2b2b2" stroke-width="0.74"/><polyline points="312.81,620.74 310.33,620.78 307.37,619.69" fill="none" stroke="#9a9a9a" stroke-width="0.65"/><polyline points="383.76,631.86 383.83,628.89 385.21,627.58 387.88,627.94" fill="none" stroke="#8e8e8e" stroke-width="0.58"/><polyline points="334.46,564.05 332.48,564.08 331.33,562.5" fill="none" stroke="#b2b2b2" stroke-width="0.45"/><polyline points="327.94,650.99 327.64,648.76 325.27,647.6" fill="none" stroke="#a6a6a6" stroke-width="0.71"/><polyline points="372.31,643.21 372.37,641.33 371.96,639.85 372.54,637.71" fill="none" stroke="#a6a6a6" stroke-width="0.61"/><polyline points="324.88,611.01 322.75,611.84 320.44,612.77 320.17,614.25" fill="none" stroke="#b2b2b2" stroke-width="0.58"/><polyline points="351.89,637.72 349.42,637.56 348.24,638.72 345.96,638.77 343.79,638.74" fill="none" stroke="#9a9a9a" stroke-width="0.67"/><polyline points="301.1,650.34 303.2,649.43 303.34,647.13" fill="none" stroke="#a6a6a6" stroke-width="0.52"/><polyline points="248.18,569.43 250.5,570.91 251.2,572.42 252.13,575.06" fill="none" stroke="#9a9a9a" stroke-width="0.46"/><polyline points="360.72,624.39 362.68,622.73 364.09,620.04 364.94,618.12 363.99,615.32" fill="none" stroke="#b2b2b2" stroke-width="0.72"/><polyline points="392.56,636.69 392.83,638.66 392.1,640.89 392.99,642.56" fill="none" stroke="#8e8e8e" stroke-width="0.71"/><polyline points="377.49,589.71 377.16,587.23 378.82,586.07" fill="none" stroke="#9a9a9a" stroke-width="0.55"/><polyline points="364.05,624.64 363.22,621.73 362.64,619.37" fill="none" stroke="#8e8e8e" stroke-width="0.46"/><polyline points="323.3,559.14 323.42,561.72 325.52,562.68" fill="none" stroke="#b2b2b2" stroke-width="0.52"/><polyline points="361.06,611.75 359.52,612.91 357.85,613.11 356.19,611.67 353.38,611.61" fill="none" stroke="#8e8e8e" stroke-width="0.7"/><polyline points="337.2,563.25 337.46,561.03 337.99,559.47 336.56,556.87" fill="none" stroke="#9a9a9a" stroke-width="0.72"/><polyline points="342.54,579.05 341.75,580.86 339.9,580.88" fill="none" stroke="#9a9a9a" stroke-width="0.51"/><polyline points="256.03,534.56 254.11,534.71 251.53,535.33 250.06,534.09 247.9,533.29" fill="none" stroke="#9a9a9a" stroke-width="0.73"/><polyline points="371.27,638.55 373.46,639.36 375.16,639.35 378.08,639.68" fill="none" stroke="#8e8e8e" stroke-width="0.69"/><polyline points="242.31,588.2 241.01,589.71 239.33,590.92 236.55,591.55" fill="none" stroke="#b2b2b2" stroke-width="0.68"/><polyline points="260.66,558.85 257.93,557.58 255.85,556.38 253.39,557.29 251.37,557.76" fill="none" stroke="#8e8e8e" stroke-width="0.72"/><polyline points="251.67,568.74 250.21,567.15 249.17,564.6 250.31,563.07 251.98,562.44" fill="none" stroke="#9a9a9a" stroke-width="0.62"/><polyline points="331.7,646.88 329.77,646.87 328.2,647.58 326.96,648.64" fill="none" stroke="#b2b2b2" stroke-width="0.64"/><polyline points="309.55,617.84 310.07,616.05 312.79,615.45 315.16,616.49" fill="none" stroke="#9a9a9a" stroke-width="0.63"/><polyline points="346.93,543.64 345.47,542.34 342.96,542.01 341.63,543.32" fill="none" stroke="#9a9a9a" stroke-width="0.55"/><polyline points="287.88,571.01 286.29,569.28 286.12,567.37 286.26,565.88" fill="none" stroke="#a6a6a6" stroke-width="0.49"/><line x1="298.83" y1="610.7" x2="301.54" y2="601.83" stroke="#8a8a8a" stroke-width="3.93"/><line x1="298.83" y1="610.7" x2="301.54" y2="601.83" stroke="#454545" stroke-width="3.03"/><line x1="357.36" y1="592.1" x2="369.1" y2="578.68" stroke="#8a8a8a" stroke-width="4.05"/><line x1="357.36" y1="592.1" x2="369.1" y2="578.68" stroke="#454545" stroke-width="3.15"/><line x1="246.34" y1="608.62" x2="244.88" y2="602.59" stroke="#8a8a8a" stroke-width="3.9"/><line x1="246.34" y1="608.62" x2="244.88" y2="602.59" stroke="#454545" stroke-width="3"/><line x1="245.53" y1="558.93" x2="251.84" y2="563.41" stroke="#8a8a8a" stroke-width="3.99"/><line x1="245.53" y1="558.93" x2="251.84" y2="563.41" stroke="#555555" stroke-width="3.09"/><line x1="390.19" y1="547.66" x2="394.79" y2="543.62" stroke="#8a8a8a" stroke-width="2.89"/><line x1="390.19" y1="547.66" x2="394.79" y2="543.62" stroke="#4d4d4d" stroke-width="1.99"/><line x1="316.26" y1="615.48" x2="324.78" y2="605.48" stroke="#8a8a8a" stroke-width="3.9"/><line x1="316.26" y1="615.48" x2="324.78" y2="605.48" stroke="#454545" stroke-width="3"/><line x1="268.87" y1="561.23" x2="271.66" y2="543.75" stroke="#8a8a8a" stroke-width="4.26"/><line x1="268.87" y1="561.23" x2="271.66" y2="543.75" stroke="#4d4d4d" stroke-width="3.36"/><line x1="372.56" y1="648.65" x2="374.11" y2="655.52" stroke="#8a8a8a" stroke-width="3.92"/><line x1="372.56" y1="648.65" x2="374.11" y2="655.52" stroke="#555555" stroke-width="3.02"/><line x1="281.98" y1="596.94" x2="292.31" y2="611.56" stroke="#8a8a8a" stroke-width="3.5"/><line x1="281.98" y1="596.94" x2="292.31" y2="611.56" stroke="#555555" stroke-width="2.6"/><line x1="307.14" y1="617.24" x2="312.96" y2="600.38" stroke="#8a8a8a" stroke-width="3.62"/><line x1="307.14" y1="617.24" x2="312.96" y2="600.38" stroke="#555555" stroke-width="2.72"/><line x1="358.28" y1="562.88" x2="348.06" y2="574.27" stroke="#8a8a8a" stroke-width="3.21"/><line x1="358.28" y1="562.88" x2="348.06" y2="574.27" stroke="#4d4d4d" stroke-width="2.31"/><line x1="323.26" y1="550.08" x2="319.58" y2="559.74" stroke="#8a8a8a" stroke-width="3.25"/><line x1="323.26" y1="550.08" x2="319.58" y2="559.74" stroke="#4d4d4d" stroke-width="2.35"/><line x1="272.11" y1="538.98" x2="272.59" y2="530.52" stroke="#8a8a8a" stroke-width="4.19"/><line x1="272.11" y1="538.98" x2="272.59" y2="530.52" stroke="#454545" stroke-width="3.29"/><line x1="373.87" y1="547.38" x2="366.86" y2="531.1" stroke="#8a8a8a" stroke-width="2.77"/><line x1="373.87" y1="547.38" x2="366.86" y2="531.1" stroke="#4d4d4d" stroke-width="1.87"/><line x1="383.68" y1="542.71" x2="383.5" y2="530.78" stroke="#8a8a8a" stroke-width="3.23"/><line x1="383.68" y1="542.71" x2="383.5" y2="530.78" stroke="#4d4d4d" stroke-width="2.33"/><line x1="264.85" y1="564.91" x2="269.62" y2="561.09" stroke="#8a8a8a" stroke-width="2.93"/><line x1="264.85" y1="564.91" x2="269.62" y2="561.09" stroke="#4d4d4d" stroke-width="2.03"/><line x1="325.89" y1="569.05" x2="331.04" y2="583.23" stroke="#8a8a8a" stroke-width="3.25"/><line x1="325.89" y1="569.05" x2="331.04" y2="583.23" stroke="#454545" stroke-width="2.35"/><line x1="332.44" y1="561.29" x2="326.58" y2="571.86" stroke="#8a8a8a" stroke-width="4.11"/><line x1="332.44" y1="561.29" x2="326.58" y2="571.86" stroke="#4d4d4d" stroke-width="3.21"/><line x1="391.08" y1="627.86" x2="396.49" y2="624.73" stroke="#8a8a8a" stroke-width="3.45"/><line x1="391.08" y1="627.86" x2="396.49" y2="624.73" stroke="#454545" stroke-width="2.55"/><line x1="269.14" y1="641.6" x2="274.63" y2="649.73" stroke="#8a8a8a" stroke-width="3.24"/><line x1="269.14" y1="641.6" x2="274.63" y2="649.73" stroke="#4d4d4d" stroke-width="2.34"/><line x1="254.58" y1="650.85" x2="259.27" y2="637.53" stroke="#8a8a8a" stroke-width="4.27"/><line x1="254.58" y1="650.85" x2="259.27" y2="637.53" stroke="#555555" stroke-width="3.37"/><line x1="349.56" y1="577.72" x2="366.16" y2="574.42" stroke="#8a8a8a" stroke-width="3.03"/><line x1="349.56" y1="577.72" x2="366.16" y2="574.42" stroke="#555555" stroke-width="2.13"/><line x1="363.76" y1="531.93" x2="363.97" y2="514.81" stroke="#8a8a8a" stroke-width="3.43"/><line x1="363.76" y1="531.93" x2="363.97" y2="514.81" stroke="#555555" stroke-width="2.53"/><line x1="318.76" y1="648.29" x2="329.48" y2="635.72" stroke="#8a8a8a" stroke-width="3.34"/><line x1="318.76" y1="648.29" x2="329.48" y2="635.72" stroke="#555555" stroke-width="2.44"/><line x1="311.54" y1="595.87" x2="312.08" y2="581.42" stroke="#8a8a8a" stroke-width="2.9"/><line x1="311.54" y1="595.87" x2="312.08" y2="581.42" stroke="#454545" stroke-width="2"/><line x1="353.38" y1="545.64" x2="358.93" y2="542.93" stroke="#8a8a8a" stroke-width="4.25"/><line x1="353.38" y1="545.64" x2="358.93" y2="542.93" stroke="#555555" stroke-width="3.35"/><line x1="286.72" y1="594.46" x2="284.04" y2="607.11" stroke="#8a8a8a" stroke-width="3.58"/><line x1="286.72" y1="594.46" x2="284.04" y2="607.11" stroke="#454545" stroke-width="2.68"/><line x1="389.29" y1="607.31" x2="389.89" y2="600.94" stroke="#8a8a8a" stroke-width="4.12"/><line x1="389.29" y1="607.31" x2="389.89" y2="600.94" stroke="#4d4d4d" stroke-width="3.22"/><line x1="268.51" y1="603.03" x2="272.37" y2="593.95" stroke="#8a8a8a" stroke-width="3.97"/><line x1="268.51" y1="603.03" x2="272.37" y2="593.95" stroke="#454545" stroke-width="3.07"/><line x1="241.67" y1="622.72" x2="237.14" y2="629.03" stroke="#8a8a8a" stroke-width="3.26"/><line x1="241.67" y1="622.72" x2="237.14" y2="629.03" stroke="#555555" stroke-width="2.36"/><line x1="290.83" y1="611.22" x2="278.71" y2="616.87" stroke="#8a8a8a" stroke-width="2.98"/><line x1="290.83" y1="611.22" x2="278.71" y2="616.87" stroke="#454545" stroke-width="2.08"/><line x1="272.07" y1="535.88" x2="274.18" y2="528.02" stroke="#8a8a8a" stroke-width="3.35"/><line x1="272.07" y1="535.88" x2="274.18" y2="528.02" stroke="#454545" stroke-width="2.45"/><line x1="354.15" y1="604.1" x2="364.02" y2="592.75" stroke="#8a8a8a" stroke-width="3.49"/><line x1="354.15" y1="604.1" x2="364.02" y2="592.75" stroke="#454545" stroke-width="2.59"/><line x1="260.57" y1="610.31" x2="256.36" y2="615.94" stroke="#8a8a8a" stroke-width="3.01"/><line x1="260.57" y1="610.31" x2="256.36" y2="615.94" stroke="#454545" stroke-width="2.11"/><line x1="242.72" y1="608.39" x2="242.01" y2="599.96" stroke="#8a8a8a" stroke-width="4.17"/><line x1="242.72" y1="608.39" x2="242.01" y2="599.96" stroke="#555555" stroke-width="3.27"/><line x1="293.34" y1="606.48" x2="284.28" y2="595.2" stroke="#8a8a8a" stroke-width="3.4"/><line x1="293.34" y1="606.48" x2="284.28" y2="595.2" stroke="#555555" stroke-width="2.5"/><line x1="330.97" y1="557.46" x2="334.6" y2="551.99" stroke="#8a8a8a" stroke-width="3.34"/><line x1="330.97" y1="557.46" x2="334.6" y2="551.99" stroke="#4d4d4d" stroke-width="2.44"/><line x1="323.93" y1="636.31" x2="339.49" y2="639.36" stroke="#8a8a8a" stroke-width="3.78"/><line x1="323.93" y1="636.31" x2="339.49" y2="639.36" stroke="#555555" stroke-width="2.88"/><line x1="287.42" y1="532.26" x2="303.95" y2="535.47" stroke="#8a8a8a" stroke-width="3.8"/><line x1="287.42" y1="532.26" x2="303.95" y2="535.47" stroke="#4d4d4d" stroke-width="2.9"/><line x1="330.01" y1="593.02" x2="329.4" y2="584.93" stroke="#8a8a8a" stroke-width="3.64"/><line x1="330.01" y1="593.02" x2="329.4" y2="584.93" stroke="#555555" stroke-width="2.74"/><line x1="388.53" y1="639.2" x2="398.7" y2="646.81" stroke="#8a8a8a" stroke-width="2.96"/><line x1="388.53" y1="639.2" x2="398.7" y2="646.81" stroke="#555555" stroke-width="2.06"/><line x1="354.77" y1="571.03" x2="359.27" y2="554.98" stroke="#8a8a8a" stroke-width="3.4"/><line x1="354.77" y1="571.03" x2="359.27" y2="554.98" stroke="#454545" stroke-width="2.5"/><line x1="247.67" y1="612.73" x2="259.77" y2="605.03" stroke="#8a8a8a" stroke-width="3.15"/><line x1="247.67" y1="612.73" x2="259.77" y2="605.03" stroke="#454545" stroke-width="2.25"/><line x1="311.96" y1="639.82" x2="310.6" y2="646.81" stroke="#8a8a8a" stroke-width="3.74"/><line x1="311.96" y1="639.82" x2="310.6" y2="646.81" stroke="#454545" stroke-width="2.84"/><line x1="380.89" y1="640.34" x2="385.72" y2="625.45" stroke="#8a8a8a" stroke-width="3.94"/><line x1="380.89" y1="640.34" x2="385.72" y2="625.45" stroke="#555555" stroke-width="3.04"/><line x1="283.13" y1="603.57" x2="300.26" y2="598.16" stroke="#8a8a8a" stroke-width="4.23"/><line x1="283.13" y1="603.57" x2="300.26" y2="598.16" stroke="#555555" stroke-width="3.33"/><line x1="268.41" y1="552.97" x2="273.93" y2="555.57" stroke="#8a8a8a" stroke-width="3.69"/><line x1="268.41" y1="552.97" x2="273.93" y2="555.57" stroke="#555555" stroke-width="2.79"/><line x1="273.94" y1="590.7" x2="268.66" y2="595.94" stroke="#8a8a8a" stroke-width="3.45"/><line x1="273.94" y1="590.7" x2="268.66" y2="595.94" stroke="#454545" stroke-width="2.55"/><line x1="260.2" y1="575.43" x2="269.13" y2="566.02" stroke="#8a8a8a" stroke-width="3.69"/><line x1="260.2" y1="575.43" x2="269.13" y2="566.02" stroke="#4d4d4d" stroke-width="2.79"/><line x1="271.81" y1="530.72" x2="273.52" y2="514.19" stroke="#8a8a8a" stroke-width="3.17"/><line x1="271.81" y1="530.72" x2="273.52" y2="514.19" stroke="#454545" stroke-width="2.27"/><line x1="306.93" y1="571.45" x2="300.79" y2="586.12" stroke="#8a8a8a" stroke-width="3.52"/><line x1="306.93" y1="571.45" x2="300.79" y2="586.12" stroke="#4d4d4d" stroke-width="2.62"/><line x1="281.46" y1="578.04" x2="286.98" y2="565.63" stroke="#8a8a8a" stroke-width="3.32"/><line x1="281.46" y1="578.04" x2="286.98" y2="565.63" stroke="#4d4d4d" stroke-width="2.42"/><line x1="348.68" y1="539.66" x2="362.46" y2="547.27" stroke="#8a8a8a" stroke-width="3.67"/><line x1="348.68" y1="539.66" x2="362.46" y2="547.27" stroke="#454545" stroke-width="2.77"/><line x1="333.36" y1="602.68" x2="346.96" y2="595.99" stroke="#8a8a8a" stroke-width="3.66"/><line x1="333.36" y1="602.68" x2="346.96" y2="595.99" stroke="#454545" stroke-width="2.76"/><line x1="325.55" y1="589.16" x2="318.33" y2="582.44" stroke="#8a8a8a" stroke-width="3.28"/><line x1="325.55" y1="589.16" x2="318.33" y2="582.44" stroke="#4d4d4d" stroke-width="2.38"/><line x1="329.9" y1="613.7" x2="324.49" y2="622.21" stroke="#8a8a8a" stroke-width="3.58"/><line x1="329.9" y1="613.7" x2="324.49" y2="622.21" stroke="#4d4d4d" stroke-width="2.68"/><line x1="350.14" y1="641.95" x2="363.22" y2="646.65" stroke="#8a8a8a" stroke-width="4.18"/><line x1="350.14" y1="641.95" x2="363.22" y2="646.65" stroke="#454545" stroke-width="3.28"/><line x1="295.31" y1="634.32" x2="294.74" y2="626.63" stroke="#8a8a8a" stroke-width="3.49"/><line x1="295.31" y1="634.32" x2="294.74" y2="626.63" stroke="#454545" stroke-width="2.59"/><line x1="256.08" y1="633.74" x2="261.51" y2="622.11" stroke="#8a8a8a" stroke-width="3.28"/><line x1="256.08" y1="633.74" x2="261.51" y2="622.11" stroke="#4d4d4d" stroke-width="2.38"/><line x1="327.48" y1="546.82" x2="332.24" y2="559.39" stroke="#8a8a8a" stroke-width="3.9"/><line x1="327.48" y1="546.82" x2="332.24" y2="559.39" stroke="#4d4d4d" stroke-width="3"/><line x1="335.25" y1="558.79" x2="343.82" y2="544.41" stroke="#8a8a8a" stroke-width="3.64"/><line x1="335.25" y1="558.79" x2="343.82" y2="544.41" stroke="#555555" stroke-width="2.74"/><line x1="321.5" y1="601.85" x2="319.1" y2="607.7" stroke="#8a8a8a" stroke-width="3.51"/><line x1="321.5" y1="601.85" x2="319.1" y2="607.7" stroke="#4d4d4d" stroke-width="2.61"/><line x1="349.22" y1="530.31" x2="363.88" y2="524.59" stroke="#8a8a8a" stroke-width="3.24"/><line x1="349.22" y1="530.31" x2="363.88" y2="524.59" stroke="#555555" stroke-width="2.34"/><line x1="299.16" y1="549.52" x2="304.69" y2="537.26" stroke="#8a8a8a" stroke-width="4.22"/><line x1="299.16" y1="549.52" x2="304.69" y2="537.26" stroke="#4d4d4d" stroke-width="3.32"/><line x1="260.87" y1="620.55" x2="274.73" y2="621.94" stroke="#8a8a8a" stroke-width="2.76"/><line x1="260.87" y1="620.55" x2="274.73" y2="621.94" stroke="#454545" stroke-width="1.86"/><line x1="263.01" y1="596.37" x2="257.61" y2="585.77" stroke="#8a8a8a" stroke-width="3.81"/><line x1="263.01" y1="596.37" x2="257.61" y2="585.77" stroke="#454545" stroke-width="2.91"/><line x1="268.85" y1="570.5" x2="278.63" y2="562.39" stroke="#8a8a8a" stroke-width="3.58"/><line x1="268.85" y1="570.5" x2="278.63" y2="562.39" stroke="#555555" stroke-width="2.68"/><line x1="355.61" y1="596.62" x2="348.55" y2="609.6" stroke="#8a8a8a" stroke-width="3.85"/><line x1="355.61" y1="596.62" x2="348.55" y2="609.6" stroke="#4d4d4d" stroke-width="2.95"/><line x1="271.31" y1="552.78" x2="266" y2="539.87" stroke="#8a8a8a" stroke-width="4"/><line x1="271.31" y1="552.78" x2="266" y2="539.87" stroke="#4d4d4d" stroke-width="3.1"/><line x1="335.53" y1="549.29" x2="345.64" y2="559.06" stroke="#8a8a8a" stroke-width="3.15"/><line x1="335.53" y1="549.29" x2="345.64" y2="559.06" stroke="#4d4d4d" stroke-width="2.25"/><line x1="352.58" y1="561.19" x2="362.33" y2="557.7" stroke="#8a8a8a" stroke-width="3.17"/><line x1="352.58" y1="561.19" x2="362.33" y2="557.7" stroke="#555555" stroke-width="2.27"/><line x1="265.11" y1="559.01" x2="279.72" y2="561.28" stroke="#8a8a8a" stroke-width="4.03"/><line x1="265.11" y1="559.01" x2="279.72" y2="561.28" stroke="#555555" stroke-width="3.13"/><line x1="318.63" y1="539.92" x2="326.17" y2="526.91" stroke="#8a8a8a" stroke-width="3.43"/><line x1="318.63" y1="539.92" x2="326.17" y2="526.91" stroke="#555555" stroke-width="2.53"/><line x1="331.26" y1="641.94" x2="325.41" y2="652.26" stroke="#8a8a8a" stroke-width="2.9"/><line x1="331.26" y1="641.94" x2="325.41" y2="652.26" stroke="#4d4d4d" stroke-width="2"/><line x1="244.45" y1="601.11" x2="247.9" y2="591.53" stroke="#8a8a8a" stroke-width="3.92"/><line x1="244.45" y1="601.11" x2="247.9" y2="591.53" stroke="#4d4d4d" stroke-width="3.02"/><line x1="356.96" y1="547.54" x2="363.73" y2="544.57" stroke="#8a8a8a" stroke-width="2.98"/><line x1="356.96" y1="547.54" x2="363.73" y2="544.57" stroke="#4d4d4d" stroke-width="2.08"/><line x1="378.83" y1="562.4" x2="379.27" y2="571.1" stroke="#8a8a8a" stroke-width="3.69"/><line x1="378.83" y1="562.4" x2="379.27" y2="571.1" stroke="#555555" stroke-width="2.79"/><line x1="255.54" y1="632.6" x2="259.08" y2="619.55" stroke="#8a8a8a" stroke-width="2.82"/><line x1="255.54" y1="632.6" x2="259.08" y2="619.55" stroke="#555555" stroke-width="1.92"/><line x1="377.18" y1="572.77" x2="383.43" y2="564.51" stroke="#8a8a8a" stroke-width="3.49"/><line x1="377.18" y1="572.77" x2="383.43" y2="564.51" stroke="#555555" stroke-width="2.59"/><line x1="378.77" y1="635.03" x2="368.95" y2="637.44" stroke="#8a8a8a" stroke-width="2.91"/><line x1="378.77" y1="635.03" x2="368.95" y2="637.44" stroke="#4d4d4d" stroke-width="2.01"/><line x1="279.4" y1="567.64" x2="278.78" y2="556.36" stroke="#8a8a8a" stroke-width="2.87"/><line x1="279.4" y1="567.64" x2="278.78" y2="556.36" stroke="#555555" stroke-width="1.97"/><line x1="372.43" y1="577.13" x2="369.06" y2="592.18" stroke="#8a8a8a" stroke-width="4.06"/><line x1="372.43" y1="577.13" x2="369.06" y2="592.18" stroke="#454545" stroke-width="3.16"/><line x1="299.75" y1="541.71" x2="297.09" y2="531.41" stroke="#8a8a8a" stroke-width="4.03"/><line x1="299.75" y1="541.71" x2="297.09" y2="531.41" stroke="#454545" stroke-width="3.13"/><line x1="307.28" y1="650.73" x2="314.31" y2="639.55" stroke="#8a8a8a" stroke-width="2.74"/><line x1="307.28" y1="650.73" x2="314.31" y2="639.55" stroke="#454545" stroke-width="1.84"/><line x1="301.74" y1="538.18" x2="311.81" y2="531.74" stroke="#8a8a8a" stroke-width="3.09"/><line x1="301.74" y1="538.18" x2="311.81" y2="531.74" stroke="#555555" stroke-width="2.19"/><line x1="378.66" y1="619.05" x2="376.02" y2="626.93" stroke="#8a8a8a" stroke-width="2.94"/><line x1="378.66" y1="619.05" x2="376.02" y2="626.93" stroke="#4d4d4d" stroke-width="2.04"/><line x1="259.71" y1="633.8" x2="259.83" y2="625.08" stroke="#8a8a8a" stroke-width="3.34"/><line x1="259.71" y1="633.8" x2="259.83" y2="625.08" stroke="#454545" stroke-width="2.44"/><line x1="362.35" y1="644.16" x2="361.95" y2="632.75" stroke="#8a8a8a" stroke-width="4.04"/><line x1="362.35" y1="644.16" x2="361.95" y2="632.75" stroke="#4d4d4d" stroke-width="3.14"/><line x1="342.88" y1="569.11" x2="344.94" y2="586.79" stroke="#8a8a8a" stroke-width="3.97"/><line x1="342.88" y1="569.11" x2="344.94" y2="586.79" stroke="#4d4d4d" stroke-width="3.07"/><line x1="365.9" y1="561.72" x2="372.39" y2="552.6" stroke="#8a8a8a" stroke-width="3.28"/><line x1="365.9" y1="561.72" x2="372.39" y2="552.6" stroke="#555555" stroke-width="2.38"/><line x1="244.57" y1="648.44" x2="245.45" y2="652.03" stroke="#3c3c3c" stroke-width="1.11"/><line x1="294.24" y1="617.84" x2="293.76" y2="620.35" stroke="#3c3c3c" stroke-width="1.5"/><line x1="345.72" y1="644.42" x2="348.52" y2="645.81" stroke="#3c3c3c" stroke-width="1.29"/><line x1="277.99" y1="618.65" x2="276.58" y2="621.39" stroke="#3c3c3c" stroke-width="1.24"/><line x1="318.2" y1="540.24" x2="317.5" y2="541.82" stroke="#3c3c3c" stroke-width="1.51"/><line x1="369.15" y1="585.18" x2="368.26" y2="588.06" stroke="#3c3c3c" stroke-width="1.46"/><line x1="365.71" y1="565.36" x2="364.93" y2="566.99" stroke="#3c3c3c" stroke-width="1.45"/><line x1="304.7" y1="616.56" x2="308.15" y2="617.83" stroke="#3c3c3c" stroke-width="0.96"/><line x1="254.19" y1="557.56" x2="253.26" y2="561.42" stroke="#3c3c3c" stroke-width="1.11"/><line x1="289.25" y1="620.9" x2="290.56" y2="622.36" stroke="#3c3c3c" stroke-width="0.87"/><line x1="344.75" y1="629.24" x2="348.05" y2="631.12" stroke="#3c3c3c" stroke-width="1.11"/><line x1="357.46" y1="601.74" x2="359.7" y2="602.6" stroke="#3c3c3c" stroke-width="1.08"/><line x1="275.31" y1="638.37" x2="277.39" y2="640.37" stroke="#3c3c3c" stroke-width="1.43"/><line x1="372.49" y1="616.32" x2="371.87" y2="618.08" stroke="#3c3c3c" stroke-width="1.03"/><line x1="381.16" y1="596.58" x2="378.05" y2="596.62" stroke="#3c3c3c" stroke-width="1.04"/><line x1="307.5" y1="591.9" x2="308.29" y2="595.05" stroke="#3c3c3c" stroke-width="1.47"/><line x1="249.61" y1="600.95" x2="248.46" y2="604.06" stroke="#3c3c3c" stroke-width="0.9"/><line x1="279.06" y1="639.62" x2="281.15" y2="642.69" stroke="#3c3c3c" stroke-width="1.33"/><line x1="291.04" y1="650.06" x2="288.16" y2="650.69" stroke="#3c3c3c" stroke-width="0.9"/><line x1="265.9" y1="539.55" x2="267.54" y2="539.99" stroke="#3c3c3c" stroke-width="1.01"/><line x1="271.73" y1="596.44" x2="274.13" y2="599.27" stroke="#3c3c3c" stroke-width="1"/><line x1="342.73" y1="622.4" x2="339.03" y2="623.62" stroke="#3c3c3c" stroke-width="0.94"/><line x1="249.35" y1="632.55" x2="247.56" y2="633.94" stroke="#3c3c3c" stroke-width="0.92"/><line x1="341.44" y1="568.77" x2="341.88" y2="571.08" stroke="#3c3c3c" stroke-width="1.05"/><line x1="305.13" y1="624.87" x2="304.27" y2="628.15" stroke="#3c3c3c" stroke-width="1.21"/><line x1="337.63" y1="643.35" x2="339.7" y2="645.15" stroke="#3c3c3c" stroke-width="1.07"/><line x1="370.14" y1="553.33" x2="367.75" y2="555.28" stroke="#3c3c3c" stroke-width="1"/><line x1="326.68" y1="636.84" x2="329.24" y2="639.91" stroke="#3c3c3c" stroke-width="1.57"/><line x1="252.01" y1="627.84" x2="254.8" y2="629.81" stroke="#3c3c3c" stroke-width="1.25"/><line x1="388.02" y1="592.92" x2="391.06" y2="593.35" stroke="#3c3c3c" stroke-width="1.31"/><line x1="381.88" y1="648.54" x2="383.1" y2="651.76" stroke="#3c3c3c" stroke-width="0.84"/><line x1="325.47" y1="575.23" x2="328.16" y2="576.24" stroke="#3c3c3c" stroke-width="1.29"/><line x1="391.47" y1="635.61" x2="391.29" y2="639.18" stroke="#3c3c3c" stroke-width="1.22"/><line x1="270.53" y1="541.88" x2="273.04" y2="543.29" stroke="#3c3c3c" stroke-width="1.05"/><line x1="260.8" y1="584.67" x2="258.53" y2="586.17" stroke="#3c3c3c" stroke-width="0.99"/><line x1="356.91" y1="531.98" x2="360.3" y2="534.08" stroke="#3c3c3c" stroke-width="1.34"/><line x1="247.29" y1="634.7" x2="247.89" y2="637.55" stroke="#3c3c3c" stroke-width="0.99"/><line x1="348.34" y1="581.49" x2="351.07" y2="582.39" stroke="#3c3c3c" stroke-width="0.88"/><line x1="376.54" y1="636.25" x2="379.06" y2="639.02" stroke="#3c3c3c" stroke-width="1.27"/><line x1="328.06" y1="632.5" x2="330.92" y2="635.02" stroke="#3c3c3c" stroke-width="1.1"/><line x1="252.64" y1="612.6" x2="254.57" y2="614.12" stroke="#3c3c3c" stroke-width="1.11"/><line x1="332.44" y1="533.38" x2="330.77" y2="534.89" stroke="#3c3c3c" stroke-width="1.21"/><line x1="337.53" y1="551.27" x2="339.24" y2="553.95" stroke="#3c3c3c" stroke-width="0.91"/><line x1="291.54" y1="640.5" x2="291.4" y2="643.81" stroke="#3c3c3c" stroke-width="0.97"/><line x1="291.18" y1="582.72" x2="290.99" y2="584.73" stroke="#3c3c3c" stroke-width="0.97"/><line x1="325.08" y1="556.67" x2="321.71" y2="558.03" stroke="#3c3c3c" stroke-width="1.37"/><line x1="277.31" y1="574.48" x2="275.3" y2="576.85" stroke="#3c3c3c" stroke-width="1.21"/><line x1="250.67" y1="599.29" x2="252.1" y2="600.17" stroke="#3c3c3c" stroke-width="0.94"/><line x1="302.41" y1="645.87" x2="299.46" y2="645.93" stroke="#3c3c3c" stroke-width="1.57"/><line x1="373.63" y1="626.96" x2="371.14" y2="628.25" stroke="#3c3c3c" stroke-width="1.39"/><line x1="388.15" y1="551.94" x2="390.55" y2="553.33" stroke="#3c3c3c" stroke-width="1.17"/><line x1="338.46" y1="639.23" x2="337.49" y2="640.5" stroke="#3c3c3c" stroke-width="0.84"/><line x1="246.34" y1="580.45" x2="248" y2="582.72" stroke="#3c3c3c" stroke-width="1.36"/><line x1="287.77" y1="572.73" x2="284.47" y2="573.53" stroke="#3c3c3c" stroke-width="1.49"/><line x1="279.41" y1="615.51" x2="282.63" y2="617.62" stroke="#3c3c3c" stroke-width="1.12"/><line x1="279.71" y1="528.76" x2="277.08" y2="530.59" stroke="#3c3c3c" stroke-width="1.59"/><line x1="290" y1="597.41" x2="288.99" y2="600.31" stroke="#3c3c3c" stroke-width="1.42"/><line x1="259.25" y1="630.38" x2="261.42" y2="630.86" stroke="#3c3c3c" stroke-width="0.95"/><line x1="359.55" y1="600.74" x2="360.2" y2="604.21" stroke="#3c3c3c" stroke-width="0.92"/><line x1="257.95" y1="602.32" x2="261.12" y2="604.11" stroke="#3c3c3c" stroke-width="1.56"/><line x1="349.58" y1="534.04" x2="350.01" y2="535.65" stroke="#3c3c3c" stroke-width="1.39"/><line x1="287.77" y1="538.56" x2="284.78" y2="540.36" stroke="#3c3c3c" stroke-width="1.08"/><line x1="255.1" y1="528.43" x2="255.93" y2="529.97" stroke="#3c3c3c" stroke-width="0.99"/><line x1="318.07" y1="622.67" x2="319.5" y2="623.88" stroke="#3c3c3c" stroke-width="0.92"/><line x1="355.06" y1="599.04" x2="352.33" y2="601.44" stroke="#3c3c3c" stroke-width="1"/><line x1="321.55" y1="568.28" x2="322.18" y2="572.12" stroke="#3c3c3c" stroke-width="1.5"/><line x1="351.45" y1="627.99" x2="349.46" y2="629.87" stroke="#3c3c3c" stroke-width="1.17"/><line x1="281.54" y1="581.85" x2="285.07" y2="583.56" stroke="#3c3c3c" stroke-width="0.95"/><line x1="355.75" y1="631.86" x2="357.65" y2="632.5" stroke="#3c3c3c" stroke-width="1.5"/><line x1="243.86" y1="540.08" x2="242.09" y2="540.31" stroke="#3c3c3c" stroke-width="1.4"/><line x1="316.32" y1="648.4" x2="315.14" y2="650.12" stroke="#3c3c3c" stroke-width="1.42"/><line x1="266.32" y1="578.65" x2="266.36" y2="582.32" stroke="#3c3c3c" stroke-width="1.34"/><line x1="351.88" y1="613.89" x2="354.27" y2="614.13" stroke="#3c3c3c" stroke-width="1.46"/><line x1="333.63" y1="615.99" x2="331.62" y2="616.75" stroke="#3c3c3c" stroke-width="0.96"/><line x1="262.61" y1="635" x2="262.46" y2="638.62" stroke="#3c3c3c" stroke-width="1.35"/><line x1="320.64" y1="536.62" x2="318.22" y2="539.65" stroke="#3c3c3c" stroke-width="1.3"/><line x1="285.95" y1="628.5" x2="285.4" y2="631.45" stroke="#3c3c3c" stroke-width="1.13"/><line x1="378.99" y1="559.95" x2="380.44" y2="561.58" stroke="#3c3c3c" stroke-width="1.21"/><line x1="295.87" y1="647.85" x2="293.18" y2="650.3" stroke="#3c3c3c" stroke-width="0.96"/><line x1="241.96" y1="605.88" x2="238.99" y2="606.65" stroke="#3c3c3c" stroke-width="1.56"/><line x1="256.64" y1="598.99" x2="255.58" y2="601.72" stroke="#3c3c3c" stroke-width="1.41"/><line x1="352.16" y1="625.2" x2="351.66" y2="627.32" stroke="#3c3c3c" stroke-width="1.57"/><line x1="296.61" y1="531.28" x2="295.68" y2="532.95" stroke="#3c3c3c" stroke-width="1.17"/><line x1="342.28" y1="548.85" x2="340.22" y2="549.48" stroke="#3c3c3c" stroke-width="1.26"/><line x1="259.11" y1="641.5" x2="260.82" y2="644.18" stroke="#3c3c3c" stroke-width="1.57"/><line x1="309.68" y1="558.88" x2="312.61" y2="561.25" stroke="#3c3c3c" stroke-width="1.5"/><line x1="303.5" y1="578.45" x2="304.18" y2="580.79" stroke="#3c3c3c" stroke-width="1.12"/><line x1="361.28" y1="604.4" x2="363.49" y2="606.63" stroke="#3c3c3c" stroke-width="0.98"/><line x1="298.68" y1="613.5" x2="296.16" y2="614.63" stroke="#3c3c3c" stroke-width="1.54"/><line x1="258.64" y1="642.58" x2="257.18" y2="643.15" stroke="#3c3c3c" stroke-width="1.57"/><line x1="336.05" y1="544.26" x2="338.28" y2="544.48" stroke="#3c3c3c" stroke-width="1.2"/><line x1="326.64" y1="623.79" x2="329.35" y2="624.2" stroke="#3c3c3c" stroke-width="1.6"/><line x1="366.02" y1="541.82" x2="366.46" y2="544.04" stroke="#3c3c3c" stroke-width="1.57"/><line x1="353.84" y1="632.73" x2="354.78" y2="635.78" stroke="#3c3c3c" stroke-width="1.22"/><line x1="329.26" y1="551.92" x2="329.63" y2="554.3" stroke="#3c3c3c" stroke-width="1.44"/><line x1="287.53" y1="643.13" x2="290.39" y2="643.63" stroke="#3c3c3c" stroke-width="0.93"/><line x1="268.21" y1="628.77" x2="266.01" y2="628.84" stroke="#3c3c3c" stroke-width="0.81"/><line x1="265.48" y1="537.75" x2="268.1" y2="539.98" stroke="#3c3c3c" stroke-width="1.13"/><line x1="367.79" y1="573.25" x2="366.52" y2="576.25" stroke="#3c3c3c" stroke-width="1.52"/><line x1="381.11" y1="572.06" x2="377.53" y2="573.11" stroke="#3c3c3c" stroke-width="1.3"/><line x1="345.13" y1="603.03" x2="344.63" y2="604.99" stroke="#3c3c3c" stroke-width="1.38"/><line x1="261.59" y1="607.02" x2="257.92" y2="608.5" stroke="#3c3c3c" stroke-width="1.5"/><line x1="295.58" y1="537.58" x2="292.9" y2="538.36" stroke="#3c3c3c" stroke-width="1.31"/><line x1="380.55" y1="597.81" x2="378.68" y2="599.45" stroke="#3c3c3c" stroke-width="1.35"/><line x1="300.19" y1="563.46" x2="298.37" y2="565.78" stroke="#3c3c3c" stroke-width="1.02"/><line x1="320.64" y1="602.79" x2="319.61" y2="603.96" stroke="#3c3c3c" stroke-width="1.31"/><line x1="331.29" y1="534.3" x2="332.4" y2="537.04" stroke="#3c3c3c" stroke-width="1.44"/><line x1="306.66" y1="579.37" x2="305.07" y2="580.16" stroke="#3c3c3c" stroke-width="1.59"/><line x1="356.53" y1="531.49" x2="356.59" y2="533.02" stroke="#3c3c3c" stroke-width="0.96"/><line x1="317.79" y1="582.17" x2="319.3" y2="584.3" stroke="#3c3c3c" stroke-width="0.85"/><line x1="242.13" y1="589.67" x2="241.47" y2="591.73" stroke="#3c3c3c" stroke-width="1.11"/><line x1="388.42" y1="526.82" x2="388.6" y2="530.69" stroke="#3c3c3c" stroke-width="1.06"/><line x1="370.29" y1="540.7" x2="370.65" y2="543.67" stroke="#3c3c3c" stroke-width="1.17"/><line x1="380.21" y1="570.98" x2="381.42" y2="573.09" stroke="#3c3c3c" stroke-width="1.24"/><line x1="269.36" y1="554.42" x2="272.09" y2="557.01" stroke="#3c3c3c" stroke-width="1.42"/><line x1="269.92" y1="616.98" x2="270.19" y2="619.49" stroke="#3c3c3c" stroke-width="1.41"/><line x1="372.83" y1="578.14" x2="374.28" y2="578.62" stroke="#3c3c3c" stroke-width="1.51"/><line x1="341.88" y1="542.11" x2="344.17" y2="542.11" stroke="#3c3c3c" stroke-width="0.92"/><line x1="290.64" y1="525.58" x2="292.51" y2="527.81" stroke="#3c3c3c" stroke-width="1.24"/><line x1="364.9" y1="616.91" x2="362.63" y2="617.5" stroke="#3c3c3c" stroke-width="1.58"/><line x1="297.57" y1="636.68" x2="300.28" y2="638.93" stroke="#3c3c3c" stroke-width="1.48"/><line x1="371.05" y1="610.43" x2="368.43" y2="610.48" stroke="#3c3c3c" stroke-width="1.19"/><line x1="268.11" y1="533.23" x2="268" y2="534.85" stroke="#3c3c3c" stroke-width="1.04"/><line x1="288.94" y1="628.8" x2="288.95" y2="630.59" stroke="#3c3c3c" stroke-width="1.4"/><line x1="337.01" y1="628.25" x2="338.25" y2="629.25" stroke="#3c3c3c" stroke-width="0.88"/><line x1="356.39" y1="647.12" x2="357.88" y2="647.66" stroke="#3c3c3c" stroke-width="0.84"/><line x1="274.98" y1="629.06" x2="273.63" y2="630.42" stroke="#3c3c3c" stroke-width="0.95"/><line x1="375.71" y1="569.28" x2="377.9" y2="569.89" stroke="#3c3c3c" stroke-width="1.04"/><line x1="369.81" y1="543.71" x2="371.52" y2="547.23" stroke="#3c3c3c" stroke-width="0.94"/><line x1="252.89" y1="644.25" x2="253.33" y2="645.8" stroke="#3c3c3c" stroke-width="1.35"/><line x1="296.36" y1="543.26" x2="297.98" y2="546.38" stroke="#3c3c3c" stroke-width="1.34"/><line x1="276.57" y1="543.34" x2="275.49" y2="545.01" stroke="#3c3c3c" stroke-width="1.57"/><line x1="356.51" y1="596.5" x2="355.12" y2="598.42" stroke="#3c3c3c" stroke-width="1.12"/><line x1="296.5" y1="586.98" x2="294.59" y2="587.19" stroke="#3c3c3c" stroke-width="1.19"/><line x1="267.26" y1="621.83" x2="265.07" y2="622.35" stroke="#3c3c3c" stroke-width="1.2"/><line x1="323" y1="635.24" x2="320.82" y2="637.57" stroke="#3c3c3c" stroke-width="1.11"/><line x1="359.76" y1="570.65" x2="360.78" y2="571.91" stroke="#3c3c3c" stroke-width="1.43"/><line x1="292.46" y1="617.99" x2="294.59" y2="619.74" stroke="#3c3c3c" stroke-width="1.57"/><line x1="364.83" y1="631.4" x2="361.78" y2="632.87" stroke="#3c3c3c" stroke-width="0.88"/><line x1="372.97" y1="639.9" x2="370.02" y2="641.96" stroke="#3c3c3c" stroke-width="1.2"/><line x1="279.22" y1="593.51" x2="276.78" y2="593.67" stroke="#3c3c3c" stroke-width="1.06"/><line x1="328.83" y1="639.76" x2="327.29" y2="642.82" stroke="#3c3c3c" stroke-width="0.83"/><line x1="376.38" y1="563.4" x2="373.85" y2="565.82" stroke="#3c3c3c" stroke-width="1.42"/><line x1="263.51" y1="629.21" x2="267.15" y2="629.29" stroke="#3c3c3c" stroke-width="0.91"/><line x1="363.12" y1="575.8" x2="365.54" y2="577.15" stroke="#3c3c3c" stroke-width="1.53"/><line x1="300.5" y1="590.08" x2="296.99" y2="591.95" stroke="#3c3c3c" stroke-width="1.17"/><line x1="313.91" y1="603.76" x2="314.66" y2="606.29" stroke="#3c3c3c" stroke-width="1.36"/><line x1="256.44" y1="554.49" x2="256.9" y2="557.34" stroke="#3c3c3c" stroke-width="0.83"/><line x1="321.44" y1="634.61" x2="320.17" y2="635.55" stroke="#3c3c3c" stroke-width="1.01"/><line x1="389.85" y1="640.95" x2="391.63" y2="642.6" stroke="#3c3c3c" stroke-width="1.33"/><line x1="287.06" y1="633.36" x2="287.48" y2="636.38" stroke="#3c3c3c" stroke-width="1.5"/><line x1="245.11" y1="582.66" x2="247.24" y2="584.94" stroke="#3c3c3c" stroke-width="1.41"/><line x1="334.01" y1="529.66" x2="334.92" y2="531.01" stroke="#3c3c3c" stroke-width="0.81"/><line x1="337.42" y1="616.38" x2="335.62" y2="616.87" stroke="#3c3c3c" stroke-width="1.59"/><line x1="386.67" y1="621.8" x2="384.61" y2="623.28" stroke="#3c3c3c" stroke-width="1.57"/><line x1="335.24" y1="559.6" x2="337.8" y2="561.66" stroke="#3c3c3c" stroke-width="1.59"/><line x1="352.84" y1="560.65" x2="353.31" y2="563.25" stroke="#3c3c3c" stroke-width="0.87"/><line x1="340.25" y1="585.71" x2="339.53" y2="589.6" stroke="#3c3c3c" stroke-width="1.59"/><line x1="306.51" y1="551.3" x2="307.59" y2="552.5" stroke="#3c3c3c" stroke-width="1.11"/><line x1="363.84" y1="582.47" x2="360.5" y2="582.62" stroke="#3c3c3c" stroke-width="0.87"/><line x1="305.3" y1="570.52" x2="306.03" y2="573.77" stroke="#3c3c3c" stroke-width="1.13"/><line x1="328.73" y1="622.65" x2="327.61" y2="623.91" stroke="#3c3c3c" stroke-width="1.05"/><line x1="254.04" y1="633.43" x2="254.88" y2="634.7" stroke="#3c3c3c" stroke-width="1.19"/><line x1="354.09" y1="543.75" x2="354.58" y2="545.25" stroke="#3c3c3c" stroke-width="1.38"/><line x1="299.28" y1="558.8" x2="300.36" y2="560.97" stroke="#3c3c3c" stroke-width="1.51"/><line x1="245.94" y1="622.68" x2="245.28" y2="624.75" stroke="#3c3c3c" stroke-width="1.03"/><line x1="390.1" y1="646.94" x2="388.18" y2="648.61" stroke="#3c3c3c" stroke-width="0.93"/><line x1="386.21" y1="613.75" x2="390.17" y2="613.84" stroke="#3c3c3c" stroke-width="1.37"/><line x1="355.93" y1="548.38" x2="354.9" y2="549.98" stroke="#3c3c3c" stroke-width="1.33"/><line x1="372.24" y1="594.82" x2="372.62" y2="597.56" stroke="#3c3c3c" stroke-width="1.6"/><line x1="332.54" y1="548.11" x2="329.52" y2="548.82" stroke="#3c3c3c" stroke-width="1.19"/><line x1="390.27" y1="613.04" x2="388.28" y2="614.55" stroke="#3c3c3c" stroke-width="1.56"/><line x1="345.19" y1="557.61" x2="342.43" y2="560.23" stroke="#3c3c3c" stroke-width="1.13"/><line x1="269.98" y1="534.52" x2="270.59" y2="536.33" stroke="#3c3c3c" stroke-width="1"/><line x1="383.58" y1="616.05" x2="385.46" y2="619.43" stroke="#3c3c3c" stroke-width="1.5"/><line x1="324.16" y1="606.78" x2="327.59" y2="607.68" stroke="#3c3c3c" stroke-width="1.04"/><line x1="291.49" y1="593.47" x2="287.64" y2="594.36" stroke="#3c3c3c" stroke-width="1.53"/><line x1="375.47" y1="581.6" x2="373.96" y2="582.21" stroke="#3c3c3c" stroke-width="0.99"/><line x1="305.04" y1="578.08" x2="303.53" y2="579.06" stroke="#3c3c3c" stroke-width="0.83"/><line x1="250.41" y1="557.43" x2="250.15" y2="559.23" stroke="#3c3c3c" stroke-width="0.9"/><line x1="387.63" y1="621.3" x2="386.53" y2="623.15" stroke="#3c3c3c" stroke-width="1.41"/><line x1="330.2" y1="617.28" x2="328.89" y2="618.62" stroke="#3c3c3c" stroke-width="1.39"/><line x1="251.55" y1="630.41" x2="248.19" y2="630.54" stroke="#3c3c3c" stroke-width="1.28"/><line x1="286.13" y1="575.93" x2="288.2" y2="578.01" stroke="#3c3c3c" stroke-width="1.47"/><line x1="330.29" y1="542.44" x2="328.59" y2="545.71" stroke="#3c3c3c" stroke-width="0.87"/><line x1="318.28" y1="642.29" x2="319" y2="644.12" stroke="#3c3c3c" stroke-width="1.15"/><line x1="249.37" y1="587.96" x2="247.79" y2="591.19" stroke="#3c3c3c" stroke-width="1.17"/><line x1="283.12" y1="639.74" x2="281.65" y2="640.71" stroke="#3c3c3c" stroke-width="1.18"/><line x1="309.67" y1="586.06" x2="312.09" y2="587.98" stroke="#3c3c3c" stroke-width="0.9"/><line x1="362.67" y1="644.12" x2="362.69" y2="646.96" stroke="#3c3c3c" stroke-width="1.19"/><line x1="274.43" y1="582.5" x2="276" y2="583.75" stroke="#3c3c3c" stroke-width="0.97"/><line x1="377.7" y1="541.17" x2="379.7" y2="541.86" stroke="#3c3c3c" stroke-width="1.4"/><line x1="339.2" y1="648.97" x2="341.66" y2="651.13" stroke="#3c3c3c" stroke-width="1.04"/><line x1="383.88" y1="525.68" x2="381.05" y2="527.03" stroke="#3c3c3c" stroke-width="1.2"/><line x1="336.14" y1="531.87" x2="339.19" y2="533.1" stroke="#3c3c3c" stroke-width="0.99"/><line x1="253.96" y1="579.28" x2="253.44" y2="581.57" stroke="#3c3c3c" stroke-width="1.05"/><line x1="388.76" y1="600.21" x2="388.36" y2="602.92" stroke="#3c3c3c" stroke-width="1.14"/><line x1="247.06" y1="533.48" x2="247.39" y2="535.78" stroke="#3c3c3c" stroke-width="1.03"/><line x1="368.78" y1="537.26" x2="371.03" y2="539.72" stroke="#3c3c3c" stroke-width="1.45"/><line x1="387.88" y1="596.3" x2="390.76" y2="598.36" stroke="#3c3c3c" stroke-width="0.99"/><line x1="297.74" y1="642.82" x2="298.94" y2="645.78" stroke="#3c3c3c" stroke-width="1.18"/><line x1="261.47" y1="568.14" x2="261.49" y2="570.59" stroke="#3c3c3c" stroke-width="1.19"/><line x1="311.82" y1="568.22" x2="312.24" y2="569.96" stroke="#3c3c3c" stroke-width="1.38"/><line x1="292.4" y1="589.58" x2="294.64" y2="592.16" stroke="#3c3c3c" stroke-width="1.36"/><line x1="344.88" y1="569.55" x2="346.68" y2="570.39" stroke="#3c3c3c" stroke-width="1.58"/><line x1="248.77" y1="592.14" x2="248.67" y2="594.37" stroke="#3c3c3c" stroke-width="1.23"/><line x1="256.5" y1="624.21" x2="257.95" y2="624.69" stroke="#3c3c3c" stroke-width="1.24"/><line x1="336.9" y1="648.99" x2="335.33" y2="652.57" stroke="#3c3c3c" stroke-width="1.44"/><line x1="311.26" y1="550.41" x2="311.68" y2="552.12" stroke="#3c3c3c" stroke-width="0.94"/><line x1="288.5" y1="584.32" x2="291.89" y2="584.68" stroke="#3c3c3c" stroke-width="1.12"/><line x1="294.11" y1="547.54" x2="295.22" y2="550.18" stroke="#3c3c3c" stroke-width="1.18"/><line x1="313.2" y1="574.41" x2="313.35" y2="577.06" stroke="#3c3c3c" stroke-width="1.59"/><line x1="322.51" y1="607.64" x2="320.39" y2="609.33" stroke="#3c3c3c" stroke-width="1.29"/><line x1="344.73" y1="607.84" x2="348.41" y2="608.12" stroke="#3c3c3c" stroke-width="1.29"/><line x1="252.82" y1="598.75" x2="251.37" y2="600.53" stroke="#3c3c3c" stroke-width="1.26"/><line x1="254.63" y1="632.64" x2="255.4" y2="634.73" stroke="#3c3c3c" stroke-width="1.18"/><line x1="300.44" y1="545.72" x2="302.54" y2="547.26" stroke="#3c3c3c" stroke-width="1"/><line x1="319.28" y1="588.32" x2="317.32" y2="591.24" stroke="#3c3c3c" stroke-width="0.93"/><line x1="373.38" y1="619.67" x2="374.11" y2="622.68" stroke="#3c3c3c" stroke-width="1.45"/><line x1="258.44" y1="593.52" x2="259.82" y2="594.35" stroke="#3c3c3c" stroke-width="1.51"/><line x1="380.01" y1="538.7" x2="382.64" y2="540.79" stroke="#3c3c3c" stroke-width="1.45"/><line x1="283.68" y1="587.85" x2="283.52" y2="590.58" stroke="#3c3c3c" stroke-width="0.98"/><line x1="386.38" y1="645.88" x2="388.88" y2="648.88" stroke="#3c3c3c" stroke-width="0.99"/><line x1="276.11" y1="588.76" x2="277.59" y2="590.28" stroke="#3c3c3c" stroke-width="0.86"/><line x1="383.38" y1="619.64" x2="380.74" y2="619.92" stroke="#3c3c3c" stroke-width="1.47"/><line x1="355.34" y1="630.72" x2="357.61" y2="631.91" stroke="#3c3c3c" stroke-width="1.27"/><line x1="257.51" y1="565.57" x2="258.35" y2="567.1" stroke="#3c3c3c" stroke-width="1.13"/><line x1="324.29" y1="594.96" x2="324.23" y2="598.48" stroke="#3c3c3c" stroke-width="1"/><line x1="365.52" y1="633.78" x2="365.06" y2="635.76" stroke="#3c3c3c" stroke-width="1.6"/><line x1="370.3" y1="636.27" x2="372.2" y2="637.66" stroke="#3c3c3c" stroke-width="0.89"/><line x1="285.03" y1="564.66" x2="287.44" y2="566.05" stroke="#3c3c3c" stroke-width="1.37"/><line x1="277.59" y1="594.07" x2="279.29" y2="596.24" stroke="#3c3c3c" stroke-width="0.87"/><line x1="381.85" y1="637.56" x2="379.75" y2="638.74" stroke="#3c3c3c" stroke-width="1.12"/><line x1="347.51" y1="601.63" x2="345.8" y2="603.14" stroke="#3c3c3c" stroke-width="1.05"/><line x1="248.6" y1="572.51" x2="250.44" y2="572.59" stroke="#3c3c3c" stroke-width="1.52"/><line x1="391.56" y1="535.98" x2="392.04" y2="539.55" stroke="#3c3c3c" stroke-width="0.87"/><line x1="392.03" y1="602.14" x2="390.9" y2="604.41" stroke="#3c3c3c" stroke-width="1.48"/><line x1="293.88" y1="638" x2="296.77" y2="640.16" stroke="#3c3c3c" stroke-width="0.96"/><line x1="278.17" y1="565.82" x2="278.86" y2="569.15" stroke="#3c3c3c" stroke-width="0.99"/><line x1="276.46" y1="557.41" x2="276.43" y2="559.27" stroke="#3c3c3c" stroke-width="1.15"/><line x1="299.86" y1="623.97" x2="298.64" y2="624.91" stroke="#3c3c3c" stroke-width="0.84"/><line x1="391.49" y1="551.73" x2="389.33" y2="554.6" stroke="#3c3c3c" stroke-width="1.48"/><line x1="359.22" y1="526.24" x2="356.99" y2="527.57" stroke="#3c3c3c" stroke-width="1.5"/><line x1="248.6" y1="650.91" x2="251.71" y2="651.97" stroke="#3c3c3c" stroke-width="1.07"/><line x1="295.09" y1="621.41" x2="292.31" y2="622.42" stroke="#3c3c3c" stroke-width="1.22"/><line x1="250.73" y1="621.54" x2="252.64" y2="622.29" stroke="#3c3c3c" stroke-width="1.12"/><line x1="378.2" y1="609.81" x2="379.38" y2="611.56" stroke="#3c3c3c" stroke-width="1"/><line x1="367.3" y1="584.04" x2="368.95" y2="585.1" stroke="#3c3c3c" stroke-width="0.96"/><line x1="264.39" y1="647.94" x2="265.92" y2="648.04" stroke="#3c3c3c" stroke-width="0.96"/><line x1="284.58" y1="611.55" x2="285.69" y2="614.27" stroke="#3c3c3c" stroke-width="1.04"/><line x1="311.51" y1="632.95" x2="309.24" y2="634.52" stroke="#3c3c3c" stroke-width="0.93"/><line x1="320.37" y1="553.1" x2="321.2" y2="554.99" stroke="#3c3c3c" stroke-width="1.47"/><line x1="290.75" y1="644.55" x2="290.85" y2="647.99" stroke="#3c3c3c" stroke-width="1.51"/><line x1="326.31" y1="582.57" x2="328.24" y2="585.39" stroke="#3c3c3c" stroke-width="0.83"/><line x1="249.12" y1="646.31" x2="248.76" y2="647.96" stroke="#3c3c3c" stroke-width="1.09"/><line x1="256.12" y1="647.46" x2="258.93" y2="647.47" stroke="#3c3c3c" stroke-width="0.85"/><line x1="287.2" y1="572.06" x2="289.04" y2="574.99" stroke="#3c3c3c" stroke-width="0.89"/><line x1="345.57" y1="571.86" x2="342.46" y2="571.93" stroke="#3c3c3c" stroke-width="1.24"/><line x1="364.41" y1="590.24" x2="362.67" y2="591.79" stroke="#3c3c3c" stroke-width="1.54"/><line x1="294.49" y1="643.46" x2="294" y2="645.15" stroke="#3c3c3c" stroke-width="0.87"/><line x1="279.85" y1="554.45" x2="282.27" y2="555.47" stroke="#3c3c3c" stroke-width="1.02"/><line x1="287.74" y1="544.47" x2="286.94" y2="546.37" stroke="#3c3c3c" stroke-width="1.08"/><line x1="245.39" y1="546.69" x2="247.31" y2="547.88" stroke="#3c3c3c" stroke-width="1.59"/><line x1="310.97" y1="595.77" x2="313.41" y2="596.51" stroke="#3c3c3c" stroke-width="1.52"/><line x1="293.36" y1="593.52" x2="292.69" y2="595.06" stroke="#3c3c3c" stroke-width="1.27"/><line x1="287.6" y1="541.01" x2="289.46" y2="541.28" stroke="#3c3c3c" stroke-width="1.34"/><line x1="392.49" y1="595.52" x2="391.73" y2="598.37" stroke="#3c3c3c" stroke-width="1.1"/><line x1="351.33" y1="636.47" x2="351.96" y2="638.4" stroke="#3c3c3c" stroke-width="1.26"/><line x1="246.16" y1="581.38" x2="245.63" y2="583.85" stroke="#3c3c3c" stroke-width="0.86"/><line x1="350.17" y1="583.88" x2="349.28" y2="585.62" stroke="#3c3c3c" stroke-width="1.1"/><line x1="244.28" y1="571.43" x2="244.71" y2="573.78" stroke="#3c3c3c" stroke-width="1.19"/><line x1="349.38" y1="549.69" x2="351.14" y2="551.77" stroke="#3c3c3c" stroke-width="0.89"/><line x1="272.64" y1="541.09" x2="269.87" y2="542.48" stroke="#3c3c3c" stroke-width="0.91"/><line x1="319.83" y1="542.5" x2="322.01" y2="545.55" stroke="#3c3c3c" stroke-width="1.37"/><line x1="254.11" y1="628.12" x2="254.98" y2="631.16" stroke="#3c3c3c" stroke-width="0.97"/><line x1="332.77" y1="643.4" x2="333.75" y2="645.82" stroke="#3c3c3c" stroke-width="1.54"/><line x1="267.12" y1="636.69" x2="264.54" y2="637.11" stroke="#3c3c3c" stroke-width="1.21"/><line x1="281.95" y1="647.15" x2="279.41" y2="647.97" stroke="#3c3c3c" stroke-width="1.24"/><line x1="317.5" y1="537.06" x2="316.83" y2="538.68" stroke="#3c3c3c" stroke-width="1.52"/><line x1="267.48" y1="529.49" x2="268.17" y2="530.93" stroke="#3c3c3c" stroke-width="0.89"/><line x1="319.38" y1="589.57" x2="323.1" y2="590.61" stroke="#3c3c3c" stroke-width="1.07"/><line x1="392.5" y1="527.51" x2="393.92" y2="530.94" stroke="#3c3c3c" stroke-width="1.21"/><line x1="384.63" y1="626.33" x2="386.56" y2="626.92" stroke="#3c3c3c" stroke-width="1.26"/><line x1="282.85" y1="599.21" x2="281.03" y2="600.66" stroke="#3c3c3c" stroke-width="1.05"/><line x1="385.38" y1="631.84" x2="386.63" y2="632.86" stroke="#3c3c3c" stroke-width="1.1"/><line x1="358.73" y1="627.89" x2="359.93" y2="629.81" stroke="#3c3c3c" stroke-width="0.94"/><line x1="276.64" y1="609.93" x2="274.94" y2="611.96" stroke="#3c3c3c" stroke-width="0.96"/><line x1="263.55" y1="638.74" x2="267.23" y2="639.79" stroke="#3c3c3c" stroke-width="0.97"/><line x1="321.25" y1="582.17" x2="318.48" y2="584.61" stroke="#3c3c3c" stroke-width="1.01"/><line x1="319.01" y1="595.37" x2="317.34" y2="596.89" stroke="#3c3c3c" stroke-width="0.96"/><line x1="282.54" y1="591.38" x2="280.58" y2="592.29" stroke="#3c3c3c" stroke-width="1.12"/><line x1="276.01" y1="541.14" x2="278.34" y2="541.7" stroke="#3c3c3c" stroke-width="1.49"/><line x1="329.24" y1="632.6" x2="332.99" y2="632.99" stroke="#3c3c3c" stroke-width="1.22"/><line x1="343.5" y1="535.86" x2="340.18" y2="537.32" stroke="#3c3c3c" stroke-width="1.4"/><line x1="292.44" y1="566.88" x2="292.4" y2="569.59" stroke="#3c3c3c" stroke-width="1.11"/><line x1="269.79" y1="600.1" x2="269.74" y2="602.9" stroke="#3c3c3c" stroke-width="0.95"/><line x1="352.17" y1="593.84" x2="350.19" y2="594.49" stroke="#3c3c3c" stroke-width="1.07"/><line x1="345.21" y1="544.43" x2="345.02" y2="546.01" stroke="#3c3c3c" stroke-width="0.9"/><line x1="384.1" y1="590.44" x2="385.72" y2="590.72" stroke="#3c3c3c" stroke-width="0.83"/><line x1="297.94" y1="625.52" x2="299.11" y2="626.83" stroke="#3c3c3c" stroke-width="0.96"/>
</g>
<polygon points="409.8,527.8 393.5,527.8 394.5,540 393,552 393.8,566 392.5,580 391.5,596 391,612 390,626 389.5,640 389,651 409.8,651" fill="#4b4b4b" stroke="none" stroke-width="1"/>
</g>
<text x="397.4" y="640.6" font-size="6.8" text-anchor="middle" fill="#fff">40 μm</text>
<rect x="390.2" y="643.6" width="14.5" height="2.3" fill="#fff" stroke="none" stroke-width="1"/>
<text x="421.1" y="534.3" font-size="16.3" fill="#111">L</text>
<text x="508.1" y="540.3" font-size="13.5" text-anchor="start" fill="#111">Contact detection</text>
<text x="639.6" y="579.2" font-size="13.5" text-anchor="start" fill="#111">Force</text>
<text x="632.9" y="623.6" font-size="13.5" text-anchor="start" fill="#111">Material</text>
<path d="M540.57 584.68 L541.76 582.04 L542.95 579.1 L544.14 576.16 L545.33 573.52 L546.52 571.41 L547.71 570.06 L548.9 569.6 L549.75 570.06 L550.6 571.41 L551.45 573.52 L552.3 576.16 L553.15 579.1 L554 582.04 L554.85 584.68 L555.7 586.79 L556.55 588.14 L557.4 588.6 L558.24 587.89 L559.08 585.81 L559.92 582.58 L560.76 578.51 L561.6 574 L562.44 569.49 L563.28 565.42 L564.12 562.19 L564.96 560.11 L565.8 559.4 L566.8 560.17 L567.8 562.39 L568.8 565.85 L569.8 570.21 L570.8 575.05 L571.8 579.89 L572.8 584.25 L573.8 587.71 L574.8 589.93 L575.8 590.7 L576.67 589.67 L577.54 586.68 L578.41 582.02 L579.28 576.15 L580.15 569.65 L581.02 563.15 L581.89 557.28 L582.76 552.62 L583.63 549.63 L584.5 548.6 L585.65 549.71 L586.8 552.94 L587.95 557.96 L589.1 564.29 L590.25 571.3 L591.4 578.31 L592.55 584.64 L593.7 589.66 L594.4 588.4" fill="none" stroke="#1a6cb4" stroke-width="2.8" stroke-linejoin="round"/>
<path d="M514.9 616.3 L523.7 614.5 Q527.7 613.5 529.2 607.6 Q530.2 614 534.2 616 Q540.2 617 543.2 627.9 Q546.2 617 553.2 616.3 L558.8 614.5 Q562.8 613.5 564.3 607.6 Q565.3 614 569.3 616 Q575.3 617 578.3 627.9 Q581.3 617 588.3 616.3 L593.9 614.5 Q597.9 613.5 599.4 607.6 Q600.4 614 604.4 616 Q610.4 617 613.4 627.9 Q616.4 617 623.4 616.3 L626.4 616.3" fill="none" stroke="#1a9a8a" stroke-width="2.2" stroke-linejoin="round"/>
<defs><linearGradient id="gfa" x1="0" y1="1" x2="1" y2="0"><stop offset="0" stop-color="#c9d0d6"/><stop offset="0.45" stop-color="#e9edf0"/><stop offset="1" stop-color="#f6f8f9"/></linearGradient></defs><path d="M437.3 531.9 C448 532.4, 462 533.6, 471.4 534.6 C475.5 539, 478.4 545.5, 480.5 550 C482.8 554.3, 484.5 558, 486 562.5 L470.5 571 C468 568.5, 465.3 566.5, 463.5 563 C460.9 559.5, 459 555.5, 456.5 552.5 C452 548.5, 446 544, 441 539 C438.5 536.5, 437.3 534, 437.3 531.9 Z" fill="url(#gfa)"/><path d="M439 535 C446 541, 453 547, 458.5 553 C462 557, 464.5 562, 468.5 567.5 L466.5 568.5 C462 563, 459 558, 455.5 554 C450 548.5, 444 543, 439 535 Z" fill="#c5ccd3" opacity="0.8"/><path d="M437.3 531.9 L449.5 532.3 C448 535, 446 537.5, 443 538.8 C440.5 537.5, 438.5 535, 437.3 531.9 Z" fill="#1f2630"/><circle cx="474" cy="559.1" r="0.9" fill="#3a4450"/><circle cx="482.4" cy="558.6" r="0.9" fill="#3a4450"/><ellipse cx="478.6" cy="567.6" rx="10.2" ry="5" transform="rotate(-14 478.6 567.6)" fill="#262a30"/><ellipse cx="477.8" cy="566.6" rx="6.2" ry="2.7" transform="rotate(-14 477.8 566.6)" fill="#5a4a30"/><path d="M473 567.5 C475 565.5, 479 564.5, 482 564.8" stroke="#c8962e" stroke-width="1" fill="none"/><path d="M469.8 571 C475 573.5, 483 572.5, 488.5 569.5 L488.8 572.5 C483 575.5, 475 576, 470.2 574 Z" fill="#30353c"/><path d="M471.5 574 C477 572.5, 483 571.8, 488.4 572.3 C491 577, 493.3 583, 494.8 589 C495.8 593, 496.4 596, 496 598.4 L487.4 600.6 C484 597, 481 594, 479.8 593 C477 591.5, 474 590.5, 472.3 589.8 C471.2 586, 470.8 580, 471.5 574 Z" fill="#eceff2"/><path d="M469.3 575.8 C471.5 574.6, 474 574.2, 477 574.2 C475.5 578, 474.8 582, 475.2 586 L473.2 592.8 L470.6 593 C469 588, 468.6 581, 469.3 575.8 Z" fill="#3b4047"/><path d="M460.8 592.5 C462.5 591.5, 464.5 592, 465.3 594 C465.6 599, 466 604, 468.5 607.5 C471.5 610, 476 611, 480.5 610.5 L481.5 613.5 C477 616, 471 616.2, 466.5 614 C462 611.5, 459.5 606, 458.8 600.5 C458.6 597, 459.3 594, 460.8 592.5 Z" fill="#eceff2" stroke="#a3acb4" stroke-width="0.6"/><path d="M465.8 591.2 C467.5 590.4, 469.5 591, 470 593 C470.3 597.5, 471.5 601.5, 474.5 604.5 C477 606, 479.5 606.5, 481.5 606 L482 609.5 C478.5 610.8, 474 610.2, 470.5 607.5 C467.5 604.5, 466 600, 465.5 595.5 Z" fill="#f3f5f7" stroke="#a3acb4" stroke-width="0.6"/><path d="M465.4 592.5 C465.6 599, 467 604, 470 607.5 M470.3 591.8 C470.6 597, 472.5 601.5, 476 604.5" stroke="#8f99a3" stroke-width="0.8" fill="none"/><path d="M459.5 599 L463.5 598.5 M460.5 605.5 L464.5 603.8 M465 611 L467.5 608 M466 596.5 L470 596 M468.5 603.5 L471.8 601.5" stroke="#2b3038" stroke-width="1.2"/><path d="M476.5 590 L482 592.5 L475 609 L469.5 606.5 Z" fill="#eceff2" stroke="#a3acb4" stroke-width="0.6"/><path d="M473.8 600.5 L478.6 602.5" stroke="#2b3038" stroke-width="1.3"/><circle cx="479.3" cy="587.7" r="4.3" fill="#2b3038"/><circle cx="479.3" cy="587.7" r="2.2" fill="#557088"/><circle cx="480.6" cy="586.5" r="0.9" fill="#2f86bd"/><path d="M478.7 596.5 C482 594.5, 487 594.2, 491 595 C494 596.5, 496 599, 496.3 601.5 C494 604.5, 489 606.5, 484.5 606.3 C481.5 604.5, 479.3 601, 478.7 596.5 Z" fill="#2b3038"/><circle cx="485" cy="603.5" r="1.6" fill="#2f86bd"/><circle cx="492" cy="599.5" r="1.4" fill="#2f86bd"/><circle cx="486.5" cy="598" r="1" fill="#2f86bd"/><path d="M489.5 603.5 C492 602.5, 495 602.5, 497.5 604 C499.5 612, 501.5 621, 503.6 630 C503.9 632, 503.6 633.5, 503 633.6 C501.5 632.5, 500.2 630.5, 499.3 628 C496 620, 492.3 612, 489.5 603.5 Z" fill="#eceff2"/><path d="M490.5 606 C493 614, 496 621, 499.3 628" stroke="#c5ccd3" stroke-width="1" fill="none" opacity="0.7"/><circle cx="494.9" cy="610.3" r="3.3" fill="#2b3038"/><circle cx="495.4" cy="610" r="1.5" fill="#2f86bd"/><path d="M496.2 621.8 L501.2 620.5" stroke="#2b3038" stroke-width="1.5"/>
</svg>
</body></html>
